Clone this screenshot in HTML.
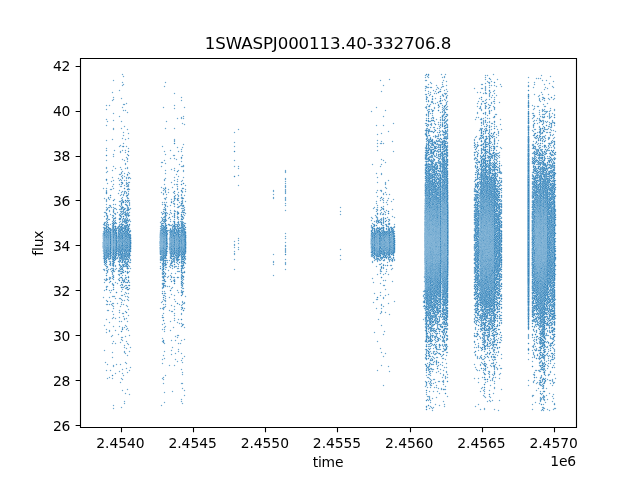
<!DOCTYPE html>
<html lang="en">
<head>
<meta charset="utf-8">
<title>1SWASPJ000113.40-332706.8</title>
<style>
html,body{margin:0;padding:0;background:#fff;}
body{width:640px;height:480px;overflow:hidden;}
svg{display:block;}
text{font-family:"DejaVu Sans","Liberation Sans",sans-serif;fill:#000;}
.t10{font-size:13.889px;letter-spacing:-0.16px;}
.t12{font-size:16.667px;letter-spacing:-0.11px;}
.ax{stroke:#000;stroke-width:1.111;fill:none;}
</style>
</head>
<body>
<svg width="640" height="480" viewBox="0 0 640 480">
<rect width="640" height="480" fill="#fff"/>
<g id="pts">
<g transform="translate(.5 0)" fill="none" stroke-width="1" shape-rendering="crispEdges">
<path stroke="#f0f6fa" d="M102 188v1m0 35v1m0 2v1m0 3v1m0 7v1m0 1v1m0 9v1m0 1v1m0 2v1m0 1v1m0 10v1m0 27v1m1-111v1m0 1v1m0 8v1m0 13v1m0 3v1m0 5v1m0 3v1m0 37v1m0 3v1m0 10v1m0 2v1m0 7v1m0 5v1m0 1v1m0 26v1m0 24v1m1-163v1m0 8v1m0 1v1m0 11v1m0 1v1m0 1v1m0 1v1m0 3v1m0 46v1m0 2v1m0 6v1m0 2v1m0 1v1m0 5v1m0 1v1m0 5v1m0 26v1m0 1v1m0 22v1m0 1v1m0 10v1m1-258v1m0 3v1m0 9v1m0 5v1m0 14v1m0 7v1m0 1v1m0 9v1m0 6v2m0 3v1m0 7v1m0 7v1m0 1v2m0 6v4m0 2v1m0 2v1m0 1v3m0 2v3m0 1v2m0 48v2m0 3v1m0 4v1m0 2v2m0 3v2m0 2v1m0 9v1m0 3v1m0 14v1m0 5v1m0 3v1m0 2v1m0 17v1m0 10v1m0 1v1m0 6v1m1-267v1m0 1v1m0 1v1m0 1v1m0 7v1m0 1v2m0 2v1m0 1v1m0 12v1m0 1v1m0 5v1m0 3v1m0 7v1m0 1v1m0 4v1m0 2v1m0 3v1m0 7v1m0 1v1m0 3v1m0 10v1m0 3v2m0 1v2m0 4v1m0 65v1m0 3v1m0 3v1m0 13v1m0 3v1m0 1v1m0 4v1m0 7v1m0 1v1m0 7v1m0 1v2m0 1v1m0 28v1m0 1v1m0 4v1m0 1v1m0 6v1m1-274v1m0 3v1m0 9v2m0 1v1m0 2v1m0 14v1m0 7v1m0 1v1m0 9v1m0 6v2m0 1v1m0 9v1m0 1v1m0 1v1m0 3v1m0 1v2m0 5v5m0 2v1m0 54v1m0 1v1m0 2v2m0 19v1m0 17v1m0 1v1m0 3v1m0 1v1m0 7v1m0 9v1m0 2v1m0 30v1m0 1v1m0 4v1m0 6v1m0 1v1m1-275v1m0 15v1m0 49v1m0 11v1m0 12v1m0 8v2m0 2v3m0 3v1m0 1v1m0 5v1m0 36v2m0 2v1m0 1v3m0 3v1m0 4v2m0 3v1m0 3v1m0 3v1m0 6v1m0 11v1m0 1v1m0 10v1m0 7v2m0 32v1m0 12v2m1-275v1m0 1v1m0 82v1m0 10v1m0 3v1m0 3v2m0 2v1m0 1v1m0 3v1m0 1v1m0 4v1m0 50v1m0 3v1m0 2v1m0 5v1m0 1v2m0 3v1m0 1v1m0 2v1m0 1v1m0 1v1m0 4v1m0 10v1m0 1v1m0 5v1m0 2v1m0 37v1m0 5v1m0 1v1m1-274v1m0 75v1m0 6v1m0 1v1m0 7v2m0 4v1m0 5v2m0 1v1m0 1v1m0 3v1m0 3v1m0 1v1m0 1v1m0 32v1m0 5v1m0 3v2m0 4v1m0 14v1m0 1v1m0 3v1m0 2v1m0 1v1m0 19v1m0 7v2m0 4v1m0 32v1m0 1v1m0 5v1m1-286v1m0 7v1m0 38v1m0 30v1m0 6v1m0 2v1m0 1v1m0 3v1m0 1v1m0 1v1m0 6v1m0 7v1m0 2v1m0 5v2m0 1v1m0 3v1m0 2v4m0 34v1m0 4v1m0 5v2m0 1v2m0 5v2m0 4v1m0 1v2m0 3v1m0 4v1m0 9v1m0 6v1m0 18v1m0 5v1m0 8v1m0 4v1m0 12v1m0 7v1m1-299v1m0 10v1m0 1v1m0 3v1m0 3v1m0 11v1m0 6v1m0 7v2m0 8v1m0 1v1m0 13v1m0 1v1m0 9v1m0 2v1m0 1v1m0 4v1m0 1v1m0 1v2m0 2v2m0 1v3m0 14v1m0 4v2m0 1v1m0 1v1m0 4v1m0 47v1m0 14v1m0 4v1m0 2v1m0 4v1m0 1v1m0 4v1m0 5v1m0 1v1m0 1v1m0 1v1m0 4v1m0 6v1m0 7v1m0 6v2m0 1v1m0 6v1m0 1v1m0 2v1m0 1v1m0 6v2m0 10v1m0 1v1m0 25v1m0 2v1m1-330v1m0 1v1m0 10v1m0 3v1m0 15v1m0 1v1m0 4v1m0 1v1m0 5v1m0 2v1m0 8v1m0 10v1m0 2v1m0 3v1m0 7v1m0 1v1m0 2v1m0 6v1m0 1v1m0 1v1m0 1v1m0 1v3m0 1v1m0 13v1m0 1v2m0 7v1m0 58v1m0 6v1m0 14v1m0 1v1m0 4v1m0 1v1m0 4v1m0 1v1m0 1v1m0 1v2m0 8v1m0 1v1m0 7v1m0 4v1m0 1v2m0 8v1m0 4v1m0 6v1m0 2v1m0 10v1m0 25v1m0 1v2m0 1v1m1-330v1m0 16v1m0 1v1m0 13v1m0 6v1m0 7v2m0 19v1m0 1v1m0 2v1m0 1v1m0 9v1m0 1v1m0 11v1m0 3v1m0 3v1m0 9v1m0 11v1m0 4v2m0 51v1m0 3v1m0 2v2m0 2v1m0 2v1m0 1v1m0 2v1m0 7v1m0 1v2m0 4v1m0 2v1m0 1v1m0 5v1m0 2v2m0 7v1m0 3v1m0 10v1m0 1v1m0 21v2m0 6v1m0 31v1m0 2v1m1-259v1m0 16v1m0 1v1m0 29v1m0 3v1m0 1v1m0 1v1m0 4v1m0 2v2m0 7v1m0 37v1m0 1v1m0 2v1m0 2v2m0 9v1m0 1v1m0 12v2m0 1v1m0 17v1m0 1v1m0 9v1m0 1v1m0 10v1m0 1v1m0 19v1m0 7v1m0 1v1m1-207v1m0 35v1m0 5v1m0 1v3m0 2v2m0 1v1m0 3v1m0 40v3m0 14v2m0 14v1m0 4v1m0 14v1m0 11v1m0 12v1m0 19v1m0 1v1m0 7v1m1-196v1m0 14v1m0 15v1m0 1v1m0 1v1m0 9v1m0 35v1m0 8v1m0 1v2m0 2v1m0 4v1m0 2v1m0 1v1m0 17v1m0 1v1m0 29v1m0 29v1m1-275v1m0 25v1m0 29v1m0 27v1m0 2v1m0 1v2m0 3v1m0 5v1m0 1v1m0 1v1m0 6v1m0 3v1m0 3v1m0 2v1m0 1v2m0 6v1m0 1v1m0 34v1m0 5v1m0 2v2m0 2v2m0 9v1m0 14v1m0 4v1m0 6v1m0 1v1m0 4v1m0 3v1m0 4v1m0 6v1m0 1v1m0 35v1m1-283v1m0 1v1m0 23v1m0 1v1m0 29v1m0 3v2m0 14v1m0 5v1m0 1v1m0 2v1m0 2v1m0 1v1m0 1v2m0 2v1m0 1v1m0 1v1m0 1v1m0 4v1m0 1v1m0 1v1m0 3v1m0 1v2m0 60v1m0 3v1m0 8v1m0 11v1m0 1v1m0 6v1m0 2v1m0 3v1m0 2v1m0 1v1m0 1v1m0 1v1m0 2v1m0 1v1m0 6v1m0 7v1m0 21v1m0 5v1m0 1v1m0 9v1m1-293v1m0 7v1m0 17v1m0 4v1m0 6v1m0 15v1m0 5v1m0 2v1m0 12v1m0 1v2m0 2v1m0 2v2m0 1v1m0 6v1m0 1v1m0 2v1m0 1v1m0 3v1m0 1v1m0 76v2m0 9v1m0 4v1m0 3v1m0 1v1m0 4v1m0 1v2m0 1v1m0 2v1m0 1v1m0 4v1m0 8v1m0 10v1m0 1v1m0 1v1m0 1v1m0 19v1m0 1v1m0 5v1m0 6v1m0 2v1m0 1v1m0 23v1m1-334v1m0 7v1m0 2v1m0 11v1m0 1v1m0 7v1m0 12v1m0 1v1m0 4v1m0 1v1m0 8v1m0 6v2m0 3v3m0 6v1m0 7v2m0 1v1m0 7v1m0 8v1m0 32v1m0 42v2m0 10v1m0 3v1m0 9v2m0 1v1m0 1v1m0 1v1m0 4v1m0 3v2m0 6v1m0 6v1m0 1v1m0 4v2m0 7v1m0 5v1m0 21v1m0 4v1m0 3v1m0 3v1m0 4v1m0 7v1m0 15v1m0 1v1m1-336v1m0 1v2m0 4v1m0 1v1m0 2v1m0 11v1m0 5v1m0 1v1m0 1v1m0 1v1m0 10v1m0 6v1m0 3v1m0 2v1m0 1v1m0 1v1m0 3v1m0 1v1m0 1v1m0 1v1m0 1v1m0 6v1m0 1v1m0 8v2m0 2v2m0 4v3m0 4v1m0 3v1m0 4v2m0 18v1m0 1v1m0 56v1m0 1v1m0 6v1m0 6v2m0 2v1m0 1v1m0 4v2m0 9v1m0 1v1m0 1v1m0 4v1m0 4v1m0 9v1m0 1v1m0 2v1m0 26v1m0 1v1m0 1v1m0 1v2m0 4v1m0 8v1m0 1v1m0 15v1m1-334v2m0 1v1m0 4v2m0 19v1m0 1v1m0 1v1m0 1v1m0 1v1m0 14v1m0 4v1m0 1v2m0 1v1m0 1v1m0 3v1m0 1v1m0 5v1m0 8v2m0 10v1m0 1v1m0 1v4m0 1v1m0 1v1m0 2v1m0 6v1m0 3v2m0 1v1m0 23v1m0 39v1m0 4v1m0 6v1m0 2v1m0 4v3m0 2v2m0 4v2m0 7v1m0 1v1m0 6v1m0 1v2m0 1v3m0 8v1m0 8v1m0 2v1m0 4v1m0 1v1m0 3v2m0 16v1m0 3v2m0 1v1m0 2v1m0 10v1m0 10v1m0 1v1m1-328v1m0 7v1m0 18v1m0 1v1m0 19v1m0 1v1m0 4v1m0 2v1m0 3v1m0 3v1m0 6v1m0 1v1m0 6v1m0 1v1m0 1v2m0 3v1m0 3v1m0 1v2m0 1v1m0 1v1m0 1v1m0 2v1m0 1v1m0 3v1m0 4v1m0 71v1m0 2v1m0 4v1m0 1v1m0 10v1m0 3v2m0 1v2m0 2v1m0 1v1m0 2v1m0 6v1m0 1v1m0 2v2m0 2v1m0 4v2m0 1v1m0 7v1m0 7v1m0 3v1m0 1v1m0 11v1m0 12v1m0 17v1m0 6v1m0 3v1m1-302v2m0 4v1m0 1v1m0 14v1m0 11v1m0 1v1m0 5v1m0 2v1m0 3v1m0 3v1m0 2v1m0 1v1m0 2v1m0 1v1m0 1v1m0 3v1m0 2v3m0 3v5m0 3v1m0 4v2m0 10v1m0 59v1m0 6v1m0 5v1m0 2v2m0 4v1m0 1v1m0 2v2m0 1v1m0 2v1m0 4v1m0 4v1m0 8v1m0 4v1m0 2v1m0 1v1m0 5v1m0 1v1m0 3v1m0 3v1m0 1v2m0 2v1m0 2v1m0 6v1m0 6v1m0 23v1m0 1v1m0 6v1m0 1v1m1-302v1m0 1v1m0 5v1m0 1v1m0 16v1m0 9v1m0 5v1m0 1v1m0 2v1m0 1v1m0 1v1m0 1v1m0 2v1m0 1v1m0 1v2m0 2v1m0 7v2m0 10v1m0 10v1m0 4v1m0 3v1m0 65v1m0 1v2m0 3v2m0 1v2m0 9v1m0 4v1m0 4v1m0 12v1m0 1v1m0 1v1m0 5v1m0 2v1m0 5v1m0 3v1m0 1v2m0 3v1m0 1v1m0 3v1m0 1v1m0 8v1m0 2v1m0 1v1m0 2v1m0 16v1m0 3v1m1-291v1m0 7v1m0 1v1m0 14v1m0 1v1m0 2v1m0 4v1m0 7v1m0 1v1m0 4v1m0 8v1m0 3v1m0 2v1m0 2v1m0 3v1m0 3v1m0 6v1m0 3v2m0 10v1m0 66v1m0 3v1m0 1v1m0 2v1m0 15v1m0 2v1m0 8v1m0 1v1m0 5v1m0 2v1m0 1v1m0 1v1m0 3v2m0 2v1m0 10v2m0 5v1m0 5v1m0 1v1m0 6v1m0 4v1m0 2v1m0 1v1m0 14v1m0 1v1m1-279v1m0 16v1m0 2v1m0 1v1m0 2v1m0 1v1m0 7v1m0 1v1m0 8v2m0 1v1m0 5v2m0 2v1m0 3v2m0 2v1m0 1v1m0 21v2m0 6v1m0 5v2m0 44v1m0 5v1m0 5v1m0 8v1m0 1v1m0 5v1m0 1v1m0 3v1m0 2v1m0 4v1m0 1v1m0 1v1m0 3v1m0 1v1m0 4v1m0 6v2m0 1v1m0 3v1m0 9v1m0 5v1m0 3v1m0 14v1m0 1v1m0 16v1m0 4v1m1-262v1m0 4v1m0 9v1m0 25v1m0 1v1m0 4v1m0 1v4m0 3v2m0 1v2m0 3v2m0 6v2m0 3v1m0 6v1m0 44v1m0 3v1m0 2v1m0 5v1m0 6v1m0 3v1m0 5v1m0 3v1m0 2v1m0 8v1m0 5v1m0 14v1m0 3v1m0 1v1m0 7v1m0 2v1m0 2v1m0 1v1m0 14v1m0 1v1m0 1v1m0 21v1m0 1v1m1-223v1m0 5v1m0 2v1m0 6v1m0 10v1m0 1v4m0 1v1m0 4v1m0 2v1m0 3v1m0 2v1m0 2v1m0 2v2m0 3v1m0 23v1m0 5v1m0 2v2m0 1v1m0 1v1m0 10v1m0 5v1m0 46v1m0 10v1m0 1v1m0 2v1m0 14v1m0 1v1m0 1v1m0 23v1m1-217v1m0 29v1m0 12v1m0 8v2m0 2v1m0 1v1m0 2v1m0 9v2m0 4v1m0 3v2m0 1v1m0 5v1m0 78v1m0 19v1m28-146v1m0 3v1m0 1v1m0 1v2m0 24v3m0 1v1m0 1v1m0 3v1m0 41v1m1-147v1m0 3v1m0 20v1m0 4v1m0 19v1m0 4v1m0 6v1m0 38v1m0 1v1m0 36v1m0 4v1m0 1v1m0 95v1m1-260v1m0 14v1m0 1v1m0 1v1m0 1v1m0 18v1m0 1v1m0 2v1m0 1v1m0 8v1m0 1v1m0 6v1m0 2v1m0 1v1m0 2v1m0 41v2m0 1v4m0 2v1m0 1v1m0 1v1m0 1v2m0 2v1m0 3v1m0 2v2m0 2v1m0 11v1m0 11v1m0 8v1m0 4v1m0 8v1m0 2v1m0 17v1m0 3v1m0 14v1m0 25v1m0 1v1m1-300v1m0 37v1m0 1v1m0 13v1m0 1v1m0 2v1m0 20v2m0 1v1m0 1v3m0 6v1m0 3v1m0 3v1m0 1v1m0 3v1m0 63v1m0 1v1m0 7v2m0 4v1m0 3v2m0 3v1m0 8v2m0 8v1m0 1v1m0 2v1m0 1v1m0 6v1m0 1v1m0 15v1m0 2v1m0 1v1m0 1v1m0 1v1m0 18v1m0 21v1m1-320v1m0 19v1m0 1v1m0 37v1m0 4v1m0 8v1m0 1v1m0 16v2m0 3v1m0 2v1m0 3v2m0 2v1m0 2v1m0 8v2m0 85v1m0 6v1m0 1v1m0 1v2m0 3v1m0 1v1m0 1v3m0 1v1m0 4v2m0 2v1m0 3v1m0 6v1m0 12v1m0 2v1m0 1v1m0 1v2m0 3v1m0 12v1m0 3v1m0 1v1m0 1v1m0 7v1m0 9v1m1-321v1m0 2v1m0 1v1m0 19v1m0 20v1m0 21v1m0 1v1m0 1v1m0 4v1m0 1v1m0 1v1m0 6v1m0 2v1m0 7v1m0 1v1m0 1v1m0 1v1m0 3v4m0 2v1m0 3v1m0 88v1m0 7v1m0 10v1m0 3v1m0 3v1m0 4v1m0 1v1m0 7v1m0 8v1m0 2v1m0 5v1m0 1v1m0 2v1m0 1v1m0 1v1m0 15v1m0 1v1m0 1v1m0 3v1m0 7v1m0 1v1m0 7v1m0 1v1m1-323v1m0 1v1m0 2v1m0 34v1m0 5v1m0 1v1m0 21v1m0 1v1m0 1v1m0 4v1m0 1v1m0 1v1m0 4v1m0 1v2m0 1v1m0 2v1m0 2v1m0 3v1m0 1v1m0 6v2m0 5v1m0 2v1m0 66v1m0 6v1m0 5v2m0 2v1m0 3v2m0 1v1m0 7v2m0 19v1m0 1v1m0 3v1m0 1v1m0 11v1m0 7v1m0 6v1m0 15v1m0 1v1m0 15v1m0 9v1m1-321v1m0 37v1m0 1v1m0 5v1m0 25v1m0 8v1m0 6v1m0 2v1m0 4v1m0 8v1m0 2v4m0 1v2m0 2v1m0 1v1m0 1v2m0 3v1m0 2v1m0 5v2m0 47v1m0 1v2m0 4v1m0 1v2m0 7v1m0 7v1m0 2v1m0 1v1m0 1v2m0 2v1m0 1v1m0 19v1m0 48v1m1-255v1m0 67v1m0 2v1m0 1v1m0 2v1m0 4v1m0 2v1m0 1v1m0 6v2m0 2v1m0 1v1m0 8v1m0 24v1m0 3v2m0 3v2m0 2v1m0 2v1m0 7v1m0 6v1m0 1v1m1-100v1m0 1v2m0 1v1m0 12v1m0 6v2m0 4v1m0 9v1m0 2v3m0 4v1m0 3v1m0 2v1m0 1v1m0 2v1m0 10v1m0 3v1m0 2v1m0 1v1m0 3v1m0 21v1m0 12v1m0 54v1m1-216v1m0 7v1m0 30v1m0 2v1m0 12v1m0 4v1m0 1v2m0 1v1m0 3v1m0 1v1m0 1v1m0 2v1m0 1v1m0 25v2m0 2v2m0 1v1m0 1v2m0 5v1m0 4v2m0 2v1m0 5v1m0 1v1m0 8v1m0 1v1m0 10v1m0 1v1m0 9v1m0 8v1m0 33v1m0 1v1m1-218v1m0 1v1m0 5v1m0 1v1m0 9v1m0 12v1m0 16v1m0 1v1m0 2v1m0 1v1m0 2v1m0 4v1m0 3v1m0 3v1m0 3v2m0 31v1m0 1v1m0 6v1m0 4v2m0 3v1m0 1v1m0 5v1m0 1v1m0 5v1m0 2v1m0 7v1m0 4v2m0 8v1m0 1v1m0 6v1m0 1v1m0 8v1m0 9v1m0 3v1m0 10v1m1-216v1m0 7v1m0 9v1m0 1v1m0 10v1m0 1v1m0 3v1m0 10v1m0 6v1m0 4v1m0 3v1m0 1v1m0 2v1m0 1v1m0 5v1m0 39v2m0 3v1m0 1v1m0 4v1m0 9v1m0 3v1m0 1v1m0 8v1m0 1v1m0 3v1m0 1v1m0 8v1m0 8v1m0 8v1m0 1v1m0 5v1m0 1v1m0 1v1m0 1v1m0 1v1m0 35v1m1-237v1m0 13v1m0 12v1m0 3v1m0 1v1m0 3v1m0 6v1m0 3v1m0 9v1m0 1v1m0 1v1m0 3v1m0 1v1m0 40v1m0 4v1m0 3v1m0 2v1m0 3v1m0 5v1m0 7v1m0 10v1m0 4v1m0 1v1m0 14v1m0 12v1m0 5v1m0 1v1m0 1v1m0 3v1m0 35v1m0 1v1m1-300v1m0 11v1m0 2v1m0 19v1m0 10v3m0 12v1m0 1v1m0 1v1m0 9v1m0 1v1m0 6v1m0 2v1m0 3v1m0 2v1m0 9v1m0 1v1m0 6v1m0 3v2m0 2v1m0 4v2m0 44v1m0 1v2m0 7v1m0 1v1m0 8v1m0 7v1m0 3v1m0 6v1m0 2v1m0 1v1m0 1v1m0 1v1m0 2v1m0 1v1m0 5v1m0 1v1m0 18v1m0 17v1m0 25v1m1-300v1m0 1v1m0 9v1m0 1v2m0 1v1m0 17v1m0 1v1m0 8v1m0 15v1m0 1v2m0 1v1m0 7v1m0 3v1m0 4v1m0 1v2m0 1v1m0 1v1m0 1v1m0 8v1m0 7v1m0 4v1m0 1v1m0 58v1m0 4v1m0 2v1m0 17v1m0 1v1m0 1v1m0 1v2m0 3v1m0 1v2m0 1v1m0 1v1m0 3v2m0 3v1m0 5v1m0 8v1m0 3v1m0 12v1m0 5v1m0 4v1m0 1v1m1-274v1m0 11v1m0 2v1m0 19v1m0 10v3m0 13v1m0 2v2m0 8v1m0 1v1m0 3v1m0 2v1m0 2v1m0 12v2m0 5v1m0 2v2m0 1v1m0 5v1m0 1v1m0 1v1m0 2v1m0 41v1m0 3v1m0 6v1m0 1v1m0 2v1m0 1v1m0 15v1m0 3v2m0 1v1m0 3v1m0 2v1m0 3v1m0 1v1m0 2v1m0 1v1m0 14v1m0 1v1m0 1v1m0 1v1m0 10v1m0 1v1m0 3v1m0 1v1m0 4v1m1-248v1m0 28v1m0 10v1m0 1v1m0 12v1m0 1v1m0 3v1m0 1v1m0 1v1m0 1v2m0 1v2m0 4v2m0 4v1m0 3v1m0 2v1m0 5v2m0 1v3m0 3v2m0 41v1m0 1v2m0 2v1m0 1v1m0 16v1m0 10v1m0 20v1m0 12v3m0 2v1m0 12v1m0 5v1m0 1v1m1-245v1m0 1v1m0 26v1m0 1v1m0 2v1m0 7v1m0 14v1m0 1v1m0 1v1m0 3v2m0 6v1m0 1v2m0 2v2m0 3v1m0 1v1m0 1v1m0 2v1m0 1v1m0 56v1m0 1v2m0 1v1m0 16v1m0 1v2m0 26v1m0 1v1m0 1v1m0 10v1m0 3v1m0 4v1m0 5v1m0 1v1m0 8v1m0 1v1m1-245v1m0 28v1m0 2v1m0 1v1m0 11v1m0 4v1m0 5v1m0 1v1m0 1v1m0 1v1m0 2v1m0 1v1m0 1v2m0 1v1m0 1v1m0 7v2m0 1v2m0 2v1m0 60v2m0 1v1m0 3v1m0 1v1m0 11v2m0 1v1m0 10v1m0 13v1m0 1v1m0 1v2m0 10v1m0 1v2m0 4v1m0 1v1m0 3v1m0 3v1m0 8v1m1-211v1m0 11v1m0 1v1m0 4v1m0 5v1m0 15v1m0 2v2m0 1v1m0 1v2m0 1v1m0 8v1m0 4v1m0 1v1m0 38v1m0 5v1m0 1v1m0 1v1m0 1v1m0 1v1m0 4v1m0 14v1m0 10v1m0 1v1m0 13v1m0 2v1m0 1v1m0 10v1m0 13v1m0 1v1m1-255v1m0 2v1m0 16v2m0 30v1m0 1v1m0 6v1m0 2v1m0 2v1m0 1v1m0 14v1m0 9v1m0 2v2m0 1v2m0 2v2m0 5v1m0 3v1m0 2v1m0 2v1m0 1v1m0 37v1m0 1v1m0 2v1m0 5v1m0 4v3m0 1v2m0 2v1m0 1v2m0 1v1m0 2v2m0 12v2m0 1v1m0 1v1m0 3v2m0 11v1m0 13v1m0 1v1m0 1v1m0 8v1m0 6v1m0 8v1m0 13v1m0 15v1m0 1v1m1-306v1m0 1v2m0 1v1m0 14v1m0 2v1m0 3v1m0 23v2m0 3v1m0 2v1m0 3v2m0 1v1m0 2v1m0 1v1m0 14v1m0 10v1m0 5v1m0 7v1m0 1v2m0 78v1m0 11v2m0 7v1m0 1v1m0 2v1m0 6v1m0 4v1m0 11v1m0 1v1m0 1v1m0 8v1m0 1v1m0 3v2m0 1v2m0 5v1m0 1v1m0 1v1m0 1v1m0 7v1m0 1v1m0 3v1m0 9v1m0 3v2m1-307v1m0 2v1m0 15v2m0 4v1m0 1v1m0 19v1m0 1v1m0 1v2m0 1v1m0 2v1m0 1v1m0 1v1m0 2v1m0 5v1m0 2v2m0 5v1m0 1v1m0 13v4m0 16v1m0 75v1m0 10v1m0 5v1m0 6v2m0 25v1m0 12v1m0 3v1m0 1v3m0 1v1m0 5v1m0 1v1m0 3v1m0 6v1m0 1v1m0 2v1m0 1v1m0 9v1m0 1v2m0 1v1m1-298v1m0 7v1m0 3v1m0 3v2m0 18v1m0 1v1m0 1v1m0 7v1m0 8v1m0 2v1m0 1v1m0 2v1m0 3v1m0 1v1m0 1v1m0 6v1m0 1v1m0 1v2m0 2v1m0 3v5m0 65v1m0 15v3m0 1v2m0 2v2m0 6v1m0 5v1m0 15v1m0 3v1m0 11v1m0 16v1m0 1v1m0 3v1m0 9v1m0 1v1m0 8v1m0 4v1m0 1v1m0 4v1m0 7v1m1-298v1m0 1v1m0 7v1m0 1v1m0 4v1m0 1v1m0 18v1m0 20v2m0 3v2m0 5v1m0 7v1m0 2v2m0 1v1m0 2v1m0 1v1m0 1v1m0 2v1m0 14v3m0 45v1m0 1v1m0 3v1m0 6v1m0 1v1m0 3v1m0 4v1m0 2v1m0 4v1m0 4v1m0 2v1m0 2v1m0 1v1m0 14v1m0 1v1m0 1v1m0 9v1m0 1v1m0 14v1m0 1v1m0 31v1m0 1v1m0 2v1m0 1v1m1-290v1m0 16v1m0 59v1m0 1v1m0 1v1m0 3v1m0 2v1m0 4v1m0 1v1m0 4v1m0 1v2m0 3v2m0 6v1m0 1v1m0 39v1m0 2v1m0 3v1m0 23v1m0 1v1m0 4v2m0 4v1m0 18v1m0 11v1m0 16v1m0 33v1m0 4v1m1-211v1m0 3v1m0 1v1m0 9v1m0 11v1m0 9v1m0 5v1m0 1v1m0 2v1m0 18v1m0 2v1m0 1v2m0 3v1m0 32v1m47-165v1m0 9v1m0 3v1m0 13v1m0 5v1m0 74v1m0 2v2m0 1v1m0 3v1m0 1v2m0 4v1m0 9v1m1-139v1m0 1v1m0 7v1m0 1v1m0 1v1m0 1v1m0 11v1m0 1v1m0 3v1m0 1v1m0 72v1m0 1v2m0 4v1m0 1v1m0 4v1m0 2v1m0 1v1m0 7v1m0 1v1m1-139v1m0 9v1m0 3v1m0 13v1m0 5v1m0 74v1m0 2v2m0 1v1m0 3v1m0 1v2m0 4v1m0 9v1m2-141v1m0 36v1m0 1v1m0 6v1m0 9v1m0 52v1m0 1v1m0 2v1m0 3v1m0 1v1m1-122v1m0 1v1m0 34v1m0 3v1m0 4v1m0 1v1m0 7v1m0 1v1m0 50v1m0 3v2m0 1v1m0 1v1m0 3v1m1-122v1m0 36v1m0 1v1m0 6v1m0 9v1m0 52v1m0 1v1m0 2v1m0 3v1m0 1v1m33-60v2m0 2v1m0 2v2m0 55v1m0 6v2m0 1v1m0 10v1m1-87v1m0 2v2m0 1v2m0 2v1m0 53v1m0 1v1m0 4v1m0 4v1m0 8v1m0 1v1m1-87v2m0 2v1m0 2v2m0 55v1m0 6v2m0 1v1m0 10v1m10-106v3m0 5v2m0 1v1m0 1v1m0 1v3m0 1v5m0 3v4m0 2v1m0 1v1m0 4v1m0 22v1m0 2v1m0 1v1m0 3v1m0 2v2m0 1v5m0 6v1m0 2v3m0 4v1m1-101v1m0 3v1m0 3v1m0 16v1m0 1v1m0 4v2m0 3v1m0 2v1m0 1v1m0 20v1m0 1v2m0 3v1m0 1v1m0 1v2m0 13v1m0 1v2m0 3v1m0 2v1m0 1v1m1-101v3m0 5v2m0 1v1m0 1v1m0 1v3m0 1v5m0 3v4m0 2v1m0 1v1m0 4v1m0 22v1m0 2v1m0 1v1m0 3v1m0 2v2m0 1v5m0 6v1m0 2v3m0 4v1m53-63v1m0 3v1m0 2v1m0 34v1m0 5v1m0 3v1m1-54v1m0 1v1m0 1v1m0 1v2m0 1v1m0 32v1m0 1v1m0 3v1m0 1v1m0 1v1m0 1v1m1-54v1m0 3v1m0 2v1m0 34v1m0 5v1m0 3v1m29-149v1m0 105v1m0 2v1m0 4v3m0 4v1m0 16v3m0 2v3m1-147v1m0 1v1m0 51v1m0 51v1m0 2v1m0 1v1m0 1v2m0 32v1m0 3v2m0 15v1m1-168v1m0 51v1m0 1v1m0 42v1m0 10v2m0 1v1m0 2v1m0 34v1m0 2v1m0 13v1m0 1v1m0 2v1m0 19v1m1-139v1m0 44v1m0 8v1m0 2v1m0 38v3m0 15v1m0 2v1m0 1v1m0 9v1m0 7v1m0 1v1m0 28v1m1-127v1m0 8v1m0 4v1m0 1v2m0 37v1m0 20v1m0 9v1m0 1v1m0 7v1m0 28v1m0 1v1m1-227v1m0 17v1m0 47v1m0 18v1m0 8v1m0 1v1m0 3v1m0 1v1m0 1v1m0 2v1m0 2v1m0 2v1m0 1v1m0 1v1m0 1v1m0 39v1m0 26v1m0 5v1m0 8v1m0 23v1m1-227v1m0 1v1m0 15v1m0 1v1m0 7v1m0 5v1m0 2v1m0 2v1m0 3v1m0 21v1m0 1v1m0 2v1m0 4v1m0 7v2m0 1v1m0 2v1m0 3v1m0 3v2m0 1v2m0 3v1m0 1v1m0 46v1m0 3v1m0 1v1m0 6v1m0 23v1m0 1v1m0 6v1m0 1v1m0 31v1m0 28v1m1-264v1m0 17v1m0 7v1m0 1v1m0 3v1m0 1v2m0 1v2m0 1v1m0 1v1m0 1v1m0 21v1m0 2v1m0 1v1m0 2v1m0 1v1m0 5v1m0 1v2m0 2v1m0 1v1m0 3v1m0 1v2m0 10v1m0 8v1m0 1v1m0 35v1m0 3v1m0 6v1m0 1v1m0 24v1m0 7v1m0 10v1m0 20v1m0 1v1m0 26v1m0 1v1m1-238v1m0 5v1m0 2v1m0 2v1m0 3v1m0 26v1m0 4v1m0 7v1m0 5v1m0 8v1m0 1v1m0 1v2m0 3v1m0 2v2m0 42v1m0 2v1m0 9v1m0 24v1m0 18v1m0 1v1m0 20v1m0 28v1m1-291v1m0 62v1m0 22v1m0 23v1m0 7v1m0 1v1m0 9v1m0 2v2m0 8v1m0 2v1m0 34v1m0 1v1m0 1v1m0 3v3m0 1v1m0 9v1m0 8v1m0 2v1m0 17v1m0 5v1m0 28v1m1-270v1m0 1v1m0 9v1m0 41v1m0 7v2m0 1v1m0 14v1m0 4v2m0 1v1m0 5v2m0 14v1m0 11v1m0 9v1m0 3v1m0 45v1m0 3v2m0 7v1m0 7v1m0 1v1m0 6v1m0 1v2m0 1v1m0 7v2m0 2v1m0 2v1m0 2v1m0 10v1m0 21v1m0 1v1m0 2v1m0 12v1m1-286v1m0 9v1m0 1v1m0 39v1m0 1v1m0 5v1m0 3v1m0 13v1m0 1v1m0 2v1m0 1v2m0 5v1m0 2v1m0 13v1m0 2v1m0 6v2m0 10v1m0 5v1m0 8v1m0 35v1m0 2v1m0 6v2m0 9v1m0 8v1m0 2v1m0 7v1m0 2v2m0 1v2m0 13v1m0 1v1m0 21v1m0 2v1m0 1v1m0 10v1m0 1v1m1-282v1m0 5v1m0 24v1m0 8v1m0 7v1m0 7v1m0 17v2m0 3v1m0 8v2m0 15v2m0 1v2m0 7v1m0 3v1m0 5v1m0 2v1m0 1v1m0 3v1m0 41v2m0 1v1m0 4v1m0 2v1m0 5v1m0 4v1m0 11v2m0 5v3m0 1v1m0 2v2m0 12v1m0 8v1m0 17v1m0 3v1m0 8v1m0 19v1m1-302v1m0 1v1m0 28v1m0 1v1m0 6v1m0 1v1m0 15v1m0 1v1m0 14v1m0 1v1m0 30v1m0 2v1m0 1v1m0 5v1m0 1v1m0 5v2m0 2v2m0 46v1m0 5v1m0 3v1m0 1v1m0 3v1m0 1v1m0 2v1m0 1v1m0 9v1m0 2v1m0 5v1m0 1v1m0 23v1m0 1v1m0 1v1m0 19v1m0 1v1m0 26v1m0 1v1m1-302v1m0 24v1m0 5v1m0 8v1m0 17v1m0 16v1m0 1v1m0 19v3m0 2v1m0 4v3m0 3v1m0 1v1m0 1v1m0 3v1m0 1v1m0 1v1m0 2v1m0 3v1m0 2v1m0 2v3m0 35v1m0 2v1m0 2v2m0 4v2m0 9v1m0 1v1m0 2v1m0 5v1m0 1v2m0 7v1m0 5v1m0 17v1m0 1v1m0 1v1m0 18v1m0 2v1m0 28v1m1-277v1m0 1v1m0 49v1m0 1v1m0 17v1m0 3v2m0 4v1m0 1v2m0 7v1m0 7v1m0 4v1m0 7v1m0 2v1m0 2v2m0 28v2m0 3v1m0 1v1m0 2v1m0 1v2m0 1v1m0 4v1m0 1v1m0 3v1m0 2v1m0 1v1m0 3v1m0 1v1m0 14v1m0 1v1m0 17v1m0 20v1m0 1v1m1-245v1m0 51v1m0 19v3m0 4v1m0 2v2m0 1v1m0 4v2m0 1v2m0 4v1m0 1v2m0 1v1m0 2v1m0 1v1m0 3v1m0 35v1m0 2v1m0 5v1m0 3v2m0 6v1m0 8v1m0 5v1m0 16v1m0 40v1m1-223v1m0 48v1m0 7v1m0 5v1m0 3v2m0 1v3m0 1v1m0 4v1m0 5v1m0 1v4m0 1v1m0 35v1m0 1v1m0 1v1m0 5v1m0 1v1m0 2v1m0 19v1m0 8v1m0 62v1m1-288v1m0 50v1m0 1v1m0 46v1m0 1v1m0 12v1m0 2v1m0 1v2m0 3v1m0 12v2m0 42v2m0 10v1m0 1v1m0 17v1m0 1v1m0 6v1m0 1v1m0 9v1m0 50v1m0 1v1m0 3v1m1-294v1m0 1v1m0 50v1m0 48v1m0 12v1m0 1v1m0 2v1m0 19v1m0 6v2m0 35v1m0 2v1m0 8v1m0 19v1m0 8v1m0 9v1m0 1v1m0 50v1m0 3v1m0 1v1m1-294v1m0 114v1m0 6v1m0 17v2m0 3v1m0 36v1m0 2v1m0 1v1m0 2v1m0 44v1m0 56v1m1-231v1m0 58v1m0 1v1m0 6v1m0 6v1m0 39v1m0 7v1m0 1v1m0 3v1m0 10v1m1-159v1m0 16v1m0 1v1m0 8v1m0 47v1m0 1v1m0 6v1m0 1v1m0 4v1m0 1v1m0 44v1m0 2v1m0 1v1m0 12v1m0 1v1m1-161v1m0 1v1m0 16v1m0 8v1m0 1v1m0 45v1m0 1v1m0 8v1m0 6v2m0 6v1m0 36v1m0 6v1m0 12v1m0 19v1m1-179v1m0 27v1m0 47v1m0 16v1m0 1v1m0 4v1m0 4v2m0 24v1m0 6v1m0 38v1m0 1v1m1-86v1m0 6v1m0 1v2m0 3v1m0 1v1m0 1v1m0 3v1m0 3v1m0 8v1m0 6v2m0 40v1m27-11v1m0 3v2m0 4v2m0 3v1m0 12v1m1-44v2m0 3v1m0 10v1m0 10v1m0 3v2m0 9v1m0 1v1m1-246v1m0 1v1m0 2v1m0 5v1m0 1v1m0 1v1m0 3v1m0 12v1m0 15v1m0 9v1m0 13v2m0 1v1m0 3v1m0 1v1m0 2v1m0 1v1m0 5v2m0 2v1m0 2v1m0 2v1m0 4v1m0 13v2m0 112v1m0 1v2m0 1v1m0 4v2m0 1v2m0 1v2m0 12v1m0 8v1m0 4v1m0 2v2m0 22v1m0 4v1m1-309v2m0 1v1m0 3v1m0 5v1m0 1v1m0 1v4m0 2v1m0 13v1m0 2v1m0 3v1m0 1v1m0 3v1m0 7v1m0 1v1m0 2v1m0 1v2m0 190v1m0 8v2m0 2v1m0 2v2m0 15v2m0 2v1m0 2v1m0 4v1m0 2v2m0 2v1m0 4v1m0 1v1m0 12v1m1-332v2m0 1v1m0 1v1m0 3v1m0 4v1m0 2v1m0 8v1m0 1v2m0 3v2m0 5v2m0 4v1m0 4v1m0 215v1m0 19v1m0 9v2m0 1v2m0 9v1m0 7v2m1-317v1m0 3v1m0 3v1m0 2v1m0 1v2m0 5v1m0 2v1m0 1v1m0 1v2m0 4v1m0 2v1m0 226v1m0 1v1m0 2v1m0 13v1m0 1v1m0 7v1m0 1v3m0 1v1m0 2v1m0 1v4m0 1v1m0 3v1m0 1v2m0 1v2m0 8v1m1-330v1m0 4v1m0 1v2m0 1v1m0 1v1m0 3v2m0 1v1m0 1v1m0 4v1m0 2v2m0 14v1m0 13v1m0 184v1m0 20v1m0 18v2m0 8v2m0 1v2m0 3v1m0 1v2m0 3v1m0 3v1m0 3v1m0 2v1m0 2v1m0 6v1m1-334v1m0 1v1m0 4v1m0 1v1m0 6v3m0 2v1m0 3v1m0 7v1m0 5v3m0 5v1m0 2v1m0 1v2m0 4v1m0 3v1m0 13v1m0 182v2m0 6v1m0 4v1m0 11v1m0 1v1m0 23v1m0 1v1m0 2v1m0 1v1m0 2v1m0 6v1m0 3v2m0 1v1m1-329v1m0 4v1m0 1v1m0 2v1m0 9v3m0 7v2m0 1v1m0 3v1m0 3v1m0 3v1m0 1v2m0 2v1m0 3v1m0 21v1m0 191v1m0 2v2m0 2v1m0 7v3m0 2v1m0 5v1m0 11v1m0 2v1m0 4v3m0 4v1m0 1v1m0 2v1m1-325v1m0 1v1m0 1v1m0 3v1m0 1v1m0 3v1m0 1v1m0 2v2m0 3v1m0 6v1m0 6v1m0 3v2m0 9v1m0 194v1m0 15v1m0 2v2m0 1v1m0 2v1m0 3v1m0 5v1m0 2v1m0 2v1m0 1v1m0 10v2m0 10v1m0 1v1m0 1v1m0 7v1m1-328v1m0 3v1m0 2v1m0 32v3m0 1v1m0 2v1m0 5v1m0 195v1m0 5v1m0 9v1m0 2v2m0 2v1m0 5v3m0 1v1m0 6v1m0 6v2m0 4v1m0 5v1m0 5v1m0 1v1m0 11v1m1-323v1m0 1v1m0 1v1m0 4v1m0 2v1m0 2v1m0 2v3m0 3v1m0 1v2m0 6v1m0 2v1m0 1v2m0 5v1m0 1v1m0 189v1m0 5v2m0 4v1m0 6v2m0 1v2m0 9v1m0 4v1m0 2v1m0 1v2m0 6v1m0 1v1m0 1v1m0 1v1m0 2v1m0 2v1m0 1v1m0 5v1m0 7v1m0 3v1m1-321v3m0 1v1m0 3v1m0 7v1m0 2v2m0 6v2m0 7v1m0 8v1m0 1v1m0 2v1m0 16v1m0 4v1m0 164v1m0 14v1m0 3v1m0 1v1m0 1v1m0 4v1m0 3v2m0 3v1m0 4v1m0 8v1m0 1v1m0 1v2m0 2v1m0 1v1m0 2v1m0 12v1m0 2v1m1-323v1m0 3v2m0 1v1m0 4v1m0 1v1m0 2v1m0 1v1m0 2v2m0 10v1m0 1v1m0 5v1m0 6v1m0 3v1m0 6v1m0 7v2m0 5v2m0 166v1m0 14v1m0 5v1m0 2v1m0 2v1m0 1v2m0 1v1m0 2v2m0 7v1m0 6v1m0 1v1m0 1v1m0 1v1m0 11v1m0 5v1m0 1v1m1-322v1m0 1v3m0 1v3m0 1v1m0 3v1m0 3v2m0 14v1m0 1v1m0 7v1m0 3v1m0 5v1m0 10v1m0 8v1m0 2v1m0 163v3m0 10v2m0 3v1m0 12v1m0 1v2m0 5v2m0 4v1m0 1v1m0 8v1m0 1v1m0 3v1m0 2v1m0 4v1m0 1v1m0 5v1m1-320v2m0 2v1m0 3v1m0 7v1m0 1v2m0 2v1m0 11v1m0 2v1m0 1v1m0 2v1m0 1v1m0 1v1m0 1v2m0 4v1m0 13v1m0 177v1m0 3v1m0 6v1m0 1v1m0 1v2m0 2v1m0 5v1m0 1v1m0 1v1m0 2v2m0 6v2m0 8v1m0 3v1m0 1v2m0 1v1m0 1v1m0 4v1m1-309v1m0 11v3m0 4v1m0 12v1m0 3v2m0 3v1m0 2v1m0 8v1m0 21v1m0 150v1m0 10v1m0 3v1m0 15v3m0 1v1m0 3v1m0 2v1m0 6v1m0 5v1m0 1v1m0 7v1m0 1v1m0 4v1m0 1v1m0 1v1m0 1v1m0 11v1m1-318v3m0 5v1m0 5v1m0 1v1m0 7v1m0 4v1m0 1v2m0 15v1m0 6v1m0 169v1m0 20v4m0 12v1m0 13v2m0 3v1m0 1v1m0 1v1m0 6v1m0 1v1m0 5v1m0 3v1m0 1v1m0 9v1m0 1v1m1-333v1m0 12v2m0 6v1m0 10v1m0 4v1m0 1v1m0 2v1m0 16v1m0 2v1m0 23v1m0 157v2m0 1v1m0 1v1m0 4v1m0 1v1m0 2v2m0 2v1m0 2v1m0 6v2m0 1v1m0 5v1m0 6v1m0 1v1m0 2v1m0 1v1m0 1v1m0 1v1m0 6v1m0 6v2m0 3v1m0 11v1m1-333v1m0 1v1m0 1v1m0 4v1m0 1v1m0 3v2m0 4v3m0 4v2m0 1v2m0 1v1m0 1v1m0 1v1m0 6v1m0 4v1m0 3v1m0 2v1m0 4v1m0 12v1m0 1v1m0 158v1m0 8v2m0 2v1m0 5v3m0 4v1m0 3v3m0 2v1m0 4v1m0 1v1m0 5v2m0 3v1m0 1v2m0 3v1m0 3v1m0 3v1m0 3v1m0 5v1m0 2v1m1-317v1m0 1v1m0 1v1m0 1v2m0 11v1m0 5v1m0 1v1m0 1v2m0 8v1m0 15v1m0 3v1m0 186v1m0 8v1m0 5v1m0 6v2m0 4v1m0 1v1m0 1v1m0 4v1m0 1v1m0 1v1m0 1v2m0 1v1m0 3v1m0 3v3m0 1v1m0 5v1m0 3v1m0 12v1m1-326v1m0 2v1m0 1v2m0 1v2m0 1v1m0 2v1m0 2v1m0 3v1m0 1v2m0 4v1m0 12v1m0 2v1m0 203v1m0 26v1m0 4v1m0 1v1m0 2v1m0 2v1m0 1v1m0 1v1m0 1v1m0 1v1m0 2v2m0 1v1m0 5v1m0 14v1m0 1v1m0 1v1m0 1v1m1-333v2m0 2v1m0 1v1m0 5v1m0 2v1m0 1v2m0 2v2m0 1v1m0 259v2m0 6v1m0 1v1m0 1v1m0 3v5m0 1v3m0 1v1m0 1v1m0 1v1m0 1v1m0 10v1m0 1v1m0 3v1m1-335v1m0 1v3m0 3v1m0 3v1m0 3v2m0 1v1m0 2v2m0 1v1m0 2v3m0 6v1m0 219v1m0 7v2m0 1v1m0 1v1m0 7v2m0 2v1m0 2v1m0 1v1m0 2v1m0 7v2m0 2v1m0 3v1m0 5v1m0 1v2m0 1v1m0 13v1m0 1v1m1-333v1m0 5v1m0 1v1m0 1v1m0 1v1m0 1v1m0 1v3m0 6v2m0 17v1m0 10v1m0 14v1m0 192v1m0 3v1m0 9v1m0 1v2m0 1v1m0 2v1m0 2v1m0 1v1m0 1v1m0 1v1m0 1v1m0 2v2m0 1v1m0 1v1m0 7v1m0 2v1m0 6v1m1-316v1m0 3v1m0 3v2m0 1v3m0 3v1m0 1v1m0 2v3m0 2v1m0 1v1m0 2v1m0 4v1m0 202v1m0 5v1m0 2v1m0 3v1m0 14v1m0 1v1m0 1v1m0 1v1m0 7v1m0 3v1m0 3v3m0 1v2m0 1v1m0 16v1m0 1v1m1-307v1m0 3v1m0 5v1m0 4v1m0 2v1m0 4v2m0 3v2m0 3v3m0 2v3m0 1v5m0 4v2m0 1v3m0 1v2m0 2v2m0 1v1m0 13v1m0 4v1m0 8v1m0 113v2m0 5v1m0 1v1m0 4v1m0 1v2m0 1v1m0 1v1m0 3v2m0 3v2m0 5v2m0 1v1m0 7v1m0 5v1m0 21v1m0 2v1m0 18v1m25-309v1m0 50v2m0 1v2m0 3v1m0 6v2m0 2v2m0 21v1m0 6v3m0 3v1m0 2v2m0 5v1m0 5v1m0 3v1m0 1v1m0 3v1m0 2v2m0 3v2m0 8v2m0 5v1m0 3v2m0 2v2m0 5v1m0 1v1m0 5v6m0 2v1m0 7v2m0 19v1m0 3v1m0 4v1m0 3v2m0 2v1m0 10v1m0 2v1m0 5v1m0 4v1m0 4v1m0 11v1m0 13v1m1-292v1m0 1v1m0 29v1m0 17v2m0 9v1m0 7v1m0 3v1m0 1v1m0 2v1m0 1v1m0 4v1m0 4v1m0 1v1m0 2v2m0 1v1m0 7v1m0 96v1m0 12v1m0 7v1m0 1v1m0 2v1m0 10v3m0 2v1m0 4v1m0 5v2m0 1v1m0 1v1m0 4v3m0 7v1m0 1v1m0 1v1m0 9v1m0 1v1m0 26v1m1-319v1m0 28v2m0 1v1m0 17v3m0 1v1m0 10v4m0 3v2m0 2v1m0 5v2m0 4v1m0 5v1m0 118v1m0 24v1m0 3v1m0 6v1m0 4v2m0 1v1m0 7v1m0 2v1m0 7v1m0 1v1m0 1v2m0 8v1m0 26v1m0 1v1m1-316v1m0 10v1m0 2v1m0 5v2m0 2v1m0 1v2m0 15v1m0 6v1m0 2v1m0 4v1m0 4v1m0 9v1m0 9v1m0 12v1m0 125v1m0 4v1m0 7v3m0 1v2m0 6v1m0 4v1m0 1v1m0 1v1m0 5v5m0 8v2m0 37v1m1-316v1m0 1v1m0 7v2m0 1v2m0 1v1m0 3v1m0 2v1m0 21v1m0 4v1m0 6v1m0 1v1m0 29v1m0 141v1m0 6v2m0 7v1m0 1v1m0 2v1m0 1v2m0 3v1m0 4v1m0 3v1m0 11v1m0 6v1m0 3v1m0 21v1m1-313v1m0 5v1m0 1v1m0 1v2m0 2v1m0 1v1m0 3v2m0 2v1m0 1v1m0 11v1m0 7v2m0 2v1m0 6v1m0 1v1m0 3v1m0 3v1m0 3v2m0 126v1m0 24v1m0 11v1m0 1v2m0 4v1m0 2v1m0 2v1m0 5v2m0 1v1m0 4v2m0 19v1m0 1v1m0 1v1m0 1v1m0 19v1m0 1v1m1-314v1m0 4v1m0 1v1m0 1v1m0 4v1m0 2v1m0 7v1m0 1v1m0 8v1m0 2v1m0 3v1m0 4v1m0 9v1m0 2v1m0 1v2m0 1v1m0 1v1m0 4v1m0 1v1m0 4v1m0 12v1m0 120v2m0 5v1m0 9v2m0 1v1m0 1v1m0 2v1m0 2v2m0 2v1m0 4v1m0 1v2m0 3v1m0 5v1m0 2v1m0 4v2m0 3v1m0 1v1m0 6v1m0 3v1m0 8v1m0 12v1m0 4v1m1-326v1m0 3v1m0 2v1m0 1v1m0 4v2m0 3v3m0 4v1m0 9v1m0 2v1m0 1v1m0 1v1m0 3v1m0 2v1m0 5v1m0 5v1m0 2v1m0 1v2m0 1v1m0 177v1m0 6v1m0 6v1m0 3v1m0 11v2m0 2v1m0 3v1m0 17v1m0 1v1m0 1v1m0 15v1m0 1v1m1-328v1m0 1v1m0 1v1m0 1v1m0 2v1m0 7v3m0 2v3m0 3v1m0 5v1m0 8v2m0 15v1m0 168v1m0 20v1m0 6v1m0 1v1m0 1v1m0 6v1m0 2v1m0 6v1m0 2v2m0 11v1m0 11v1m0 1v1m0 17v1m1-327v1m0 1v1m0 1v1m0 1v1m0 3v1m0 5v2m0 1v3m0 4v2m0 9v2m0 2v2m0 1v1m0 12v1m0 6v1m0 6v1m0 176v1m0 13v1m0 9v1m0 1v1m0 2v1m0 9v1m0 1v1m0 3v1m0 1v1m0 7v1m0 3v1m0 4v1m1-312v1m0 3v1m0 3v1m0 1v1m0 5v1m0 1v2m0 13v1m0 7v2m0 1v2m0 9v3m0 9v2m0 178v1m0 16v1m0 2v1m0 4v1m0 3v2m0 5v1m0 6v1m0 4v1m0 13v2m0 13v2m1-335v1m0 1v1m0 1v1m0 3v1m0 2v5m0 1v1m0 7v3m0 1v4m0 6v1m0 2v2m0 4v3m0 1v1m0 4v1m0 1v1m0 2v2m0 213v1m0 1v2m0 4v1m0 14v1m0 4v1m0 1v1m0 11v1m0 12v1m0 2v1m1-337v1m0 5v1m0 1v1m0 1v2m0 8v1m0 6v1m0 13v2m0 1v1m0 4v2m0 2v1m0 6v2m0 201v2m0 11v2m0 1v1m0 1v1m0 5v2m0 8v1m0 3v1m0 5v1m0 1v1m0 5v1m0 1v1m0 1v1m0 4v1m0 9v2m1-333v1m0 1v1m0 1v1m0 1v1m0 2v5m0 3v1m0 3v1m0 2v1m0 11v3m0 1v2m0 2v1m0 1v1m0 8v2m0 22v1m0 2v1m0 164v1m0 8v1m0 3v2m0 1v2m0 1v1m0 5v1m0 2v1m0 2v1m0 1v1m0 9v1m0 1v2m0 3v1m0 6v2m0 14v1m0 3v1m1-328v1m0 1v1m0 3v1m0 12v1m0 5v1m0 2v1m0 1v1m0 1v1m0 1v1m0 5v1m0 1v2m0 1v1m0 1v1m0 1v1m0 4v1m0 2v1m0 9v1m0 5v2m0 5v1m0 4v1m0 159v1m0 7v1m0 13v1m0 7v1m0 1v1m0 12v1m0 1v1m0 1v1m0 2v1m0 1v1m0 8v1m0 17v1m0 1v1m1-328v1m0 9v1m0 1v1m0 3v1m0 1v4m0 2v1m0 3v1m0 5v2m0 1v1m0 2v1m0 5v1m0 4v1m0 2v1m0 1v1m0 16v1m0 5v1m0 161v1m0 25v1m0 4v1m0 2v1m0 1v1m0 1v1m0 3v1m0 1v1m0 6v1m0 2v1m0 5v2m0 3v1m0 8v1m0 5v1m0 3v2m1-321v1m0 6v1m0 8v2m0 1v1m0 8v1m0 7v1m0 1v2m0 2v2m0 213v2m0 11v1m0 3v1m0 1v1m0 1v1m0 1v1m0 3v1m0 4v1m0 7v1m0 1v1m0 4v1m0 3v1m0 1v1m0 7v1m1-320v4m0 3v1m0 6v4m0 1v1m0 2v3m0 1v1m0 5v1m0 5v1m0 2v3m0 1v1m0 4v3m0 11v1m0 187v3m0 1v2m0 12v1m0 3v1m0 2v1m0 2v1m0 2v2m0 6v2m0 1v1m0 1v2m0 1v1m0 1v1m0 2v1m0 1v1m0 3v1m0 7v1m0 3v1m1-324v2m0 1v1m0 1v1m0 1v1m0 5v1m0 2v2m0 1v1m0 2v1m0 2v2m0 3v1m0 1v1m0 10v1m0 1v2m0 1v2m0 1v1m0 7v1m0 5v2m0 5v1m0 7v1m0 172v1m0 1v1m0 1v1m0 4v1m0 7v1m0 4v1m0 3v2m0 2v1m0 1v1m0 2v1m0 6v1m0 3v2m0 5v1m0 11v1m0 2v2m1-328v1m0 6v1m0 3v1m0 5v1m0 2v1m0 1v2m0 3v3m0 2v1m0 3v1m0 6v1m0 4v1m0 1v1m0 1v1m0 2v1m0 12v2m0 1v1m0 13v3m0 176v1m0 1v1m0 9v2m0 1v1m0 1v1m0 2v1m0 5v2m0 7v1m0 7v1m0 11v1m0 5v1m0 1v1m1-329v1m0 1v1m0 9v1m0 6v2m0 1v1m0 1v1m0 1v2m0 1v2m0 1v1m0 2v2m0 8v1m0 3v3m0 1v1m0 11v2m0 2v1m0 29v1m0 180v1m0 4v1m0 9v2m0 1v2m0 6v3m0 1v1m0 3v2m0 3v1m0 1v1m0 5v1m0 8v1m1-336v1m0 9v1m0 1v1m0 2v1m0 2v1m0 1v1m0 1v1m0 7v1m0 5v1m0 3v1m0 3v1m0 15v2m0 15v1m0 181v1m0 19v1m0 1v1m0 6v2m0 16v1m0 3v1m0 1v1m0 2v1m0 3v1m0 14v1m0 1v1m1-326v2m0 3v1m0 2v1m0 1v1m0 1v1m0 1v1m0 1v1m0 1v1m0 4v2m0 3v1m0 1v1m0 1v1m0 4v1m0 1v1m0 9v1m0 1v4m0 2v1m0 1v1m0 4v2m0 10v1m0 150v1m0 23v1m0 1v1m0 3v2m0 2v1m0 1v3m0 2v1m0 1v1m0 4v1m0 1v2m0 4v2m0 1v2m0 1v1m0 1v1m0 1v1m0 2v1m0 1v1m0 3v2m0 20v1m1-331v1m0 5v1m0 1v1m0 6v1m0 1v1m0 16v1m0 1v1m0 9v1m0 1v1m0 1v1m0 3v1m0 1v2m0 1v1m0 4v1m0 1v1m0 1v1m0 1v1m0 1v2m0 157v1m0 8v1m0 1v1m0 2v1m0 12v2m0 7v1m0 4v1m0 1v3m0 1v1m0 1v1m0 1v1m0 1v2m0 1v1m0 2v1m0 7v1m1-300v1m0 1v1m0 5v1m0 8v1m0 18v1m0 11v1m0 1v1m0 1v6m0 1v1m0 2v1m0 1v1m0 1v2m0 1v1m0 2v1m0 1v1m0 12v1m0 11v2m0 143v2m0 3v2m0 1v1m0 4v2m0 1v1m0 6v2m0 4v1m0 2v1m0 1v1m0 5v1m0 7v1m0 39v1m1-332v1m0 22v1m0 26v2m0 5v1m0 2v1m0 1v1m0 1v1m0 2v1m0 7v1m0 3v1m0 5v2m0 7v6m0 120v2m0 13v2m0 1v1m0 2v5m0 1v1m0 10v1m0 1v2m0 9v1m0 2v1m0 1v1m0 9v1m0 2v2m0 4v1m0 3v1m0 21v1m0 8v1m0 1v1m1-328v1m0 16v1m0 1v1m0 15v1m0 4v1m0 6v3m0 1v1m0 4v1m0 6v1m0 3v1m0 2v1m0 3v1m0 1v1m0 15v1m0 136v1m0 6v2m0 6v1m0 1v1m0 2v1m0 1v1m0 1v3m0 11v2m0 11v1m0 1v1m0 1v1m0 6v1m0 1v1m0 1v1m0 19v1m0 1v1m0 8v1m1-328v1m0 1v2m0 15v1m0 15v1m0 1v1m0 2v1m0 1v1m0 3v1m0 16v1m0 5v1m0 2v1m0 1v1m0 3v1m0 4v1m0 2v1m0 4v1m0 4v1m0 11v1m0 4v1m0 1v1m0 73v1m0 9v1m0 9v1m0 9v1m0 2v1m0 3v1m0 2v1m0 8v1m0 7v1m0 4v3m0 4v1m0 1v1m0 10v1m0 3v1m0 6v1m0 1v1m0 1v1m0 2v1m0 5v1m0 10v1m0 10v1m1-317v2m0 1v1m0 31v1m0 4v1m0 3v1m0 1v1m0 18v1m0 14v1m0 1v1m0 7v1m0 2v1m0 5v1m0 2v1m0 6v1m0 4v1m0 20v1m0 9v1m0 42v1m0 18v1m0 1v1m0 8v2m0 1v1m0 3v1m0 1v1m0 1v2m0 1v2m0 6v1m0 9v1m0 3v1m0 2v2m0 10v1m0 1v1m0 1v1m0 1v1m0 7v1m0 1v1m0 3v1m0 14v1m0 1v1m1-305v1m0 42v1m0 18v1m0 16v1m0 6v2m0 4v1m0 1v1m0 1v1m0 2v1m0 4v1m0 1v1m0 3v2m0 2v2m0 1v1m0 1v1m0 3v5m0 3v2m0 7v1m0 3v1m0 1v2m0 2v1m0 2v1m0 2v1m0 2v1m0 4v1m0 1v1m0 1v3m0 4v1m0 1v1m0 1v3m0 3v1m0 3v2m0 2v1m0 8v1m0 5v3m0 2v1m0 1v1m0 2v1m0 3v1m0 3v1m0 2v1m0 2v1m0 1v1m0 1v2m0 11v1m0 1v1m0 2v1m0 13v1m0 3v1m0 9v1m0 20v1m25-313v1m0 4v1m0 2v1m0 11v2m0 1v2m0 2v1m0 4v1m0 5v1m0 1v1m0 13v1m0 3v1m0 189v1m0 3v1m0 4v5m0 9v1m0 1v1m0 2v1m0 5v1m0 20v1m0 4v1m1-310v1m0 1v1m0 2v1m0 1v2m0 245v1m0 2v1m0 5v1m0 7v1m0 3v2m0 1v1m0 3v1m0 1v1m0 18v1m0 1v1m0 2v1m0 1v1m1-310v1m0 4v1m0 2v1m0 11v2m0 1v2m0 2v1m0 4v1m0 5v1m0 1v1m0 13v1m0 3v1m0 189v1m0 3v1m0 4v5m0 9v1m0 1v1m0 2v1m0 5v1m0 20v1m0 4v1m2-281v1m0 7v1m0 4v1m0 11v1m0 13v2m0 2v1m0 4v1m0 3v3m0 2v1m0 9v1m0 1v3m0 4v2m0 1v1m0 1v4m0 1v1m0 1v2m0 3v1m0 1v1m0 4v1m0 41v1m0 13v1m0 5v1m0 1v1m0 6v1m0 3v1m0 3v1m0 4v1m0 4v3m0 2v1m0 4v1m0 3v2m0 3v1m0 1v1m0 5v1m0 13v1m0 1v1m0 8v1m0 3v1m0 6v1m0 3v1m0 33v2m0 7v1m0 4v1m1-323v1m0 16v1m0 1v1m0 2v1m0 2v1m0 1v1m0 4v1m0 1v1m0 2v1m0 1v2m0 1v1m0 11v1m0 1v1m0 5v1m0 4v1m0 1v1m0 8v1m0 4v1m0 9v1m0 149v1m0 7v1m0 1v1m0 8v1m0 1v4m0 1v1m0 1v1m0 1v1m0 1v1m0 11v1m0 6v2m0 11v1m0 2v1m0 5v1m0 1v1m0 2v1m0 1v1m1-329v1m0 1v1m0 1v1m0 1v1m0 5v1m0 10v2m0 3v1m0 1v1m0 9v1m0 5v2m0 2v2m0 3v1m0 2v1m0 1v2m0 11v2m0 165v1m0 4v1m0 7v1m0 7v1m0 4v4m0 4v1m0 4v1m0 10v2m0 9v1m0 10v1m0 9v1m0 4v1m1-329v1m0 3v1m0 1v1m0 5v1m0 1v1m0 9v1m0 7v2m0 4v1m0 6v3m0 1v3m0 8v1m0 1v2m0 29v1m0 149v1m0 3v1m0 3v1m0 3v1m0 10v2m0 3v2m0 4v1m0 11v2m0 7v1m0 2v1m0 12v1m0 6v1m1-325v1m0 3v1m0 1v1m0 9v1m0 11v1m0 1v1m0 6v2m0 11v1m0 1v1m0 4v1m0 3v1m0 1v1m0 2v2m0 165v2m0 14v1m0 4v1m0 3v1m0 3v6m0 1v2m0 6v3m0 11v1m0 1v2m0 1v2m0 4v1m0 2v1m0 6v1m0 10v1m0 1v1m1-327v1m0 1v1m0 26v1m0 11v2m0 1v1m0 1v1m0 5v1m0 2v1m0 6v2m0 3v1m0 1v2m0 15v1m0 1v1m0 161v1m0 5v1m0 1v1m0 10v2m0 3v1m0 2v1m0 14v1m0 1v1m0 4v1m0 1v1m0 5v1m0 4v1m0 1v1m0 10v1m1-307v1m0 8v1m0 1v1m0 9v1m0 1v2m0 1v1m0 1v1m0 6v1m0 1v1m0 5v1m0 1v1m0 3v2m0 1v1m0 7v1m0 8v1m0 160v1m0 1v1m0 2v2m0 5v1m0 1v1m0 3v1m0 3v2m0 3v1m0 23v1m0 3v1m0 6v1m0 1v1m1-314v1m0 1v1m0 17v4m0 4v1m0 1v1m0 2v1m0 1v1m0 1v1m0 4v2m0 1v2m0 2v2m0 1v1m0 1v1m0 4v1m0 5v1m0 198v2m0 10v2m0 1v1m0 5v2m0 1v1m0 3v1m0 10v1m0 2v2m0 2v1m0 1v1m0 13v1m1-310v1m0 2v1m0 8v1m0 2v1m0 5v3m0 5v1m0 1v1m0 18v1m0 190v2m0 23v1m0 11v1m0 4v3m0 8v1m0 2v1m0 5v3m0 1v2m0 1v1m1-330v1m0 1v1m0 1v1m0 12v1m0 2v1m0 2v2m0 2v1m0 7v1m0 1v1m0 1v2m0 1v2m0 7v1m0 201v1m0 35v1m0 7v1m0 2v1m0 10v1m0 3v1m0 5v1m0 5v2m0 6v1m1-337v1m0 1v1m0 1v1m0 1v1m0 10v1m0 1v2m0 2v1m0 1v1m0 1v1m0 7v3m0 2v1m0 2v1m0 13v1m0 9v1m0 3v4m0 16v1m0 185v1m0 7v1m0 11v1m0 2v1m0 8v1m0 4v1m0 2v1m0 3v1m0 5v1m0 5v1m0 3v1m1-337v1m0 3v1m0 1v1m0 10v2m0 1v2m0 3v1m0 3v1m0 3v1m0 3v2m0 4v2m0 2v1m0 3v1m0 7v2m0 8v2m0 1v2m0 211v1m0 11v1m0 2v3m0 11v1m0 2v1m0 2v1m0 10v1m1-327v1m0 3v1m0 4v1m0 4v1m0 1v1m0 3v1m0 2v1m0 1v2m0 6v1m0 1v1m0 3v1m0 5v1m0 7v1m0 1v1m0 7v1m0 3v1m0 1v1m0 210v1m0 28v1m0 3v2m0 8v1m0 1v2m0 4v1m1-329v1m0 1v1m0 1v2m0 1v1m0 10v1m0 2v2m0 1v2m0 3v1m0 5v1m0 1v1m0 1v2m0 8v1m0 6v1m0 8v1m0 235v1m0 1v3m0 12v2m0 1v1m0 4v2m1-331v1m0 3v1m0 1v1m0 1v2m0 10v1m0 4v1m0 1v1m0 1v2m0 5v2m0 2v1m0 9v3m0 1v1m0 9v1m0 10v2m0 5v1m0 152v1m0 15v2m0 15v1m0 8v6m0 5v1m0 4v1m0 2v2m0 5v1m0 4v1m0 6v3m0 1v3m0 1v1m0 4v1m1-330v1m0 1v1m0 5v2m0 14v1m0 2v1m0 3v1m0 5v1m0 6v1m0 4v1m0 1v2m0 1v1m0 1v1m0 2v1m0 1v1m0 4v1m0 2v1m0 7v1m0 169v1m0 3v3m0 3v1m0 1v2m0 3v1m0 4v2m0 1v1m0 8v1m0 1v1m0 2v1m0 2v1m0 1v1m0 4v1m0 2v2m0 1v1m0 5v1m0 1v1m0 4v1m0 1v1m0 2v1m0 2v1m0 6v1m1-330v1m0 6v1m0 1v1m0 4v1m0 3v1m0 3v1m0 1v1m0 5v1m0 4v1m0 1v1m0 2v1m0 5v1m0 3v2m0 1v1m0 3v3m0 3v1m0 1v3m0 7v1m0 3v1m0 166v1m0 2v1m0 2v2m0 2v1m0 3v1m0 2v1m0 1v1m0 2v2m0 1v1m0 6v1m0 1v2m0 1v2m0 2v1m0 1v1m0 4v2m0 2v1m0 1v1m0 7v1m0 6v1m0 2v1m0 1v1m0 7v1m0 1v1m1-328v1m0 4v1m0 4v1m0 1v1m0 1v1m0 5v1m0 9v3m0 1v2m0 2v2m0 1v2m0 10v1m0 3v1m0 1v1m0 8v1m0 1v1m0 3v1m0 170v1m0 3v1m0 1v1m0 1v1m0 7v5m0 3v1m0 8v2m0 1v1m0 2v2m0 4v1m0 2v1m0 2v2m0 12v1m0 5v1m0 9v2m1-335v1m0 5v1m0 1v1m0 9v1m0 5v1m0 7v1m0 10v1m0 1v1m0 6v2m0 1v1m0 1v4m0 12v1m0 1v1m0 3v1m0 177v1m0 1v4m0 9v2m0 1v1m0 2v1m0 3v1m0 2v1m0 4v1m0 4v3m0 5v1m0 1v1m0 1v1m0 8v1m0 1v1m0 14v1m0 1v1m1-337v1m0 1v1m0 5v1m0 15v1m0 7v1m0 5v3m0 9v1m0 5v1m0 4v3m0 2v1m0 4v1m0 4v1m0 11v1m0 171v1m0 3v1m0 2v1m0 14v1m0 6v1m0 5v1m0 2v2m0 4v1m0 1v2m0 1v1m0 8v1m0 16v1m1-335v1m0 9v1m0 21v1m0 1v1m0 2v1m0 1v1m0 4v2m0 6v1m0 2v2m0 1v1m0 9v3m0 1v1m0 187v1m0 10v2m0 6v1m0 2v1m0 2v1m0 1v1m0 7v2m0 6v1m0 1v1m0 1v1m0 1v1m0 10v1m0 4v1m1-321v1m0 3v1m0 13v1m0 12v1m0 1v1m0 1v1m0 2v1m0 4v4m0 8v1m0 1v2m0 5v3m0 8v1m0 183v1m0 5v1m0 18v1m0 12v1m0 4v2m0 1v1m0 7v2m0 1v2m0 1v1m0 1v1m0 6v1m1-330v1m0 1v1m0 5v1m0 6v1m0 4v1m0 8v2m0 2v3m0 4v1m0 4v1m0 3v1m0 1v1m0 1v1m0 5v1m0 3v1m0 4v1m0 7v1m0 168v1m0 6v1m0 13v1m0 3v2m0 4v1m0 3v1m0 2v2m0 1v1m0 7v1m0 4v2m0 3v2m0 7v1m0 1v3m0 1v1m0 1v1m0 1v1m0 6v1m1-330v1m0 5v1m0 6v1m0 1v2m0 10v1m0 2v1m0 1v1m0 7v1m0 4v1m0 3v2m0 2v1m0 1v1m0 12v1m0 6v1m0 169v1m0 5v1m0 5v1m0 4v1m0 18v1m0 1v3m0 1v1m0 4v1m0 1v1m0 2v1m0 2v1m0 12v1m0 3v1m0 3v1m0 4v1m1-313v1m0 2v1m0 10v2m0 3v2m0 6v1m0 2v1m0 4v1m0 1v1m0 4v1m0 4v2m0 3v2m0 6v1m0 6v1m0 3v1m0 1v3m0 5v1m0 2v1m0 19v2m0 36v1m0 24v1m0 21v1m0 4v1m0 7v1m0 8v2m0 1v1m0 1v1m0 13v1m0 5v1m0 8v1m0 3v1m0 4v3m0 1v1m0 1v1m0 1v2m0 4v1m0 3v1m0 6v1m0 2v1m0 1v1m0 2v1m0 20v1m0 3v1m0 1v1m1-279v1m0 22v1m0 3v1m0 21v1m0 3v1m0 4v1m0 5v2m0 12v3m0 2v2m0 8v1m0 13v1m0 2v1m0 4v1m0 1v1m0 1v2m0 2v1m0 4v1m0 9v1m0 4v1m0 24v1m0 15v1m0 2v1m0 59v1m0 29v1"/>
<path stroke="#e2edf5" d="M102 240v1m1-16v1m0 34v2m0 8v1m1-45v1m0 38v1m0 14v1m1-126v1m0 36v2m0 27v1m0 48v1m0 4v1m1-127v1m0 4v1m0 1v1m0 14v1m0 17v1m0 4v1m0 22v1m0 51v1m0 2v1m0 3v1m1-122v1m0 16v1m0 19v2m0 16v1m0 3v1m0 45v1m0 1v1m0 5v2m0 3v1m0 1v1m0 2v1m0 1v1m0 6v1m0 14v1m1-104v1m0 8v1m0 7v1m0 1v1m0 1v1m0 1v1m0 47v2m0 7v1m0 21v1m0 2v1m1-110v1m0 1v2m0 25v1m0 35v1m0 1v1m0 2v1m0 3v1m1-76v1m0 73v1m0 10v2m0 9v1m0 13v1m1-110v1m0 10v1m0 16v1m0 40v2m0 3v1m0 2v1m0 5v1m0 2v1m0 21v1m0 1v1m0 29v1m0 39v1m1-277v1m0 100v1m0 6v1m0 3v1m0 6v1m0 47v1m0 12v1m0 9v1m0 16v1m0 10v1m0 18v1m0 37v1m0 1v1m1-279v1m0 1v1m0 54v1m0 45v1m0 11v1m0 53v1m0 4v1m0 1v1m0 8v1m0 6v1m0 14v1m0 1v1m0 10v1m0 56v1m1-172v1m0 2v1m0 1v1m0 1v2m0 1v1m0 51v1m0 2v1m0 7v1m0 7v1m0 3v1m1-81v1m0 9v1m0 48v1m0 23v1m1-85v1m0 60v1m0 21v1m0 1v1m1-38v1m0 4v1m0 30v1m1-75v1m0 39v1m0 16v1m0 2v1m1-134v1m0 33v1m0 26v1m0 6v1m0 2v2m0 3v1m0 1v1m0 42v2m0 5v1m0 3v1m0 33v1m1-166v1m0 26v1m0 8v1m0 1v1m0 9v1m0 5v1m0 1v3m0 5v1m0 9v1m0 1v2m0 48v1m0 1v1m0 3v1m0 3v1m0 1v1m0 14v1m0 21v1m0 9v1m1-161v1m0 2v2m0 1v1m0 1v1m0 5v1m0 5v1m0 1v1m0 1v1m0 1v1m0 12v1m0 8v1m0 1v2m0 47v1m0 9v2m0 16v1m0 1v1m0 2v1m0 25v2m0 1v1m0 5v1m0 1v1m0 38v1m1-296v1m0 87v1m0 19v1m0 1v1m0 9v2m0 4v1m0 75v1m0 1v1m0 10v1m0 4v1m0 25v2m0 7v1m0 38v1m1-294v1m0 59v1m0 1v1m0 35v1m0 4v1m0 2v1m0 1v1m0 9v1m0 2v1m0 66v1m0 12v1m0 13v1m0 26v1m0 1v1m1-220v1m0 35v1m0 40v1m0 1v1m0 4v1m0 6v1m0 2v1m0 2v1m0 15v2m0 46v2m0 5v1m0 6v1m0 1v1m0 58v1m0 6v1m0 48v1m1-252v1m0 28v1m0 7v1m0 4v1m0 16v1m0 6v1m0 52v1m0 1v1m0 3v1m0 9v2m0 5v1m0 24v1m0 7v1m0 25v1m0 10v1m1-206v1m0 9v1m0 5v1m0 4v1m0 1v1m0 9v1m0 2v1m0 2v1m0 8v1m0 1v2m0 1v1m0 74v1m0 5v1m0 3v1m0 9v1m0 6v1m0 11v1m0 2v1m0 33v1m1-212v1m0 5v1m0 2v1m0 12v1m0 3v2m0 14v1m0 10v1m0 12v1m0 65v1m0 1v2m0 3v1m0 2v1m0 3v1m0 2v1m0 4v1m0 6v1m0 16v1m0 14v1m1-195v1m0 1v1m0 3v1m0 16v2m0 12v1m0 2v1m0 1v1m0 4v1m0 1v1m0 5v2m0 15v1m0 44v1m0 5v1m0 13v1m0 2v1m0 5v1m0 2v1m0 43v1m1-193v1m0 3v1m0 16v1m0 15v1m0 21v1m0 2v2m0 1v1m0 10v1m0 32v1m0 4v1m0 2v1m0 3v1m0 8v1m0 2v1m0 1v1m1-110v1m0 31v1m0 10v1m0 11v1m0 23v1m0 1v1m0 2v1m0 23v1m1-51v1m0 1v1m0 6v1m0 2v1m28-16v1m0 13v1m0 7v1m0 4v1m0 8v1m1-48v1m0 1v1m0 1v1m0 35v1m0 7v1m1-57v1m0 4v1m0 49v2m0 3v1m0 9v1m0 9v1m0 7v1m0 6v1m0 8v1m1-115v1m0 8v1m0 9v1m0 52v1m0 2v1m0 3v1m0 11v1m0 2v1m0 4v1m0 4v1m0 1v1m0 8v1m0 1v1m0 56v1m0 1v1m1-178v1m0 1v1m0 5v1m0 3v1m0 1v1m0 7v1m0 66v1m0 8v1m0 18v1m0 1v1m0 7v1m0 9v1m1-162v1m0 20v1m0 3v1m0 2v1m0 4v1m0 3v1m0 51v1m0 14v1m0 4v1m0 4v1m0 1v1m0 1v2m0 1v1m0 1v1m0 2v1m0 1v1m0 1v1m0 11v1m0 5v1m0 1v1m0 1v1m0 9v1m1-162v1m0 17v1m0 4v1m0 65v1m0 10v1m0 2v1m0 12v1m0 1v1m0 1v1m0 5v1m0 1v1m0 19v1m1-140v1m0 9v1m0 6v2m0 2v2m0 12v1m0 35v1m0 1v2m0 10v1m0 7v1m0 4v1m1-75v1m0 11v2m0 24v1m0 4v1m0 5v1m0 14v1m1-54v1m0 7v1m0 6v1m0 5v1m0 2v1m0 1v1m0 10v1m0 16v1m0 8v1m1-71v1m0 39v2m0 7v1m0 1v1m0 22v1m1-89v1m0 8v1m0 1v1m0 3v1m0 2v1m0 3v1m0 35v1m0 15v2m0 3v1m0 7v1m0 1v1m1-92v1m0 2v1m0 8v1m0 11v1m0 1v1m0 1v1m0 37v1m0 8v1m0 2v1m0 1v1m0 1v1m0 4v1m0 2v1m1-90v2m0 64v1m0 13v1m0 6v1m1-146v1m0 49v1m0 2v1m0 1v1m0 1v1m0 1v1m0 1v1m0 8v1m0 1v3m0 5v1m0 40v1m0 1v1m0 12v1m0 3v1m1-140v1m0 24v1m0 20v1m0 10v1m0 3v1m0 72v1m0 5v1m0 29v1m0 4v1m1-177v1m0 40v1m0 6v1m0 5v1m0 1v1m0 10v1m0 2v1m0 1v1m0 1v1m0 3v2m0 37v1m0 1v1m0 1v1m0 2v1m0 12v1m0 2v1m1-113v1m0 26v2m0 11v2m0 50v1m0 13v1m0 25v1m1-132v1m0 7v1m0 4v1m0 1v1m0 7v1m0 10v1m0 8v1m0 3v1m0 1v1m0 42v1m0 1v1m0 9v1m0 1v1m0 23v1m0 1v1m0 31v1m1-143v1m0 2v1m0 13v1m0 4v1m0 3v1m0 40v3m0 1v1m0 1v1m0 35v1m0 46v1m1-146v1m0 1v1m0 13v3m0 33v1m0 2v2m0 1v1m0 79v1m1-187v1m0 26v1m0 5v1m0 13v1m0 1v1m0 7v1m0 7v1m0 48v2m0 4v1m0 3v1m0 1v1m0 8v1m0 2v1m0 23v1m0 3v1m1-174v1m0 5v1m0 23v1m0 2v1m0 1v1m0 2v2m0 2v1m0 3v1m0 3v1m0 5v1m0 4v1m0 76v1m0 7v1m0 7v1m0 1v1m0 11v1m0 1v1m0 3v1m0 75v1m1-283v1m0 38v1m0 7v1m0 15v1m0 1v2m0 2v1m0 1v1m0 17v1m0 1v1m0 59v1m0 1v1m0 18v1m0 14v1m0 4v1m0 8v1m0 3v1m0 49v1m1-257v1m0 64v1m0 1v1m0 12v1m0 6v1m0 10v1m0 5v1m0 49v1m0 1v1m0 6v1m0 3v1m0 19v1m0 4v1m0 1v1m1-129v1m0 21v2m0 4v1m0 1v2m0 7v1m0 45v1m0 4v1m0 2v1m0 33v1m1-121v1m0 21v1m0 12v1m0 29v1m0 4v1m0 11v1m1-46v1m0 5v1m0 4v3m0 5v1m0 3v1m0 1v1m47-102v1m0 24v1m1-27v1m0 1v1m0 22v1m0 1v1m0 68v1m0 5v1m1-102v1m0 24v1m3-10v1m0 71v1m0 8v1m35 14v1m11-10v1m1-75v1m0 1v1m0 1v1m0 3v1m0 15v1m0 32v1m0 9v1m0 7v1m1-2v1m84-25v2m0 1v2m0 13v1m1-31v1m1-2v1m0 6v1m0 32v1m1-51v1m0 15v1m1-16v1m1 7v1m0 40v1m0 2v1m1-59v1m0 12v1m0 2v2m0 3v2m0 1v2m0 32v1m0 36v1m1-92v1m0 1v1m0 2v1m0 4v1m0 8v1m0 70v1m1-78v1m0 77v1m1-79v1m1-29v1m0 7v1m0 7v1m0 1v1m0 2v1m0 5v1m0 5v1m0 38v1m0 4v1m0 3v1m0 4v1m0 34v1m1-171v1m0 53v1m0 9v1m0 3v1m0 2v2m0 45v1m0 3v1m0 4v2m0 5v1m0 1v1m0 34v1m1-171v1m0 53v2m0 1v1m0 12v1m0 4v1m0 1v1m0 5v1m0 32v2m0 4v1m0 2v1m0 8v1m1-77v1m0 5v1m0 2v1m0 13v1m0 33v1m0 2v1m1-53v1m0 2v1m0 1v1m0 4v1m0 2v1m0 6v1m0 50v1m1-93v1m0 22v1m0 1v1m0 3v1m0 1v1m0 2v1m0 5v1m0 29v1m1-72v1m0 30v1m0 51v1m1-60v1m0 1v1m0 10v1m0 2v1m0 30v1m0 5v1m0 1v1m1-57v1m0 3v1m0 7v1m0 2v1m0 34v1m0 4v1m1-55v1m0 1v1m0 7v2m1 0v1m0 2v1m1 30v1m0 3v1m0 6v1m1-12v1m0 11v1m1-44v1m1-2v1m0 4v1m0 26v2m1-23v1m0 4v1m0 3v1m0 4v2m28 38v1m0 6v2m0 1v1m1-171v1m0 3v1m0 17v1m0 2v1m0 1v1m0 6v1m0 4v2m0 2v1m0 6v1m0 2v1m0 7v1m0 112v1m0 4v1m0 7v1m0 1v1m0 10v1m0 33v1m1-289v1m0 12v1m0 9v1m0 6v1m0 1v1m0 5v1m0 10v1m0 6v1m0 6v1m0 5v1m0 14v1m0 1v1m0 141v1m0 27v1m0 4v2m0 11v1m0 2v1m0 9v1m0 2v1m0 3v1m0 14v1m0 4v1m0 9v1m0 5v1m0 2v1m1-337v1m0 14v1m0 6v1m0 17v1m0 28v1m0 205v1m0 11v1m0 25v1m0 2v1m0 3v1m0 7v1m0 3v1m0 4v1m1-336v1m0 1v1m0 8v1m0 9v1m0 1v2m0 6v1m0 2v1m0 1v2m0 2v1m0 5v1m0 1v1m0 3v1m0 4v3m0 7v1m0 19v1m0 155v1m0 11v1m0 13v1m0 7v1m0 3v1m0 2v1m0 5v1m0 3v1m0 20v1m0 14v2m0 2v1m1-337v1m0 18v1m0 9v1m0 2v1m0 16v1m0 3v1m0 1v1m0 5v1m0 1v1m0 1v1m0 184v1m0 6v1m0 1v2m0 1v1m0 9v1m0 1v1m0 9v1m0 1v1m0 4v2m0 5v1m0 6v1m0 18v1m0 6v1m0 1v1m1-333v1m0 12v1m0 6v1m0 6v1m0 2v1m0 2v1m0 2v1m0 2v1m0 4v1m0 5v1m0 7v1m0 1v1m0 1v1m0 18v1m0 174v1m0 2v1m0 11v1m0 4v1m0 6v2m0 1v1m0 6v1m0 7v1m0 1v1m0 1v1m0 1v2m0 1v1m0 20v1m1-323v1m0 9v1m0 1v1m0 9v2m0 2v1m0 13v1m0 1v1m0 4v1m0 4v1m0 8v1m0 27v1m0 172v1m0 1v1m0 4v1m0 2v1m0 2v1m0 2v2m0 15v1m0 7v1m0 12v1m0 1v1m0 5v1m1-326v1m0 13v1m0 2v1m0 11v1m0 1v1m0 3v1m0 12v1m0 1v1m0 5v1m0 19v1m0 174v2m0 2v1m0 8v1m0 9v1m0 8v1m0 5v1m0 7v1m0 1v2m0 23v1m0 1v1m1-314v1m0 7v1m0 10v1m0 1v1m0 2v1m0 1v1m0 16v1m0 7v1m0 11v1m0 184v1m0 9v1m0 3v1m0 10v1m0 1v1m0 12v1m0 25v1m1-314v1m0 2v1m0 2v1m0 30v1m0 5v2m0 15v2m0 160v1m0 4v1m0 2v1m0 5v1m0 4v1m0 2v1m0 13v1m0 1v1m0 1v2m0 1v1m0 1v1m0 44v1m1-306v1m0 18v1m0 5v1m0 15v1m0 8v1m0 7v1m0 171v1m0 1v1m0 4v1m0 2v1m0 3v1m0 4v1m0 4v1m0 4v1m1-270v1m0 31v1m0 14v1m0 16v1m0 1v1m0 149v1m0 24v1m0 16v1m0 10v1m0 24v1m1-264v1m0 5v1m0 4v1m0 1v1m0 1v1m0 5v1m0 6v1m0 171v1m0 7v1m0 7v1m0 1v1m0 7v1m0 3v1m0 13v1m0 17v1m1-299v1m0 16v1m0 4v1m0 24v1m0 1v1m0 7v1m0 2v1m0 3v1m0 2v2m0 3v2m0 18v1m0 134v3m0 14v1m0 18v1m0 9v1m0 3v1m0 3v1m1-283v1m0 21v1m0 1v1m0 11v1m0 4v1m0 8v1m0 5v1m0 22v2m0 1v1m0 2v1m0 141v1m0 2v2m0 6v1m0 5v1m0 13v1m0 6v1m0 8v1m0 1v1m0 2v1m0 1v1m1-271v1m0 4v1m0 3v1m0 2v1m0 11v1m0 1v2m0 3v1m0 3v3m0 6v1m0 9v2m0 160v2m0 6v2m0 24v1m0 3v1m0 9v1m1-271v1m0 11v1m0 13v1m0 2v1m0 1v1m0 4v1m0 1v1m0 6v1m0 2v1m0 2v1m0 176v1m0 17v1m0 7v1m0 8v1m1-270v1m0 4v1m0 6v1m0 13v1m0 2v1m0 1v1m0 1v1m0 2v1m0 3v1m0 4v1m0 2v1m0 5v1m0 28v1m0 135v1m0 1v1m0 4v1m0 2v1m0 7v1m0 8v1m0 3v1m0 8v1m0 8v2m1-273v1m0 1v1m0 1v1m0 8v1m0 9v1m0 20v1m0 7v1m0 2v2m0 166v1m0 11v1m0 2v1m0 3v1m0 7v2m0 4v1m0 6v1m0 9v1m0 23v1m0 1v1m1-306v1m0 16v1m0 17v2m0 3v1m0 5v2m0 5v1m0 5v1m0 183v1m0 23v1m0 2v1m0 2v1m0 2v1m0 29v1m0 4v1m0 1v1m1-297v1m0 5v1m0 14v1m0 8v1m0 5v1m0 208v1m0 11v1m0 2v1m0 38v1m0 11v1m1-309v1m0 1v1m0 15v1m0 19v1m0 22v1m0 177v2m0 2v1m0 1v1m0 24v1m0 24v1m0 1v1m1-301v2m0 5v1m0 4v1m0 3v1m0 1v2m0 3v1m0 1v1m0 15v1m0 4v1m0 186v1m0 15v1m0 6v1m0 26v1m0 3v1m0 11v1m1-298v2m0 4v1m0 4v1m0 13v1m0 1v1m0 17v1m0 2v1m0 161v1m0 13v1m0 10v2m0 4v1m0 6v2m0 2v1m0 31v1m0 1v1m1-256v1m0 10v1m0 13v1m0 7v3m0 5v1m0 2v3m0 2v1m0 2v2m0 5v2m0 1v1m0 4v1m0 5v2m0 75v1m0 1v1m0 10v2m0 12v1m0 3v1m0 1v1m0 2v1m0 2v1m0 8v1m0 13v1m0 41v1m25-237v1m0 6v1m0 38v1m0 8v1m0 4v1m0 1v1m0 3v1m0 1v1m0 1v1m0 1v1m0 1v1m0 2v1m0 7v1m0 3v1m0 9v1m0 1v1m0 1v1m0 6v1m0 2v1m0 8v1m0 11v1m0 2v1m0 5v1m0 3v1m0 2v1m0 25v1m0 13v1m0 5v1m1-201v1m0 7v1m0 1v1m0 5v1m0 8v1m0 7v1m0 9v1m0 2v1m0 4v1m0 3v1m0 4v1m0 1v1m0 61v1m0 8v2m0 20v1m0 7v1m0 3v1m0 1v1m0 4v1m0 1v1m0 5v1m0 16v1m1-205v1m0 6v1m0 6v2m0 7v1m0 3v1m0 4v1m0 6v1m0 2v1m0 14v1m0 106v1m0 1v1m0 11v1m0 3v2m0 13v1m0 7v1m0 5v1m0 2v1m1-214v1m0 6v1m0 9v1m0 1v2m0 3v1m0 2v1m0 8v1m0 2v1m0 5v1m0 6v1m0 110v1m0 14v1m0 9v1m0 11v1m0 13v1m0 18v1m1-254v1m0 25v1m0 7v1m0 5v2m0 22v1m0 7v1m0 126v1m0 7v1m0 22v1m0 21v1m1-226v1m0 7v1m0 3v1m0 3v1m0 5v1m0 1v1m0 6v2m0 115v1m0 14v1m0 10v1m0 3v1m0 12v1m0 8v1m0 13v1m0 11v1m1-264v1m0 21v1m0 7v1m0 7v1m0 17v2m0 1v1m0 3v1m0 149v2m0 7v1m0 7v1m0 9v1m0 9v1m1-261v1m0 11v1m0 8v1m0 3v1m0 10v1m0 5v1m0 4v1m0 3v1m0 1v1m0 2v1m0 5v1m0 11v1m0 141v1m0 7v3m0 3v1m0 8v1m0 18v1m0 12v1m1-273v1m0 11v1m0 11v2m0 2v1m0 14v1m0 7v1m0 6v2m0 175v1m0 5v2m0 20v1m0 3v1m0 3v1m0 1v1m0 17v1m1-291v1m0 15v1m0 4v2m0 3v1m0 6v1m0 3v1m0 11v1m0 4v1m0 180v1m0 3v1m0 6v1m0 2v1m0 11v1m0 3v1m0 1v1m0 23v1m1-277v1m0 1v1m0 4v1m0 10v1m0 22v1m0 3v1m0 168v1m0 31v1m0 12v1m0 12v1m0 4v1m0 1v1m0 4v1m1-304v1m0 14v1m0 3v1m0 8v2m0 5v1m0 1v1m0 2v1m0 2v1m0 8v1m0 204v1m0 8v1m0 16v1m0 6v1m0 1v2m0 5v1m0 2v1m0 1v1m1-322v1m0 1v1m0 12v1m0 7v1m0 9v1m0 1v1m0 7v1m0 17v1m0 198v1m0 2v1m0 3v1m0 12v1m0 1v1m0 18v2m0 1v1m0 3v1m0 2v1m0 8v1m1-322v1m0 16v1m0 7v1m0 4v1m0 1v2m0 3v1m0 7v1m0 1v1m0 12v1m0 18v1m0 168v1m0 7v1m0 7v1m0 2v1m0 5v1m0 4v1m0 2v1m0 6v1m0 1v1m0 2v1m1-287v1m0 41v1m0 4v1m0 3v1m0 3v1m0 1v1m0 5v1m0 4v1m0 2v1m0 4v1m0 163v2m0 9v1m0 13v1m0 6v2m0 22v1m1-301v1m0 2v1m0 1v1m0 6v1m0 14v1m0 5v1m0 1v1m0 4v1m0 3v1m0 2v1m0 1v1m0 2v1m0 4v1m0 4v2m0 4v2m0 14v1m0 154v1m0 1v1m0 25v1m0 2v1m0 25v1m0 4v1m0 14v1m1-318v1m0 6v1m0 1v1m0 2v1m0 14v1m0 9v1m0 201v1m0 8v1m0 11v1m0 6v2m0 1v1m0 1v1m0 25v1m0 17v1m0 3v1m0 3v1m1-317v1m0 4v2m0 1v1m0 13v1m0 2v2m0 1v1m0 12v2m0 1v1m0 3v2m0 10v1m0 3v1m0 1v2m0 173v1m0 3v2m0 14v1m0 1v1m0 2v1m0 4v1m0 9v1m0 27v1m0 1v1m0 3v1m1-269v1m0 1v1m0 6v1m0 1v1m0 5v1m0 10v1m0 10v1m0 166v1m0 1v1m0 1v1m0 4v1m0 4v1m0 2v1m0 9v1m0 14v1m1-247v1m0 3v1m0 9v1m0 190v1m0 9v1m0 7v1m0 2v1m0 1v1m0 3v1m0 8v1m0 1v1m1-296v1m0 7v1m0 30v1m0 6v1m0 11v2m0 1v2m0 12v2m0 2v1m0 186v1m0 3v1m0 2v1m0 5v1m0 2v1m0 2v1m0 5v1m0 2v1m0 1v1m1-298v1m0 1v1m0 7v1m0 6v1m0 1v1m0 1v1m0 12v1m0 4v1m0 2v1m0 1v1m0 3v1m0 7v1m0 7v1m0 197v1m0 2v1m0 1v1m0 5v1m0 5v1m0 3v1m0 5v1m0 4v1m0 1v1m0 4v1m1-301v1m0 24v1m0 8v1m0 4v1m0 4v1m0 1v1m0 11v2m0 1v1m0 2v1m0 5v1m0 5v1m0 1v1m0 10v1m0 139v1m0 10v1m0 1v1m0 2v1m0 2v1m0 2v1m0 3v1m0 7v1m0 6v1m0 3v1m0 1v1m0 6v3m0 5v1m1-210v1m0 3v1m0 13v1m0 1v1m0 126v1m0 1v1m0 13v1m0 1v1m0 12v2m0 3v2m0 19v1m1-213v2m0 1v2m0 1v2m0 4v1m0 145v1m0 4v1m0 9v1m0 9v1m0 3v2m0 4v1m0 2v1m0 14v1m1-234v1m0 17v1m0 4v1m0 3v1m0 1v1m0 2v1m0 2v1m0 1v1m0 12v1m0 17v1m0 98v1m0 8v1m0 17v1m0 1v1m0 2v2m0 13v1m1-196v1m0 36v1m0 7v1m0 100v1m0 12v1m0 13v1m0 5v1m0 8v1m0 1v1m0 2v1m0 1v1m0 24v1m1-226v1m0 14v1m0 1v1m0 2v1m0 1v1m0 6v1m0 8v1m0 5v2m0 3v1m0 4v1m0 78v1m0 5v1m0 11v1m0 3v1m0 2v3m0 2v1m0 5v1m0 1v1m0 2v2m0 1v1m0 5v1m0 1v1m0 4v1m0 1v1m0 6v1m0 26v1m1-228v1m0 23v1m0 7v1m0 4v1m0 2v1m0 3v1m0 2v1m0 4v1m0 2v1m0 11v1m0 1v1m0 11v1m0 51v1m0 1v1m0 6v1m0 16v1m0 12v1m0 1v1m0 10v1m0 3v1m0 2v1m1-159v1m0 6v1m0 6v1m0 8v1m0 1v2m0 13v1m0 3v1m0 1v1m0 7v1m0 1v1m0 2v1m0 8v1m0 12v1m0 1v1m0 4v1m0 4v1m0 2v1m0 5v2m0 1v1m0 20v1m25-222v1m0 3v1m0 3v2m0 6v1m0 4v1m0 3v2m0 1v1m0 5v1m0 12v2m0 188v1m0 2v1m0 16v1m1-257v1m0 1v1m0 1v1m0 1v1m0 5v1m0 242v1m0 1v1m1-259v1m0 3v1m0 3v2m0 6v1m0 4v1m0 3v2m0 1v1m0 5v1m0 12v2m0 188v1m0 2v1m0 16v1m2-183v1m0 1v1m0 28v1m0 4v1m0 8v1m0 2v1m0 2v1m0 2v1m0 7v1m0 8v1m0 1v3m0 4v1m0 1v1m0 1v1m0 11v1m0 1v1m0 6v1m0 4v1m0 5v1m0 7v1m0 4v1m0 6v1m0 3v2m0 2v1m0 1v1m0 4v1m0 10v1m0 2v1m0 7v1m0 31v1m1-252v1m0 1v1m0 7v1m0 5v1m0 3v1m0 10v1m0 5v1m0 11v1m0 1v2m0 1v1m0 1v1m0 1v1m0 25v1m0 124v2m0 1v1m0 1v1m0 3v1m0 2v1m0 8v1m0 1v1m0 17v1m0 1v1m1-260v1m0 9v1m0 1v1m0 9v1m0 5v1m0 12v1m0 4v1m0 19v1m0 148v1m0 4v1m0 2v1m0 2v1m0 2v1m0 1v1m0 1v1m0 2v1m0 10v1m0 1v1m0 8v1m0 8v1m0 1v1m0 2v1m0 15v1m1-314v1m0 23v1m0 1v1m0 7v1m0 3v2m0 2v1m0 10v1m0 1v1m0 10v2m0 24v1m0 125v1m0 10v1m0 3v2m0 4v1m0 2v1m0 3v2m0 7v1m0 3v1m0 2v2m0 7v1m0 18v1m0 4v1m0 2v1m1-262v1m0 2v1m0 8v1m0 17v1m0 13v2m0 149v1m0 7v1m0 6v2m0 5v1m0 20v1m1-226v1m0 14v1m0 7v1m0 9v1m0 156v1m0 5v1m0 11v1m0 1v1m0 11v1m0 1v1m0 1v1m0 22v1m1-305v1m0 55v1m0 5v1m0 1v2m0 13v2m0 171v1m0 4v1m0 3v1m0 2v1m0 13v1m0 13v1m0 12v1m1-289v1m0 22v1m0 22v1m0 2v2m0 1v2m0 33v1m0 137v1m0 5v2m0 5v1m0 2v2m0 1v1m0 3v1m0 3v1m0 1v1m0 1v1m0 3v1m0 1v1m0 1v1m0 11v1m0 10v1m1-305v1m0 17v1m0 4v1m0 9v1m0 1v1m0 20v1m0 4v1m0 190v1m0 13v1m0 6v1m0 3v1m0 5v1m0 2v1m0 4v1m0 15v1m0 7v1m0 6v1m1-301v1m0 21v1m0 18v2m0 3v1m0 4v1m0 193v1m0 10v1m0 3v1m0 2v1m0 4v1m0 7v1m0 2v1m0 24v1m1-289v1m0 5v1m0 1v1m0 4v2m0 3v1m0 2v1m0 1v1m0 210v1m0 2v1m0 10v1m0 5v1m0 7v3m0 5v1m0 16v1m0 1v1m1-291v1m0 9v1m0 4v1m0 11v1m0 207v1m0 10v1m0 20v2m0 7v1m0 2v1m0 4v1m1-301v1m0 18v1m0 19v1m0 1v1m0 15v1m0 1v1m0 200v1m0 13v2m0 2v1m0 2v2m0 8v1m0 1v1m0 7v1m1-288v1m0 1v1m0 5v1m0 13v1m0 2v1m0 10v1m0 211v1m0 23v1m0 4v1m0 1v1m0 2v1m0 11v1m1-310v1m0 15v1m0 7v1m0 2v1m0 1v2m0 7v2m0 1v1m0 8v1m0 11v1m0 157v1m0 7v2m0 2v1m0 9v1m0 3v1m0 9v1m0 1v1m0 12v1m0 1v1m0 19v1m1-279v1m0 10v1m0 1v1m0 19v1m0 11v1m0 3v2m0 147v1m0 8v2m0 5v1m0 36v1m0 15v1m1-269v1m0 9v1m0 2v1m0 2v1m0 19v1m0 2v1m0 1v1m0 3v1m0 2v1m0 154v1m0 12v1m0 5v1m0 17v1m0 3v1m0 9v1m1-268v1m0 11v1m0 4v1m0 10v1m0 1v1m0 2v1m0 23v1m0 6v1m0 2v1m0 2v2m0 144v1m0 10v2m0 2v2m0 18v1m0 2v1m0 3v1m0 1v1m0 5v1m1-268v1m0 11v1m0 1v1m0 12v1m0 1v1m0 11v1m0 2v1m0 3v1m0 1v1m0 3v1m0 1v1m0 133v1m0 40v1m0 12v3m0 1v1m0 3v1m0 9v1m0 2v1m0 11v1m1-279v1m0 11v1m0 1v1m0 6v1m0 3v1m0 5v1m0 1v1m0 2v1m0 8v1m0 4v1m0 149v1m0 9v1m0 9v1m0 6v1m0 1v1m0 1v1m0 1v1m0 2v1m0 13v1m0 3v1m0 1v1m0 1v1m0 3v1m0 2v1m1-267v1m0 1v1m0 18v1m0 11v1m0 5v1m0 4v1m0 8v1m0 2v1m0 3v1m0 6v1m0 156v2m0 4v1m0 2v1m0 4v1m0 2v1m0 1v1m0 6v1m0 3v1m0 1v1m0 1v1m0 1v2m0 2v1m0 6v1m0 12v1m1-294v1m0 9v1m0 32v1m0 3v1m0 8v1m0 9v1m0 14v1m0 10v1m0 140v1m0 4v1m0 18v2m0 2v1m0 3v1m0 7v1m0 5v1m0 1v1m0 13v1m1-297v1m0 11v1m0 18v1m0 3v1m0 13v1m0 1v1m0 2v1m0 6v1m0 1v1m0 7v1m0 2v1m0 159v1m0 12v1m0 9v2m0 2v1m0 1v1m0 8v1m0 22v1m0 22v1m0 3v1m1-310v1m0 18v1m0 19v1m0 1v1m0 5v1m0 3v1m0 4v1m0 5v1m0 177v1m0 1v1m0 3v1m0 2v1m0 3v1m0 3v1m0 2v1m0 23v1m0 21v1m0 3v1m1-293v1m0 5v1m0 17v1m0 2v1m0 6v1m0 5v1m0 5v1m0 1v1m0 1v1m0 7v1m0 2v1m0 3v2m0 7v1m0 5v1m0 5v1m0 3v1m0 19v1m0 17v1m0 22v1m0 3v1m0 9v2m0 7v1m0 1v1m0 8v2m0 6v1m0 1v1m0 1v1m0 1v1m0 2v1m0 1v1m0 1v1m0 5v1m0 74v1m1-253v1m0 20v1m0 13v1m0 29v1m0 1v1m0 5v1m0 7v1m0 23v2m0 6v1"/>
<path stroke="#dbe9f3" d="M102 234v1m0 2v1m0 10v1m0 1v1m1-28v1m0 5v2m0 28v1m0 2v1m2-84v1m0 44v1m0 1v1m0 39v1m0 22v1m1-112v1m0 29v1m0 7v1m0 3v1m0 50v1m0 2v1m0 15v1m0 10v1m1-123v1m0 27v1m0 5v1m0 75v1m0 10v1m2-95v1m0 56v1m0 17v1m1-86v1m0 10v1m0 74v1m1-55v1m0 30v1m0 1v1m0 1v1m0 6v1m1-55v1m0 3v1m0 54v1m0 9v1m0 18v1m1-106v1m0 8v1m0 8v1m0 68v1m0 1v1m1-89v1m0 16v1m0 1v1m0 5v1m0 37v3m0 4v1m2-44v1m1-2v1m0 2v1m0 1v1m1-13v1m0 5v1m0 34v1m0 1v1m0 1v1m1-45v1m0 60v1m1-102v1m0 24v1m0 1v1m0 4v1m0 12v1m0 36v1m0 17v1m0 6v1m1-107v1m0 17v1m0 18v1m0 55v1m0 1v1m0 6v1m0 1v2m0 1v1m1-113v1m0 7v1m0 13v1m0 4v1m0 59v1m0 17v2m1-83v1m0 13v2m0 53v1m0 9v1m1-80v1m0 1v1m0 7v2m0 3v2m1-25v1m0 6v1m0 3v1m0 1v1m0 3v1m0 6v1m0 7v1m0 54v1m0 1v1m0 30v1m1-128v1m0 3v1m0 12v1m0 9v1m0 47v2m0 9v2m0 5v1m0 10v1m0 21v1m1-157v1m0 26v1m0 7v1m0 8v1m0 16v1m0 63v2m1-128v1m0 28v1m0 18v1m0 9v1m0 6v1m0 51v1m0 6v2m0 8v1m1-111v1m0 22v1m0 6v1m0 12v1m0 1v1m0 35v1m0 1v1m0 15v1m0 2v1m0 8v1m1-66v1m1 16v1m0 3v1m0 5v1m28-19v1m0 4v1m0 1v1m1-14v1m0 27v1m0 11v1m1-48v1m0 1v1m0 40v1m1-47v1m0 67v2m0 5v1m0 23v1m0 23v1m0 1v1m1-154v1m0 22v1m0 5v1m0 62v2m0 5v1m0 4v1m0 2v1m0 1v1m0 44v1m0 34v1m1-189v1m0 14v1m0 2v1m0 1v1m0 3v1m0 9v1m0 44v1m0 4v1m0 3v1m0 5v1m0 57v1m1-136v1m0 3v1m0 60v1m0 2v1m0 4v1m1-65v1m0 4v1m0 41v1m1-37v2m0 23v1m1-36v1m0 7v1m1-8v1m0 10v1m1 32v1m0 3v1m2-10v1m0 19v1m1-87v1m0 30v1m0 1v1m0 37v1m1-121v1m0 52v1m0 16v1m0 5v1m0 1v1m0 42v1m0 1v1m1-70v1m0 26v1m0 35v1m0 21v1m1-55v1m0 33v1m1-92v1m0 52v1m0 38v1m1-92v1m0 46v1m1-6v1m1-11v1m0 12v1m0 2v1m0 3v4m0 30v1m0 1v1m0 1v1m0 3v2m0 1v1m0 1v1m1-58v1m0 72v1m0 6v2m0 30v1m1-136v1m0 13v1m0 9v2m0 4v1m0 49v1m0 3v1m0 12v1m0 7v1m0 7v1m0 5v1m0 16v1m1-120v1m0 1v1m0 6v1m0 2v1m0 55v1m0 2v1m0 3v1m0 9v1m0 9v1m0 5v1m0 16v1m1-118v1m0 56v1m1-40v1m0 3v1m1 1v1m0 3v1m0 4v1m0 7v1m99 3v1m85-18v2m0 7v2m1-18v1m2 28v1m1-32v1m1-7v1m0 6v1m1-19v1m0 2v1m1-2v1m0 85v1m1-86v1m0 9v1m0 36v1m1-3v1m1-62v1m0 25v1m0 3v1m0 39v1m1-70v1m0 26v1m0 29v1m1-49v1m0 11v1m0 3v2m1-26v1m0 59v1m0 6v1m1-49v1m0 2v1m0 6v1m0 29v1m0 6v1m1-46v1m0 4v1m1-5v1m0 5v1m0 2v1m0 34v1m1-41v1m0 2v1m1-9v1m2 37v1m0 1v1m1-35v1m0 28v1m2 4v1m1-29v1m0 22v1m1-18v1m0 7v4m28 55v1m1-148v1m0 13v1m0 3v1m0 1v1m0 8v3m0 4v1m0 3v1m0 3v1m0 1v1m0 78v2m0 2v1m0 19v1m0 10v1m0 22v1m1-268v1m0 12v1m0 41v1m0 1v1m0 14v1m0 2v1m0 175v1m0 7v2m0 7v1m0 13v1m0 2v1m1-285v1m0 24v1m0 25v1m0 10v1m0 233v1m0 19v1m0 7v1m0 8v1m1-308v1m0 12v1m0 3v1m0 27v1m0 9v1m0 172v1m0 1v1m0 7v1m0 9v1m0 20v1m0 11v1m1-307v1m0 33v1m0 6v1m0 37v2m0 5v1m0 176v1m0 2v1m0 6v1m0 6v1m0 42v1m1-288v1m0 7v1m0 17v1m0 5v1m0 1v1m0 6v1m0 171v1m0 3v1m0 1v1m0 11v1m0 29v1m0 26v1m1-281v1m0 24v1m0 8v2m0 7v1m0 7v1m0 160v1m0 11v1m0 4v1m0 22v1m0 1v1m0 5v1m1-271v1m0 8v1m0 1v1m0 26v1m0 163v1m0 31v1m0 18v1m0 20v1m1-288v1m0 2v1m0 8v1m0 2v1m0 5v1m0 13v1m0 15v1m0 10v1m0 154v1m0 12v1m0 6v1m0 4v1m0 5v1m0 12v1m0 48v1m1-297v1m0 7v1m0 1v1m0 19v1m0 5v1m0 16v1m0 154v1m0 16v1m1-217v1m0 3v1m0 7v1m0 3v1m0 17v1m0 3v1m0 4v1m0 158v2m0 1v1m0 12v1m0 14v1m1-231v1m0 5v1m0 1v1m0 23v1m0 168v1m0 4v1m0 5v1m0 3v1m0 1v1m0 19v1m1-220v1m0 13v1m0 171v1m0 16v1m0 6v1m1-261v1m0 49v1m0 3v1m0 2v1m0 4v1m0 3v1m0 4v1m0 8v1m0 161v1m0 1v1m0 11v1m0 4v1m0 13v1m1-275v1m0 38v1m0 6v1m0 8v1m0 4v1m0 11v1m0 154v1m0 2v1m0 3v1m0 5v1m0 10v1m1-245v1m0 4v1m0 21v1m0 20v1m0 1v1m0 6v1m0 168v1m0 5v1m0 6v2m0 2v1m1-254v1m0 6v1m0 4v1m0 23v1m0 5v1m0 26v1m0 149v1m0 21v1m1-232v1m0 19v1m0 3v2m0 31v1m0 2v2m0 138v2m0 4v1m0 1v1m0 28v1m1-230v1m0 1v1m0 3v1m0 6v1m0 10v1m0 17v1m0 173v1m0 3v1m0 25v1m0 34v1m1-283v1m0 3v1m0 10v1m0 2v1m0 2v1m0 4v1m0 5v1m0 187v2m0 6v2m0 5v1m0 2v1m0 9v1m1-240v1m0 12v1m0 5v1m0 170v2m0 17v1m0 7v1m0 4v1m0 4v1m0 2v1m1-243v1m0 2v1m0 3v1m0 1v2m0 4v2m0 2v2m0 4v1m0 9v1m0 12v1m0 178v1m0 15v1m1-243v1m0 16v1m0 3v1m0 1v1m0 5v1m0 195v1m0 2v2m0 1v1m1-221v1m0 11v1m0 3v1m0 6v1m0 17v1m0 168v1m0 13v1m0 6v1m1-193v1m0 3v1m0 5v1m0 8v1m0 10v1m0 2v1m0 2v1m0 1v1m0 82v1m0 3v1m0 1v1m0 2v2m0 1v2m0 4v3m0 3v1m0 1v1m0 8v1m25-113v1m0 35v1m0 1v1m0 2v1m0 6v1m0 15v1m0 22v1m0 7v1m0 3v1m1-146v1m0 26v1m0 5v1m0 8v1m0 6v1m0 5v1m0 16v1m0 1v1m0 4v1m0 8v3m0 7v1m0 9v1m0 4v1m0 10v1m0 5v1m0 7v1m0 14v1m0 27v1m0 16v1m1-205v2m0 24v1m0 7v1m0 6v1m0 118v1m0 14v1m0 1v1m0 10v1m0 16v1m1-204v1m0 2v1m0 6v1m0 9v1m0 7v2m0 128v1m0 8v1m0 1v1m0 15v2m1-189v1m0 13v1m0 1v1m0 1v1m0 145v1m0 13v1m0 6v1m0 3v1m1-191v1m0 7v1m0 12v1m0 13v1m0 5v2m0 128v1m0 6v1m0 1v1m0 6v1m1-165v1m0 5v2m0 3v1m0 5v1m0 4v1m0 117v2m0 1v1m0 1v1m0 10v1m1-194v1m0 3v1m0 26v1m0 3v1m0 2v1m0 137v1m0 2v1m0 18v1m0 17v1m0 9v1m1-261v1m0 47v1m0 180v1m0 6v1m0 21v1m1-235v1m0 6v1m0 1v3m0 9v1m0 9v1m0 167v1m0 4v1m0 12v1m0 1v1m0 8v1m0 17v1m1-237v1m0 2v1m0 6v1m0 2v1m0 175v1m0 24v1m0 2v1m0 15v1m0 3v1m0 3v1m0 3v1m0 9v1m1-275v1m0 6v1m0 27v1m0 5v1m0 202v1m0 4v1m0 7v1m0 1v1m0 5v1m0 9v1m0 1v1m1-289v1m0 1v1m0 21v1m0 207v1m0 38v1m1-271v1m0 23v1m0 12v2m0 15v1m0 4v1m0 164v1m0 4v1m0 1v1m0 31v1m1-241v1m0 9v1m0 6v1m0 180v1m0 6v1m0 25v1m0 22v1m1-274v1m0 24v1m0 1v1m0 2v3m0 5v1m0 3v2m0 8v1m0 178v1m0 2v1m0 1v2m0 8v1m0 2v1m0 15v1m1-294v1m0 12v1m0 13v1m0 1v1m0 19v1m0 26v1m0 161v1m0 55v1m0 21v1m1-318v1m0 58v1m0 2v1m0 5v1m0 1v1m0 26v1m0 140v1m0 18v1m0 3v1m0 1v1m0 2v1m1-198v1m0 5v1m0 8v1m0 4v1m0 6v1m0 154v2m0 2v1m0 9v1m0 1v1m1-213v1m0 16v1m0 17v1m0 147v2m0 1v1m0 11v1m0 14v1m0 9v1m1-250v1m0 8v1m0 18v1m0 1v1m0 7v1m0 13v1m0 180v1m0 6v1m0 11v1m0 14v1m1-269v1m0 20v1m0 3v1m0 18v1m0 176v1m0 4v1m0 12v1m0 5v1m0 6v1m1-227v1m0 14v2m0 8v1m0 145v1m0 2v1m0 6v1m0 12v1m0 8v1m0 3v1m1-184v1m0 1v1m0 2v1m0 10v1m0 2v1m0 5v1m0 5v1m0 127v3m0 2v1m0 4v1m0 5v1m0 3v1m0 4v1m1-187v1m0 16v1m0 1v1m0 5v1m0 2v1m0 29v1m0 83v1m0 13v1m0 2v1m0 3v1m0 14v1m0 8v1m1-187v1m0 12v1m0 1v1m0 14v1m0 110v1m0 10v1m0 8v1m0 30v1m1-192v1m0 5v1m0 1v1m0 14v1m0 1v2m0 4v1m0 14v1m0 93v1m0 3v1m0 6v1m0 2v1m0 8v1m0 4v1m1-145v2m0 1v1m0 6v1m0 17v1m0 8v1m0 1v1m0 8v1m0 42v1m0 11v1m0 4v1m0 1v1m0 2v1m0 3v1m0 16v1m0 1v1m1-109v1m0 11v1m0 32v1m0 19v1m0 4v1m0 8v1m0 12v1m1-79v1m0 1v1m0 9v1m0 6v1m0 2v1m0 2v2m0 2v1m0 5v1m0 2v1m25-165v1m0 6v1m0 2v1m0 11v2m0 5v1m0 2v1m0 3v1m0 10v1m0 162v1m0 5v1m0 4v1m0 1v2m0 1v1m0 5v1m1-221v1m0 1v1m1-15v1m0 6v1m0 2v1m0 11v2m0 5v1m0 2v1m0 3v1m0 10v1m0 162v1m0 5v1m0 4v1m0 1v2m0 1v1m0 5v1m2-151v1m0 4v1m0 11v2m0 4v2m0 1v1m0 6v1m0 6v1m0 21v1m0 5v1m0 4v1m0 2v2m0 14v1m0 2v1m0 5v1m0 1v3m0 3v1m0 5v1m0 4v1m0 4v1m0 6v2m0 2v1m0 1v1m0 3v1m1-174v1m0 37v1m0 136v1m1-209v1m0 8v1m0 10v1m0 16v1m0 21v1m0 144v1m0 7v1m1-203v1m0 20v1m0 19v1m0 136v1m0 1v1m0 29v1m0 5v1m0 35v1m1-243v1m0 1v1m0 5v1m0 20v1m0 10v1m0 151v1m0 6v1m0 1v1m0 3v1m0 11v1m0 25v1m1-235v1m0 11v1m0 2v1m0 3v1m0 4v1m0 144v1m0 2v2m0 5v1m0 2v1m0 8v1m0 3v1m1-201v1m0 20v1m0 7v1m0 143v1m0 3v1m0 3v1m0 17v1m0 12v1m0 7v1m1-224v1m0 1v1m0 18v1m0 2v1m0 10v1m0 7v1m0 142v1m0 7v1m1-209v1m0 16v1m0 4v1m0 2v1m0 2v3m0 180v1m0 1v1m0 11v1m0 1v2m0 4v1m0 11v1m0 14v1m1-255v1m0 16v1m0 3v1m0 7v1m0 2v1m0 1v1m0 167v1m0 29v1m0 7v1m0 2v1m0 21v1m0 1v1m1-259v1m0 3v1m0 2v1m0 8v1m0 13v1m0 161v1m0 20v1m0 12v2m0 17v1m0 2v1m0 12v1m0 2v1m0 8v1m1-312v1m0 24v1m0 7v1m0 7v1m0 10v1m0 24v1m0 171v2m0 3v1m0 5v1m0 28v1m0 8v1m0 1v1m0 5v1m1-296v1m0 1v1m0 12v1m0 2v1m0 1v1m0 2v1m0 4v1m0 7v2m0 215v1m0 8v1m0 10v1m1-286v1m0 1v1m0 10v1m0 15v1m0 15v1m0 1v1m0 5v1m0 4v1m0 5v1m0 177v1m0 13v1m0 21v1m0 22v1m1-287v1m0 34v1m0 2v1m0 6v1m0 1v1m0 159v1m0 4v1m0 8v2m0 1v1m0 10v1m0 2v1m0 12v1m0 1v2m0 5v1m0 1v1m0 7v1m1-262v1m0 32v1m0 163v1m0 10v1m0 11v1m0 4v1m0 6v1m0 1v1m1-195v1m0 4v1m1-23v1m0 2v1m0 1v1m0 9v1m0 5v1m0 141v1m0 8v1m0 5v1m0 18v1m0 13v1m1-233v1m0 21v1m0 17v1m0 192v1m1-241v1m0 7v1m0 1v1m0 17v1m0 5v1m0 4v2m0 5v1m0 6v1m0 138v1m0 9v1m0 8v1m0 21v1m1-228v1m0 30v1m0 3v1m0 11v1m0 4v1m0 7v1m1-60v1m0 34v1m0 2v2m0 149v1m0 13v1m0 6v1m0 1v1m0 1v1m0 3v1m1-219v1m0 18v1m0 1v1m0 8v2m0 154v1m0 30v1m0 1v1m0 12v1m0 1v1m0 9v1m1-252v1m0 7v1m0 20v1m0 174v1m0 6v1m0 26v1m1-174v1m0 4v1m0 7v1m0 6v1m0 2v1m0 3v1m0 22v1m0 4v1m0 6v1m0 3v1m0 13v1m0 5v1m0 9v1m0 2v1m0 4v1m0 1v1m0 4v1m0 1v1m0 1v1m0 1v1m0 1v1m0 4v1m0 2v1m0 4v1m0 3v1m0 6v1m0 3v1m0 7v1"/>
<path stroke="#cce0ee" d="M102 233v1m0 2v1m0 1v1m3-26v1m0 9v1m0 55v1m1-68v1m0 52v1m0 1v1m0 20v1m1-70v1m0 1v1m0 1v1m0 1v1m5 43v1m0 7v1m1 0v1m1-59v1m0 6v1m2-6v1m0 36v1m1-30v1m0 21v1m0 2v1m1 1v1m0 22v1m1-18v1m0 5v1m1-62v1m0 8v1m0 46v1m0 5v1m1-70v1m0 11v1m0 47v1m0 3v1m0 12v1m1-70v1m0 2v1m0 3v1m0 1v1m0 4v1m0 49v1m0 3v1m1-56v1m0 2v2m0 35v1m0 4v1m1-55v1m0 68v1m2-65v1m0 48v1m1-84v1m0 3v1m0 5v1m0 16v1m0 48v1m0 16v1m1-83v1m0 66v1m0 1v1m0 1v1m0 15v1m1-54v1m1 22v1m0 1v1m1-17v1m0 7v1m28-13v2m0 3v1m0 10v1m0 1v2m3 7v1m1-40v1m0 52v1m1-88v1m0 29v1m0 4v1m0 1v1m0 42v1m0 2v1m0 5v1m0 8v1m1-98v1m0 69v1m0 6v1m1-53v1m0 4v1m0 36v2m0 7v1m1-17v1m2-17v1m2 25v1m1-35v1m0 34v1m0 2v1m1 17v1m1-90v1m2 32v1m2-27v1m0 14v1m1 11v1m1 2v1m1-10v1m0 43v1m0 8v1m0 6v1m0 27v1m1-110v1m0 64v1m0 14v1m1-67v1m0 53v1m1-44v1m1 3v1m0 25v1m1-10v1m0 2v1m0 2v1m184-17v1m0 2v1m0 1v1m0 3v1m0 2v1m0 4v1m3-22v1m1 27v1m1-4v1m0 1v1m3-32v1m0 29v1m1-1v1m1-38v1m0 9v1m0 28v1m1-52v1m0 12v1m0 34v1m1-48v1m0 12v1m0 6v1m0 37v1m5-39v1m1-18v1m1 14v1m0 30v1m1-30v1m0 25v1m2-1v1m0 2v1m1-31v1m0 30v1m1-7v1m29 40v1m1-130v1m0 18v1m0 1v1m0 5v1m0 8v1m0 5v1m0 62v1m0 14v1m0 2v1m0 14v1m1-184v1m0 30v1m0 159v1m0 17v1m0 1v1m0 4v1m0 2v1m0 6v1m0 8v1m0 9v1m0 16v1m1-262v1m0 2v1m0 35v1m0 181v1m0 4v1m0 16v1m0 16v1m1-308v1m0 54v1m0 19v1m0 7v1m0 2v1m0 158v1m0 7v1m0 4v1m0 20v1m0 1v1m0 2v1m0 9v1m0 31v1m1-282v1m0 201v1m1-170v1m0 173v1m0 21v1m0 14v1m0 4v1m0 1v1m1-229v1m0 5v1m0 13v1m0 162v2m0 42v1m0 13v1m1-242v1m0 3v1m0 7v1m0 158v2m0 23v1m0 3v1m1-193v2m0 2v1m0 145v1m0 30v1m1-201v1m0 14v1m0 3v1m0 4v1m0 164v1m0 23v1m1-215v1m0 14v1m0 172v1m0 10v1m0 15v1m1-205v1m0 2v1m0 4v1m0 26v1m0 155v1m0 11v1m0 3v1m1-199v1m0 154v1m0 7v1m0 16v1m0 6v1m1-174v1m0 6v1m0 4v1m0 152v1m0 32v1m1-272v1m0 14v1m0 43v1m0 6v1m0 148v2m0 11v1m0 17v1m0 3v1m1-250v1m0 38v1m0 6v1m0 7v1m0 8v1m0 4v1m0 6v1m0 1v1m0 2v1m0 152v1m0 28v1m1-256v1m0 72v2m0 139v1m0 3v1m0 9v1m0 16v1m0 8v1m1-238v1m0 21v1m0 7v1m0 15v1m0 5v1m0 122v1m0 5v1m0 4v1m0 8v1m0 13v1m1-19v1m0 30v1m1-233v1m0 2v1m0 9v1m0 6v1m0 10v1m0 177v1m0 10v1m0 22v1m1-242v1m0 9v1m0 2v1m0 33v1m0 155v1m0 15v1m0 6v1m0 13v1m1-240v1m0 7v1m0 22v1m0 16v1m0 167v1m0 1v1m0 4v1m0 2v1m1-228v1m0 16v1m0 4v1m0 11v1m0 182v1m1-178v1m0 2v1m0 6v1m0 8v1m1 13v1m0 8v1m0 5v1m0 74v1m0 1v1m0 9v2m0 12v1m25-62v1m0 22v1m1-116v1m0 1v1m0 62v1m0 11v1m0 30v1m0 3v1m0 21v1m0 1v2m0 15v1m0 14v1m0 7v1m1-176v1m0 46v1m0 90v1m0 11v2m0 16v1m0 7v1m1-176v1m0 19v1m0 4v1m0 2v1m0 5v1m0 2v1m0 3v1m0 5v1m0 9v1m0 79v1m0 39v1m1-171v1m0 36v1m0 9v1m0 118v1m0 1v1m1-143v1m0 11v1m0 1v1m0 2v1m0 101v2m0 1v2m0 5v1m0 1v1m0 9v1m1-148v1m0 13v1m0 2v1m0 8v1m0 101v1m0 1v1m0 1v1m0 12v1m1-189v1m0 29v1m0 1v1m0 5v1m0 137v1m0 18v1m1-12v1m1-177v1m0 6v1m0 2v1m0 1v1m0 184v1m1-169v1m0 162v1m0 2v1m0 3v1m0 5v1m0 3v1m0 15v1m1-233v1m0 11v2m0 1v1m0 5v1m0 4v1m0 6v1m0 155v1m0 47v1m1-240v1m0 201v1m0 32v1m1-240v1m0 5v1m0 11v1m0 3v1m0 2v1m0 4v1m0 2v1m0 162v1m0 14v1m0 7v1m0 1v1m0 32v1m1-72v1m0 11v1m0 13v1m0 5v1m1-199v1m0 8v1m0 1v1m0 1v1m0 19v1m0 138v2m0 6v1m0 2v1m0 5v1m1-199v1m0 206v1m0 1v1m0 9v1m1-217v1m0 2v1m0 10v1m0 4v1m0 10v1m0 7v1m0 152v1m0 25v1m1-219v1m0 1v1m0 26v1m0 1v1m0 5v1m1-27v1m0 5v1m0 19v1m0 145v1m0 3v1m0 9v1m0 3v1m1-205v1m0 16v1m0 4v1m0 1v1m0 14v1m0 155v1m1-195v1m0 26v1m0 151v1m1-143v1m0 129v1m0 6v1m0 11v1m0 1v1m0 19v1m1-177v1m0 4v1m0 124v1m0 4v1m0 8v1m1-144v1m0 18v1m0 1v1m0 92v1m0 18v1m0 1v1m1-122v1m0 7v1m0 88v1m0 28v1m0 1v1m0 3v1m0 5v1m0 6v1m0 16v1m1-176v1m0 5v1m0 10v1m0 87v1m0 42v1m1-111v1m0 9v1m0 49v2m0 11v1m0 5v1m0 9v1m0 6v1m1-34v1m0 1v1m1-40v1m0 6v1m0 20v1m0 38v1m25-194v1m0 7v1m0 7v3m0 6v1m0 11v1m0 14v1m0 163v1m0 2v1m0 2v1m0 21v1m2-245v1m0 7v1m0 7v3m0 6v1m0 11v1m0 14v1m0 163v1m0 2v1m0 2v1m0 21v1m2-137v2m0 2v1m0 4v1m0 2v5m0 3v1m0 4v1m0 9v1m0 4v1m0 18v1m0 1v2m0 10v1m0 1v1m0 3v1m1 26v1m1-204v1m0 40v1m0 41v1m0 104v1m1-133v1m0 138v1m0 6v1m0 31v1m1-200v1m0 5v1m0 14v1m0 131v1m0 12v1m0 2v1m1-186v1m0 43v1m1-17v1m0 2v1m0 2v1m0 148v1m0 6v1m1-174v2m1-26v1m0 1v1m0 9v1m0 24v1m0 8v1m0 153v1m0 2v1m0 6v1m1-220v1m0 15v1m0 1v1m0 14v1m0 13v1m1-35v1m0 20v1m0 2v1m0 2v1m0 4v1m0 179v1m0 9v1m0 1v1m0 1v1m0 7v1m0 26v1m1-273v1m0 5v1m0 1v1m0 35v1m0 171v1m0 32v1m0 7v1m0 29v1m0 1v1m1-295v1m0 24v1m0 9v2m0 1v1m0 4v1m0 178v1m0 14v1m0 30v1m0 24v1m1-280v1m0 9v1m0 12v1m0 8v1m0 3v1m0 181v1m0 5v1m0 12v1m0 2v1m1-230v1m0 25v1m0 152v1m0 4v1m0 19v1m0 6v1m1-204v1m0 2v1m0 11v1m0 150v1m0 1v1m0 4v1m1-156v1m0 3v2m0 2v1m0 137v1m0 7v1m0 20v1m0 11v1m1-178v1m0 126v1m0 1v1m0 7v1m0 2v1m1-161v1m0 12v1m0 116v1m0 36v1m1-151v1m0 2v1m0 143v1m0 9v1m1-181v1m0 12v1m0 14v1m0 123v1m0 8v1m0 19v1m0 9v1m0 1v1m1-204v1m0 180v1m0 31v1m0 3v1m1-195v1m0 156v1m0 1v2m0 2v1m0 25v1m1-194v1m0 3v1m0 6v1m0 158v1m1-141v1m0 1v1m0 5v1m0 3v1m0 25v1m0 1v1m0 3v1m0 17v1m0 17v2m0 1v1m0 1v1m0 14v1m0 4v1m0 8v1m0 17v1"/>
<path stroke="#c5dcec" d="M102 235v1m0 7v3m0 1v1m1-20v1m2 35v1m1-43v1m0 40v1m1-6v1m2-2v1m1 1v1m1-2v1m1-37v1m0 39v1m0 8v1m2-11v1m1-41v1m0 3v1m0 34v1m1-35v1m0 29v1m1-25v2m2 45v1m2-97v1m0 22v1m0 8v1m0 44v1m0 11v1m1-3v1m1-63v1m0 10v2m0 8v1m0 31v1m0 9v1m1-54v1m0 41v1m0 2v1m0 1v1m1-65v1m1 66v1m1-73v1m0 4v1m0 19v1m0 1v1m0 45v1m0 18v1m1-65v1m0 33v1m2-6v1m1-14v1m0 7v1m28-13v1m0 7v1m0 4v1m0 1v1m3-31v1m0 40v1m0 8v1m1 7v1m1-21v1m0 2v1m1-41v1m1 1v1m1 28v1m2-19v1m2-7v1m0 34v1m1-7v1m1-2v1m1-3v1m0 26v1m1-58v1m0 32v1m1-31v1m4 27v1m0 5v1m1-61v1m0 14v1m1 0v1m0 62v1m1-71v1m0 11v1m0 36v1m0 5v1m1-40v1m1 29v1m0 4v1m1-20v2m184-3v1m2-17v1m1-2v1m0 1v1m0 1v1m2-5v1m2-4v1m2-2v1m2 7v1m1 26v1m8-27v1m1 28v1m2-4v1m2-17v1m29-56v1m0 7v1m0 1v1m0 3v2m0 8v1m0 55v1m0 12v3m0 8v1m0 2v2m0 1v2m1-162v1m0 27v1m0 139v1m0 1v1m0 8v1m0 1v1m1-198v1m0 20v1m0 213v1m0 2v1m0 9v1m1-243v1m0 5v1m0 3v1m0 5v1m0 1v1m0 1v1m0 1v1m0 162v1m0 6v1m0 4v1m0 2v1m0 12v1m0 1v1m0 5v1m0 19v1m1-48v1m0 7v1m0 22v1m0 3v1m1-212v1m0 3v1m0 2v1m0 10v1m0 174v1m0 2v1m0 13v1m1-195v1m0 182v1m0 21v1m1-195v1m0 1v1m0 163v1m0 22v1m1-48v1m0 7v1m0 2v1m0 5v1m0 11v1m1-194v1m0 13v1m0 15v1m0 135v1m1 6v1m1-152v1m0 142v1m1-171v1m0 3v1m1-8v1m0 40v1m0 117v1m0 38v1m0 1v1m1-182v1m0 8v1m0 5v1m0 122v1m1-122v1m0 126v1m0 24v1m0 1v1m1-192v1m0 12v1m1-10v1m0 5v1m0 1v1m0 22v1m0 114v1m0 3v1m0 1v2m0 1v1m0 5v1m0 5v1m0 3v1m1 2v1m0 12v1m1-215v1m0 35v1m1-14v1m0 168v1m0 6v1m1-190v1m0 21v1m0 6v1m0 155v1m0 9v1m0 26v1m1-234v1m0 29v1m0 200v1m1-178v1m0 148v1m0 3v1m1-159v1m0 17v1m0 15v2m0 75v1m0 2v1m0 14v1m0 7v1m26-96v1m0 5v1m0 13v1m0 6v1m0 30v1m0 34v1m1-59v1m1-75v1m0 95v1m0 35v1m1-132v1m0 3v1m0 20v1m1-23v1m0 5v1m0 29v1m0 64v1m1-95v1m0 5v1m0 15v1m0 66v1m0 23v1m0 24v1m1-176v1m0 19v1m0 18v1m0 138v1m1-186v1m0 2v1m0 4v1m0 168v1m0 35v1m0 1v1m1-214v1m0 4v1m0 187v1m1-22v1m0 8v1m0 7v1m0 1v1m1-189v1m0 11v1m0 179v1m0 34v1m1-39v1m0 18v1m0 19v1m1-219v1m0 169v1m0 5v1m1-170v1m0 5v1m0 6v1m0 5v1m0 152v1m1-166v1m0 169v1m1-190v1m0 174v1m1-178v1m0 18v1m0 151v1m0 11v1m1-168v1m0 9v1m0 1v1m0 136v1m0 6v1m1-161v1m0 8v1m0 150v1m1-164v1m0 10v1m0 159v1m0 5v1m0 2v1m0 1v1m0 3v1m1-185v1m0 169v1m1-19v1m0 2v1m1-135v1m0 2v1m0 5v1m0 28v1m0 77v1m0 2v1m0 13v1m0 25v1m1-48v1m0 3v1m0 14v1m1-116v1m0 12v1m0 6v1m0 91v1m1-102v1m0 15v1m0 77v1m0 9v1m1-118v1m0 6v1m0 11v1m0 21v1m0 22v1m0 10v1m1-75v1m0 53v1m0 2v1m0 38v1m0 11v1m26-182v1m0 9v1m0 2v1m0 8v1m0 9v1m0 3v1m0 8v1m0 135v1m0 10v1m0 2v1m0 3v1m2-200v1m0 9v1m0 2v1m0 8v1m0 9v1m0 3v1m0 8v1m0 135v1m0 10v1m0 2v1m0 3v1m2-95v1m0 2v1m0 6v1m0 12v1m0 4v1m0 10v1m0 4v1m1-106v1m0 16v1m0 12v1m0 126v1m1-154v1m0 15v1m0 7v1m0 105v1m1-1v1m1-140v1m0 193v1m1-213v1m1-2v1m0 42v1m1-48v1m0 27v1m0 4v1m0 7v1m0 5v1m0 3v1m0 128v1m0 10v1m1-191v1m0 27v1m0 5v1m0 2v1m0 144v1m0 4v1m0 1v1m0 1v1m0 15v1m0 11v1m1-23v1m0 5v1m0 20v1m0 25v1m1-223v1m0 8v1m0 156v1m0 7v1m1-160v1m0 164v1m0 43v1m1-258v1m0 37v1m0 10v1m0 168v1m0 2v1m0 1v1m1-179v1m0 190v1m0 13v1m0 1v1m1-230v1m0 19v1m0 133v1m0 5v1m0 16v1m0 8v1m0 4v1m0 36v1m1-83v1m1 13v1m0 7v1m1-158v1m0 12v1m0 119v1m0 27v1m1-165v1m0 25v1m0 109v1m0 7v1m0 17v2m1-165v1m0 2v1m0 17v1m0 1v2m0 3v1m0 8v1m0 110v1m1-147v1m0 19v1m1-8v1m0 129v1m0 24v2m1-179v1m1 0v1m0 148v1m0 31v1m0 3v1m1-185v1m0 5v1m0 12v1m0 12v1m0 26v1m0 16v1m0 9v2m0 12v1m0 25v1m0 54v1"/>
<path stroke="#bdd7e9" d="M103 254v1m0 2v1m1 5v1m4-38v1m3 29v1m2-36v1m3 35v1m3-31v1m0 28v1m1-43v1m0 53v1m1-2v1m2-51v1m0 34v1m3-53v1m0 23v1m33 12v1m3-14v1m1-5v1m0 49v1m1-10v1m0 4v1m0 6v1m3-42v1m2 20v1m6 2v1m3-32v1m0 1v1m0 30v1m1-30v1m3 53v1m2-21v1m2-29v1m0 1v1m0 4v1m0 4v1m184-9v1m0 1v1m1-14v1m2 1v1m0 25v1m2-28v1m2 27v1m5-3v1m2-29v1m0 2v1m3 24v1m0 1v1m1-2v1m2-29v1m2-2v1m3 14v1m0 1v1m29-30v1m0 4v1m0 61v1m0 3v1m0 12v1m1-147v1m0 21v1m0 146v1m0 5v1m1-19v1m1-191v1m0 18v1m0 14v1m0 8v1m0 152v1m0 6v1m0 4v1m0 5v1m0 6v1m0 9v1m1-199v1m1 9v1m0 145v1m0 28v1m0 12v1m1-44v1m1-130v1m0 144v1m2-182v1m0 21v1m0 2v1m0 12v1m1-33v1m0 2v1m0 178v1m1-181v1m0 156v1m0 1v1m1-141v1m0 148v1m0 2v1m1-154v1m0 126v1m1-120v1m1-14v1m0 1v1m2-22v1m0 1v1m0 8v1m0 1v1m0 22v1m0 103v2m0 1v1m0 27v1m1-172v1m0 2v1m0 151v1m0 1v1m0 9v1m1-15v1m0 38v1m1-233v1m0 21v1m0 3v1m0 1v1m1-28v1m0 52v1m0 156v1m0 12v1m2-164v1m0 142v1m1-132v1m0 4v1m0 13v1m0 4v1m0 1v1m0 1v1m0 2v1m0 9v1m0 45v1m0 3v1m0 17v1m26-57v1m0 25v1m0 31v1m0 3v1m1-93v1m0 71v1m1 16v1m0 15v1m0 6v1m1-144v1m0 121v1m1-110v1m0 54v1m0 30v1m0 20v1m0 14v1m1-114v1m0 11v1m0 3v1m0 17v1m0 50v1m0 17v1m1-139v1m2-3v1m0 5v1m0 2v1m0 3v1m0 143v1m0 6v1m0 4v1m0 23v1m1-42v1m0 32v1m1-170v1m0 139v1m1-174v1m0 9v1m0 172v1m0 4v1m1-182v1m0 22v1m0 139v1m0 5v1m1-151v1m0 6v1m1-11v1m0 146v1m0 2v1m4-176v1m0 28v1m0 10v1m0 130v1m0 21v1m0 4v1m1-167v1m0 157v1m0 16v1m1-172v1m0 163v1m1-182v1m0 6v1m0 5v1m0 149v1m0 10v1m1-129v1m1 7v1m1 70v1m0 6v1m0 16v1m1-111v1m0 1v1m0 95v1m1-93v1m0 10v1m0 20v1m0 65v1m27-163v1m0 9v1m0 156v1m0 1v1m0 1v1m0 6v1m2-179v1m0 9v1m0 156v1m0 1v1m0 1v1m0 6v1m2-95v1m0 16v1m0 1v1m0 10v1m0 5v1m0 5v1m1-84v1m0 30v1m0 67v1m0 21v1m1-133v1m1-22v1m0 152v1m1-142v1m0 150v1m0 3v1m2-161v1m0 6v1m1 7v1m0 146v1m1-145v1m0 146v1m1 31v1m1-232v1m0 7v1m0 208v1m1-178v1m0 177v1m1-182v1m0 209v1m1-197v1m0 143v1m0 24v1m1-39v1m0 3v1m1-137v1m0 136v1m1-131v1m0 127v1m1-115v1m0 98v1m0 18v1m0 2v1m1-147v1m0 24v1m0 105v1m0 15v1m1-141v1m0 124v1m0 24v1m1-24v1m0 14v1m0 1v1m1-168v1m0 18v1m0 8v1m0 3v1m0 17v1m0 4v1m1-47v1m0 8v1m0 13v1m0 153v1m1-49v1m1-115v1m0 30v2m0 11v1m0 2v1m0 13v1m0 8v1m0 4v1m0 14v1m0 11v1m0 1v1"/>
<path stroke="#b6d3e7" d="M103 255v1m2 4v1m1-2v1m1-32v1m2-2v1m5-4v1m3 29v1m3 4v1m2 6v1m3-3v1m2-8v1m0 7v1m2-36v1m0 2v1m2 8v2m28 4v1m1-20v1m2-4v1m0 39v1m0 1v1m2-56v1m2-1v1m1 21v1m2-5v1m0 4v1m0 14v1m3 3v1m3-26v1m5 24v1m2 4v1m0 1v1m0 14v1m2-19v1m0 1v1m187-9v1m12-28v1m4 3v1m3 23v1m34-65v1m0 15v1m0 7v1m0 48v1m0 2v1m0 2v1m0 2v1m0 2v1m1-110v1m0 14v1m0 119v1m2 3v1m1-155v1m1 164v1m1-126v1m0 119v1m1-173v1m0 179v1m2-140v1m2-15v1m0 5v1m1-8v1m0 8v1m0 136v1m1-116v1m0 123v1m1-18v1m1 1v1m0 1v1m0 1v1m0 2v1m2-146v1m0 8v1m0 3v1m1-41v1m0 162v1m1-157v1m0 8v1m0 174v1m1-183v1m0 2v1m0 167v1m1-170v1m0 14v1m1 137v1m1-2v1m1-101v1m0 1v1m0 50v1m0 3v1m0 7v1m26-51v1m2 62v1m0 13v1m0 1v1m0 6v1m0 4v1m1-111v1m0 112v1m1-87v1m0 61v1m1-95v1m0 83v1m1-107v1m0 5v1m1-21v1m0 147v1m1-150v1m0 7v1m0 14v1m1 137v1m0 10v1m0 15v1m3-194v1m1 14v1m1 159v1m2-5v1m1-12v1m0 11v1m0 2v1m1 16v1m1-198v1m0 28v1m0 139v1m0 7v1m1 0v1m1-29v1m1-131v1m0 56v1m0 55v1m0 22v1m1-49v1m1-64v1m0 5v1m0 92v1m2-17v1m1-53v1m26-87v1m0 2v2m0 3v1m0 5v1m0 148v1m0 8v1m0 3v1m0 2v1m0 1v1m1-195v1m1 12v1m0 2v2m0 3v1m0 5v1m0 148v1m0 8v1m0 3v1m0 2v1m0 1v1m2-112v1m0 8v1m0 13v1m0 32v1m0 4v1m1 22v1m0 14v1m1-148v1m0 145v1m0 10v1m1-150v1m0 8v1m1-24v1m0 140v1m2-112v1m0 9v1m0 113v1m1-114v1m1-13v1m1 170v1m1-182v1m0 151v1m0 20v1m1-190v1m0 209v1m0 1v1m1-4v1m2-44v1m1-143v1m0 115v1m0 4v1m2-107v1m0 1v1m0 88v1m0 33v1m1-153v1m0 14v1m0 105v1m0 2v1m0 26v1m1-124v1m0 97v1m1-95v1m0 83v1m0 6v1m0 9v1m2-112v1m0 111v1m0 15v1m1-140v1m0 15v1m1 30v1m0 15v1m0 13v1m0 6v1"/>
<path stroke="#afcee4" d="M102 242v1m0 3v1m3-20v1m0 1v1m0 32v1m2-33v1m2-1v1m2 0v1m0 19v1m0 2v1m0 2v1m1-34v1m0 30v1m0 4v1m2-39v1m2 8v1m1 2v2m6-6v1m2 26v1m1-30v1m2 2v2m1-7v1m30 14v1m0 1v1m0 1v1m4 26v1m1-9v1m2-39v1m0 2v1m1 6v2m0 2v1m2-7v1m0 7v1m0 7v1m0 1v1m4-26v2m2 2v1m2-3v1m2 3v1m0 22v1m2 10v1m189-25v1m2-13v1m2 23v1m6-25v1m1 22v1m5 1v1m38-54v1m0 1v1m0 2v1m0 2v1m0 14v2m0 3v1m0 16v3m0 6v1m0 9v2m0 2v1m1-93v1m1-11v1m3-5v1m1-26v1m0 38v1m1 142v1m0 17v1m1-170v1m0 1v1m0 123v1m0 3v1m0 1v1m1-131v1m0 19v1m0 108v1m1 6v1m0 1v1m1-133v1m0 2v1m1-5v1m0 5v1m0 2v1m1-2v1m1 9v1m0 104v1m1-132v1m0 126v1m2-157v1m0 12v1m0 10v1m0 4v1m0 12v2m0 95v1m0 6v1m0 6v1m1-117v1m1-36v1m0 6v1m0 2v1m0 24v1m1 119v1m1-155v1m0 15v1m0 1v1m0 159v1m1-17v1m1-144v1m1 28v1m0 23v1m0 5v1m0 16v1m0 8v1m0 6v1m0 1v1m0 12v1m0 1v1m0 8v1m26 5v1m1-3v1m1-80v1m0 10v1m0 69v1m1-103v1m0 30v1m0 20v1m0 56v1m1-97v1m0 3v1m0 1v1m0 56v1m0 24v1m1-90v1m0 5v1m0 5v1m0 2v1m0 9v1m0 8v1m0 33v2m0 3v1m0 1v3m0 12v1m1-103v1m1 118v1m1-145v1m0 1v1m0 18v1m0 126v1m1-3v1m1-152v1m0 11v1m0 176v1m1-186v1m0 152v1m0 16v1m0 15v1m1-185v1m0 1v1m0 9v2m2-5v1m0 164v1m1-178v1m1 17v1m0 133v1m4 19v1m1-167v1m0 1v1m0 12v1m0 4v1m0 22v2m0 72v2m1-91v1m1 0v1m0 83v1m0 5v1m1-9v1m0 13v1m1-23v1m1-46v1m0 1v1m0 31v1m27-130v1m0 11v1m0 4v1m0 2v1m0 17v1m0 6v2m0 112v1m0 5v2m0 10v1m0 5v1m2-184v1m0 11v1m0 4v1m0 2v1m0 17v1m0 6v2m0 112v1m0 5v2m0 10v1m0 5v1m2-69v1m0 9v1m0 5v1m0 5v1m2-67v1m0 97v1m0 2v1m1-140v1m0 148v1m1-121v1m1-20v1m0 5v1m1-6v1m0 9v1m0 128v1m1-135v1m0 132v1m1-142v1m0 19v1m2-9v1m0 1v1m0 164v1m1-171v1m0 2v1m1-3v1m0 160v1m0 1v1m0 13v1m1-13v1m1-30v1m3-125v1m0 94v1m0 7v1m0 6v1m1-92v1m0 101v1m1-145v1m0 33v1m0 100v1m0 11v1m1-27v1m0 19v1m1-133v1m0 130v1m1-137v1m0 136v1m0 3v1m0 18v1m1-155v1m0 103v1m0 53v1m1-148v1m0 24v1m0 2v1m0 3v1m0 2v1m0 8v1m0 22v1m0 4v1"/>
<path stroke="#a8cae2" d="M103 252v1m4-26v1m2 27v1m2-23v1m0 19v1m6-15v1m4-15v1m0 5v1m0 20v1m1-27v1m5 25v1m1-28v1m31 16v1m0 4v1m8-10v1m4 18v1m9-25v1m0 19v1m3 3v1m190-4v1m2-25v1m2-2v1m1-1v1m3 2v1m3 23v1m1-6v1m0 2v1m5-22v1m4 0v1m30-25v1m0 2v1m0 3v1m0 3v1m0 33v2m0 4v1m0 11v2m1 25v1m1-118v1m1-16v1m0 1v1m0 3v1m4 135v1m2-136v1m2 127v1m2-119v1m0 116v1m1-123v1m3-6v1m0 13v1m0 5v1m0 83v1m0 2v1m0 1v1m0 5v1m1-3v1m3 30v1m2-28v1m1-98v1m0 11v2m0 2v1m0 2v2m0 10v2m0 5v1m0 1v1m0 9v1m0 3v1m0 8v2m0 1v1m0 2v1m0 1v2m0 6v1m27-26v1m1-9v1m0 29v1m1-25v1m1-39v1m1-28v1m0 106v1m0 6v1m1-109v1m2-17v1m0 132v1m1 9v1m1-155v1m0 3v1m0 144v1m0 11v1m4-141v1m2-26v1m2 21v1m0 12v1m0 113v1m1 2v1m2-22v1m0 5v1m1-38v1m0 15v1m1-68v1m0 14v1m1-27v1m0 4v1m0 24v1m2 11v1m1 20v1m26-109v1m0 2v1m0 2v1m0 1v2m0 7v1m0 1v1m0 4v1m0 110v1m0 8v1m0 3v2m0 2v1m2-153v1m0 2v1m0 2v1m0 1v2m0 7v1m0 1v1m0 4v1m0 110v1m0 8v1m0 3v2m0 2v1m3-100v1m0 15v1m1-59v1m0 29v1m0 80v1m0 8v1m1 10v1m1-109v1m0 113v1m1 2v1m1-6v1m1-2v1m3-111v1m0 128v1m0 3v1m0 12v1m3-8v1m1-22v1m2-118v1m1 28v1m1-29v1m0 27v1m1-24v1m0 16v1m2 77v1m0 27v1m1-33v1m0 14v1m1-112v1m0 5v1m0 43v1m0 48v1m1-65v1m0 43v1"/>
<path stroke="#a0c6df" d="M114 228v1m13-3v1m34 28v1m6-12v1m0 2v2m2-8v1m11-11v1m2 23v1m242-38v1m0 4v1m0 1v1m0 3v1m0 2v1m0 6v1m0 2v2m0 2v1m0 5v1m0 6v1m0 4v1m1 37v1m4-145v1m0 9v1m4 137v1m0 3v1m2-17v1m3-111v1m3-8v1m0 7v1m0 2v1m0 1v1m0 11v1m4-20v1m1 130v1m1-138v1m1 32v1m0 2v1m0 3v2m0 2v1m0 3v1m0 2v1m0 5v1m0 9v1m0 1v1m0 16v1m27 24v1m1-41v1m0 19v1m1 5v1m0 10v1m2-63v1m0 1v1m0 1v1m0 29v1m7-78v1m2-13v1m0 10v1m1 1v1m1 114v1m4-134v1m0 13v1m1 12v1m0 9v1m0 16v1m1 14v1m0 1v1m1-4v1m0 22v1m3-21v1m27-86v1m0 4v2m0 12v1m0 2v1m0 11v1m0 92v1m0 7v1m0 2v2m0 1v1m2-142v1m0 4v2m0 12v1m0 2v1m0 11v1m0 92v1m0 7v1m0 2v2m0 1v1m3-83v1m2-13v2m0 10v1m0 78v1m1-107v1m4 5v1m2 0v1m0 150v1m1-17v1m1-14v1m1-118v1m0 141v1m4-134v1m3 76v1m1-96v1m0 96v1m0 27v1m1-17v1"/>
<path stroke="#99c1dd" d="M103 232v1m2 23v1m6-25v1m0 2v1m1 16v1m2 1v1m0 4v1m3-20v1m2 12v1m4-18v1m1-6v1m43 9v1m0 3v1m2-9v1m0 2v1m0 4v1m5-12v1m1 18v1m4-19v1m194-4v1m2 19v1m6-17v1m9-1v1m34-25v1m0 3v1m0 2v1m0 8v1m0 1v1m0 4v1m0 1v2m0 2v1m0 2v2m0 1v1m0 3v1m0 1v1m0 6v1m0 1v1m3 44v1m1-17v1m2-96v1m1 86v1m8-99v1m2 6v1m0 6v1m0 8v1m0 60v1m0 1v2m1 10v1m6-72v1m0 10v2m0 4v2m0 6v2m0 2v2m0 4v1m0 5v1m27-17v1m1-7v1m3-11v1m0 14v1m0 18v1m0 3v1m0 2v1m4-72v1m2 97v1m2 0v1m0 9v1m1-5v1m2-99v1m2-18v1m0 108v1m3-81v1m0 13v1m0 46v1m0 1v1m0 2v1m1 7v1m2-45v1m29-81v1m0 1v3m0 1v1m0 8v2m0 1v1m0 9v2m0 1v1m0 85v1m0 5v1m0 5v1m0 1v1m0 3v2m0 4v1m2-142v1m0 1v3m0 1v1m0 8v2m0 1v1m0 9v2m0 1v1m0 85v1m0 5v1m0 5v1m0 1v1m0 3v2m0 4v1m4-39v1m1-61v1m0 10v1m0 25v1m0 7v1m3-59v1m2-6v1m0 115v1m2 4v1m1-112v1m1 120v1m1-121v1m4 75v1m2-54v1m0 31v1m1 15v1m1-62v1m1 69v1m1-53v1"/>
<path stroke="#92bdda" d="M103 249v1m2-17v1m6 3v1m0 11v2m3-20v1m0 20v1m3-17v1m0 6v2m6-2v1m38-13v1m6 7v1m0 2v1m2 0v1m0 2v1m6 2v1m200-15v1m5 13v1m1-3v1m9-13v1m4 1v1m30-16v1m0 1v1m0 8v2m0 1v1m0 3v1m0 13v1m0 3v1m17-55v1m0 5v1m0 1v1m0 52v1m0 8v1m0 3v1m2-96v1m5 36v1m0 10v2m0 3v1m0 3v1m0 2v1m0 6v3m0 1v1m0 7v1m31-52v1m0 17v1m0 11v1m0 11v1m0 10v1m10 21v1m1-84v1m3 88v1m2-81v1m0 22v1m0 5v1m0 18v1m32-91v1m0 6v1m0 2v3m0 1v1m0 1v2m0 2v1m0 1v7m0 1v1m0 3v2m0 1v3m0 1v2m0 1v1m0 7v1m0 2v1m0 3v1m0 2v2m0 6v1m0 10v1m0 5v1m0 3v2m0 5v3m0 1v1m0 1v2m0 2v5m2-113v1m0 6v1m0 2v3m0 1v1m0 1v2m0 2v1m0 1v7m0 1v1m0 3v2m0 1v3m0 1v2m0 1v1m0 7v1m0 2v1m0 3v1m0 2v2m0 6v1m0 10v1m0 5v1m0 3v2m0 5v3m0 1v1m0 1v2m0 2v5m4-27v1m1-14v1m0 3v1m0 14v1m5 36v1m2-103v1m5 86v1m2-60v1m0 9v1m2 2v1"/>
<path stroke="#8bb8d8" d="M103 236v3m0 1v3m0 1v2m2-8v1m0 6v1m2-13v1m2 7v2m0 1v1m2-6v1m0 1v3m0 1v2m0 1v1m1-12v11m2-11v1m0 6v1m3 0v1m43-2v1m1 0v1m1-6v1m0 3v1m216-1v1m0 1v2m9-7v1m38-7v1m0 5v1m0 14v1m1-12v1m1-2v1m0 7v1m1-16v1m0 5v1m0 1v1m1 3v1m2-14v1m0 23v1m1-34v1m1 8v1m0 1v1m0 17v1m1-29v1m0 6v1m0 6v1m0 7v1m0 5v1m3-8v1m1-5v1m1-10v1m0 1v1m0 18v1m2-42v1m0 3v1m0 1v1m0 6v1m0 8v1m0 8v1m0 8v1m2-22v1m0 2v1m0 2v1m1-2v1m1-8v1m1-10v1m33 19v1m1-7v1m0 9v1m1-15v1m4-1v1m3-12v1m0 31v1m2-4v1m1-19v1m36-56v1m0 5v1m0 13v1m0 1v3m0 2v1m0 3v1m0 2v1m0 1v7m0 1v2m0 1v3m0 1v2m0 2v6m0 1v10m0 1v5m0 1v3m0 2v5m0 3v1m0 1v1m2-95v1m0 5v1m0 13v1m0 1v3m0 2v1m0 3v1m0 2v1m0 1v7m0 1v2m0 1v3m0 1v2m0 2v6m0 1v10m0 1v5m0 1v3m0 2v5m0 3v1m0 1v1m7-40v1m0 2v1m1-5v1m0 4v1m0 3v1m1 6v1m0 9v1m1-17v1m0 2v1m0 2v1m1-18v1m2 0v2m0 5v1m0 1v1m0 6v1m1 10v1m1-62v1m0 55v1m1-19v1"/>
<path stroke="#83b4d6" d="M103 235v1m0 3v1m0 3v1m0 2v3m0 1v2m1-10v1m0 5v1m1-10v6m0 4v1m0 1v1m1-8v1m0 1v1m1-9v1m0 2v2m0 3v1m2-11v5m0 2v1m0 1v4m0 3v1m2-15v1m0 1v1m1-8v1m0 1v2m0 11v2m0 1v1m2-13v1m0 1v1m0 1v1m0 1v4m3-11v1m0 7v2m0 1v1m1-8v1m1-11v1m1 9v1m1 1v1m4-15v1m2 7v1m1 6v1m32-10v1m0 4v2m0 3v1m1-7v1m0 1v3m0 1v2m0 1v1m1-18v1m0 5v2m0 1v3m0 1v2m0 2v1m0 6v1m2-17v1m1-2v1m0 2v1m0 3v1m4-8v1m0 4v1m1-6v1m0 1v1m0 3v1m1 1v1m1-4v1m1-6v1m0 3v1m0 5v1m2-12v5m0 1v2m0 1v2m1-7v1m0 11v1m1-14v1m0 2v2m1-4v1m2-16v1m0 12v1m0 1v2m0 1v1m0 2v1m0 3v1m2-12v2m1-5v1m0 4v2m188-13v1m0 4v1m0 7v1m0 2v1m2-8v2m0 1v1m0 6v1m2-14v1m0 3v1m0 1v1m0 1v2m1-14v1m0 9v3m1-6v1m0 4v1m1-12v2m0 1v6m0 1v1m0 2v2m1-5v1m2-5v1m1 1v1m1 1v1m2-8v1m0 1v1m0 6v1m1-9v2m0 5v1m1-8v1m0 5v1m1-8v1m0 1v1m0 1v1m0 1v1m0 2v1m2-5v1m1-8v1m0 2v1m0 3v1m0 2v1m0 1v1m0 4v1m1-19v1m0 1v5m33-65v1m0 36v1m0 5v2m0 1v1m0 3v2m0 1v5m0 1v2m0 1v2m0 1v4m0 1v3m0 1v3m0 1v1m0 3v2m0 2v2m0 1v1m0 5v1m0 8v1m1-71v1m0 1v1m0 7v1m0 6v3m0 1v4m0 1v7m0 4v1m0 1v1m0 1v1m0 1v1m0 3v1m1-49v1m0 13v1m0 5v1m0 1v2m0 1v2m0 1v3m0 1v1m0 2v2m0 1v2m0 1v1m0 10v1m0 5v1m1-104v1m0 50v3m0 4v1m0 2v1m0 1v1m0 2v1m0 4v1m0 1v1m0 1v2m0 4v3m0 1v1m0 5v2m0 3v1m0 9v1m0 2v1m1-53v1m0 7v2m0 5v6m0 1v2m0 5v1m0 1v2m0 6v1m0 2v1m0 8v1m1-77v1m0 6v1m0 13v1m0 3v2m0 1v3m0 1v2m0 1v2m0 1v5m0 1v1m0 1v1m0 1v2m1-65v1m0 17v1m0 4v1m0 9v1m0 6v1m0 1v1m0 1v1m0 1v1m0 1v2m0 1v1m0 1v1m0 2v5m0 1v1m0 1v4m0 2v1m0 9v1m1-49v1m0 5v1m0 4v1m0 5v1m0 2v1m0 2v1m0 2v1m0 1v2m0 2v2m0 2v1m0 20v1m0 11v1m0 5v1m0 3v1m1-81v1m0 7v1m0 1v1m0 2v1m0 5v2m0 5v1m0 2v4m0 1v3m0 9v1m0 1v3m0 10v1m0 10v1m1-86v1m0 18v1m0 2v1m0 3v1m0 2v3m0 2v1m0 1v1m0 4v1m0 1v1m0 1v5m0 1v3m0 5v1m0 1v1m0 3v1m1-53v1m0 3v1m0 1v1m0 7v1m0 9v1m0 6v1m0 5v1m0 1v2m0 3v2m0 3v1m1-28v2m0 2v1m0 4v1m0 3v1m0 1v3m0 2v1m0 3v1m0 1v1m1-38v1m0 4v1m0 1v1m0 2v3m0 1v3m0 1v1m0 3v3m0 2v1m0 1v1m0 5v1m1-34v1m0 1v3m0 4v1m0 1v1m0 1v1m0 3v2m0 3v1m0 4v1m0 2v1m0 5v1m1-86v1m0 20v1m0 5v1m0 6v1m0 1v2m0 8v2m0 1v1m0 1v1m0 6v1m0 5v5m0 1v2m0 3v1m0 3v1m0 3v1m0 1v1m2-56v1m0 7v1m0 7v2m0 1v1m0 1v1m0 2v4m0 2v1m0 1v4m0 6v1m0 1v1m0 15v1m1-53v1m0 5v1m0 2v2m0 3v2m0 1v2m0 1v5m0 4v2m0 1v3m0 3v5m0 1v1m0 2v1m0 7v1m0 20v1m0 3v1m1-107v1m0 12v1m0 3v1m0 10v1m0 2v1m0 1v1m0 2v8m0 1v1m0 2v1m0 1v1m0 2v3m0 1v1m0 2v2m0 1v1m0 2v2m0 32v1m1-110v1m0 36v2m0 4v1m0 2v3m0 1v1m0 1v3m0 1v2m0 1v1m0 1v2m0 4v1m0 8v1m0 1v1m1-44v2m0 1v1m0 3v1m0 2v2m0 3v2m0 3v1m0 1v2m0 2v2m0 4v2m0 4v3m0 6v1m0 5v1m1-61v1m0 1v1m0 1v1m0 5v1m0 1v1m0 2v1m0 5v1m0 1v2m0 2v3m0 2v2m0 1v1m0 3v1m0 1v6m0 7v1m31-60v1m0 6v1m2 22v2m0 10v1m0 1v2m0 9v1m0 2v1m1-50v1m0 11v1m0 2v1m0 4v1m0 2v2m0 4v2m0 2v1m0 6v1m0 14v1m0 13v1m0 11v1m1-81v1m0 15v2m0 2v1m0 2v1m0 5v1m1-49v1m0 30v1m0 1v1m0 1v1m0 4v1m0 1v1m0 3v2m0 2v2m0 1v2m0 12v1m1-33v1m0 5v1m0 8v2m0 1v1m0 2v1m0 5v1m0 1v1m0 14v1m0 3v1m0 16v1m0 3v1m1-106v1m0 17v1m0 4v1m0 4v1m0 2v1m0 1v1m0 3v1m0 1v2m0 2v3m0 3v1m0 2v1m0 8v2m0 7v1m0 8v1m1-107v1m0 29v1m0 33v2m0 1v1m0 7v2m0 4v2m0 1v1m0 3v1m0 1v1m0 7v1m0 5v1m1-54v1m0 2v1m0 6v2m0 6v1m0 14v1m0 1v3m0 2v1m0 2v1m0 5v1m0 31v1m1-78v1m0 2v1m0 9v2m0 3v1m0 2v1m0 2v1m0 1v1m0 2v1m0 2v2m0 1v1m0 4v2m0 2v1m0 17v1m1-96v1m0 38v3m0 1v1m0 2v3m0 2v1m0 1v1m0 8v2m1-36v1m0 6v1m0 4v1m0 6v1m0 9v1m0 1v1m0 5v1m0 1v1m1-51v1m0 12v1m0 7v1m0 3v1m0 2v1m0 2v1m0 1v1m0 1v1m0 2v1m0 1v2m0 2v1m0 6v1m0 10v1m0 35v1m1-83v1m0 4v1m0 1v1m0 8v1m0 4v1m0 2v1m0 1v2m0 1v1m0 2v1m0 4v1m0 4v1m0 1v1m1-65v1m0 23v1m0 10v1m0 5v1m0 1v1m0 1v1m0 3v1m0 3v1m0 9v1m0 28v1m1-75v1m0 6v1m0 2v1m0 4v1m0 2v1m0 10v1m0 3v1m0 24v1m3-52v1m0 11v1m1-2v1m35 9v1m0 13v1m1-18v1m1-65v1m0 44v1m0 3v1m0 19v1m1-44v1m0 6v2m0 2v1m0 8v3m0 1v3m0 4v1m0 1v1m0 1v1m0 1v2m0 2v1m0 2v1m0 1v1m0 1v1m0 1v1m0 1v3m0 1v1m1-53v1m0 4v1m0 1v2m0 9v4m0 3v1m0 3v6m0 1v1m0 5v1m0 1v1m0 1v2m0 1v1m0 2v1m0 3v1m1-47v2m0 3v2m0 2v3m0 2v1m0 2v1m0 1v3m0 4v1m0 1v1m0 2v3m0 7v1m0 3v1m1-67v1m0 14v1m0 2v1m0 1v2m0 2v1m0 2v1m0 1v3m0 3v1m0 1v1m0 1v1m0 2v3m0 2v1m0 1v1m0 1v2m0 1v2m0 7v1m0 5v2m0 1v1m0 5v1m1-81v1m0 12v1m0 13v2m0 1v1m0 2v2m0 3v1m0 1v2m0 1v2m0 3v1m0 1v2m0 2v4m0 1v1m0 1v1m0 2v1m0 2v1m0 3v1m1-39v1m0 8v1m0 3v2m0 2v3m0 1v1m0 1v1m0 1v1m0 2v1m0 1v1m0 1v1m0 15v1m0 3v1m1-84v1m0 18v1m0 3v1m0 2v1m0 1v1m0 1v1m0 3v1m0 1v1m0 4v2m0 2v1m0 3v1m0 6v1m0 7v1m1-62v1m0 12v1m0 1v1m0 2v1m0 3v3m0 1v1m0 2v2m0 2v1m0 1v3m0 1v1m0 2v5m0 1v4m0 2v1m0 1v4m0 12v1m0 5v1m0 8v1m0 7v1m1-64v1m0 4v1m0 2v3m0 10v1m0 3v1m0 7v1m0 33v1m0 23v1m1-110v2m0 3v2m0 1v1m0 2v1m0 1v2m0 1v1m0 2v5m0 3v1m0 1v1m0 2v2m0 1v1m0 5v1m0 2v1m0 3v1m1-49v1m0 4v1m0 3v1m0 1v5m0 1v2m0 4v1m0 2v1m0 1v1m0 4v2m0 4v3m0 5v1m0 3v1m0 31v1m1-78v1m0 1v1m0 2v1m0 2v9m0 3v1m0 2v3m0 2v1m0 1v1m0 1v2m3-45v1m0 22v1m1 14v1m1-22v1m0 12v1m1-6v1m0 6v1m0 13v1m1-2v1m0 7v1m0 1v1m0 4v1m0 15v1"/>
<path stroke="#7cafd3" d="M103 231v1m0 21v1m0 2v1m1-16v1m0 1v2m1-14v1m1 3v1m0 3v4m0 2v1m1-10v1m0 3v1m0 3v1m0 5v1m1-23v1m0 16v1m0 6v1m1-19v1m0 14v1m2-16v1m0 12v1m1-18v1m0 3v1m0 15v1m0 2v1m1-9v1m0 10v1m1-21v1m0 1v1m0 1v1m0 1v1m0 6v1m1-16v1m0 6v1m0 3v1m2-9v1m0 3v1m0 9v1m1-23v1m0 9v1m0 3v1m0 1v1m1-3v1m1-18v1m0 1v1m0 5v1m0 8v1m0 1v1m0 3v1m0 6v1m1-17v1m0 2v1m2-12v1m0 6v1m0 4v1m0 1v1m0 4v1m1-13v1m0 7v1m1-11v1m0 2v1m0 3v1m1-6v1m0 3v1m0 11v1m2-16v1m0 6v2m2-10v1m30-3v4m0 2v1m0 1v1m0 2v1m0 7v1m0 1v1m1-22v3m0 13v1m1-20v1m0 2v1m0 9v1m0 3v1m1-19v1m0 3v1m0 1v1m0 3v2m1-19v1m0 10v1m0 5v1m0 1v1m0 1v2m0 1v1m0 3v1m1-14v1m0 2v2m0 2v1m4-11v1m0 9v1m1-11v1m0 3v1m0 7v1m0 4v1m1-18v1m0 2v1m1-16v1m0 8v1m0 1v1m0 1v1m0 1v1m0 1v1m0 3v2m0 2v1m0 2v1m1-15v1m0 1v1m0 2v1m0 6v1m1 1v1m1-21v1m0 1v1m0 6v1m0 2v1m0 3v1m1-18v1m0 9v1m0 3v1m1-13v1m0 4v1m0 6v1m0 4v1m2-14v1m1-5v1m0 1v1m0 6v1m0 1v1m1-19v1m0 31v1m1-28v1m0 3v1m0 1v1m0 5v1m0 3v1m1-14v1m0 4v1m0 4v1m188-9v1m0 2v2m0 1v1m0 5v1m1-11v1m0 1v1m1-7v1m0 1v2m0 3v1m0 1v1m0 3v1m1-4v1m1-10v1m0 1v3m0 6v1m0 2v1m1-14v1m0 1v1m0 2v1m1-11v1m0 3v1m0 1v2m0 1v1m0 1v1m0 3v1m1-16v1m0 3v1m3-4v1m0 7v1m1-16v1m0 3v1m0 5v1m0 2v1m0 4v1m0 1v1m1-8v3m0 12v1m1-14v1m0 2v1m1-9v1m0 1v1m0 3v2m0 1v1m1-11v1m0 4v1m0 1v2m1-11v1m0 2v2m0 3v3m0 1v1m0 1v1m0 1v2m1-16v1m0 6v1m0 1v2m0 1v1m2-9v1m0 3v1m0 7v1m1-21v2m0 6v1m0 3v1m1-3v1m0 1v3m0 2v1m0 4v1m31 47v1m1-27v1m1-118v1m0 11v1m0 2v1m0 22v1m0 1v1m0 5v1m0 1v1m0 1v1m0 7v3m0 4v1m0 1v1m0 2v1m0 8v1m0 7v1m0 3v1m0 3v1m0 6v2m0 2v1m0 1v1m0 1v2m0 3v2m0 1v1m0 1v1m0 7v1m0 1v1m0 6v1m0 10v1m0 1v1m0 2v1m0 10v1m1-175v1m0 12v1m0 9v1m0 12v1m0 10v1m0 7v1m0 10v3m0 1v2m0 2v1m0 1v3m0 3v1m0 4v1m0 9v2m0 3v1m0 1v1m0 1v1m0 1v1m0 2v1m0 1v1m0 2v1m0 7v1m0 1v1m0 1v1m0 30v1m1-151v1m0 20v1m0 11v1m0 16v1m0 6v1m0 2v2m0 2v1m0 3v1m0 4v1m0 2v1m0 2v1m0 9v1m0 2v1m0 3v2m0 1v1m0 1v1m0 1v1m0 1v1m0 2v1m0 7v1m1-108v1m0 32v1m0 5v3m0 3v2m0 1v1m0 5v1m0 2v2m0 6v4m0 3v1m0 2v1m0 1v1m0 4v1m0 1v5m0 3v2m0 1v1m0 1v2m0 1v1m0 2v1m0 25v1m0 15v1m0 39v1m1-177v1m0 32v1m0 13v1m0 3v1m0 5v4m0 6v1m0 2v1m0 1v1m0 1v1m0 1v1m0 3v5m0 10v1m0 13v1m0 27v1m1-112v1m0 8v1m0 2v1m0 4v1m0 1v1m0 2v1m0 3v1m0 2v1m0 8v1m0 1v1m0 1v1m0 4v2m0 2v1m0 1v1m0 3v3m0 61v1m1-159v1m0 8v1m0 21v1m0 6v1m0 6v1m0 5v3m0 2v1m0 5v1m0 1v1m0 2v1m0 4v1m0 12v1m0 5v2m0 1v1m0 7v1m0 1v1m0 38v1m1-131v1m0 32v1m0 5v1m0 4v1m0 3v1m0 1v2m0 2v2m0 1v2m0 1v2m0 1v1m0 2v2m0 6v4m0 6v1m0 14v1m1-73v1m0 21v1m0 2v1m0 4v1m0 1v1m0 2v2m0 4v1m0 4v1m0 1v1m0 1v1m0 1v1m0 2v1m0 4v3m0 9v1m1-100v1m0 5v1m0 8v1m0 10v1m0 5v1m0 1v1m0 1v1m0 3v1m0 1v2m0 3v1m0 1v1m0 4v2m0 3v4m0 3v1m0 10v1m0 2v1m0 1v1m0 2v1m0 3v2m0 2v1m0 1v1m0 22v1m0 18v1m1-100v1m0 4v1m0 2v1m0 3v3m0 1v3m0 4v3m0 1v1m0 1v1m0 1v2m0 2v1m0 2v1m0 8v1m0 4v1m1-49v1m0 1v1m0 1v2m0 1v4m0 2v1m0 3v2m0 1v2m0 1v1m0 1v1m0 1v1m0 1v1m0 3v1m0 2v1m0 3v1m0 1v1m0 1v1m0 2v1m0 1v2m0 3v1m1-96v1m0 11v1m0 12v1m0 15v1m0 1v2m0 4v1m0 1v1m0 1v2m0 9v3m0 4v1m0 3v1m0 1v3m0 2v1m0 9v1m0 8v1m0 9v1m0 22v1m1-143v1m0 14v1m0 4v1m0 12v1m0 1v1m0 7v1m0 2v1m0 1v1m0 2v1m0 2v1m0 5v2m0 1v1m0 5v3m0 7v2m0 3v1m0 2v3m0 20v1m0 5v1m0 23v1m1-124v1m0 1v1m0 1v1m0 3v1m0 8v1m0 2v2m0 5v8m0 4v1m0 1v6m0 4v1m0 6v1m0 2v2m0 3v2m0 2v1m0 14v1m1-126v1m0 115v1m1-68v1m0 15v2m0 2v1m0 7v1m0 1v1m0 7v2m0 6v3m0 2v1m0 4v1m0 1v1m0 1v1m0 2v1m0 2v1m0 6v1m0 4v1m1-159v1m0 44v1m0 40v1m0 1v2m0 1v2m0 6v3m0 1v1m0 5v1m0 1v1m0 2v1m0 2v1m0 5v1m0 5v1m0 3v2m0 6v1m0 1v1m0 2v3m0 1v1m0 4v1m0 4v1m0 15v1m1-150v2m0 25v1m0 15v1m0 3v1m0 17v1m0 3v1m0 2v1m0 1v1m0 2v1m0 1v2m0 8v1m0 2v1m0 3v1m0 6v2m0 2v1m0 2v1m0 2v1m0 1v3m0 1v1m0 3v1m0 11v1m0 49v1m1-188v1m0 52v1m0 8v2m0 9v2m0 3v1m0 4v1m0 3v1m0 8v1m0 7v1m0 2v1m0 1v1m0 2v1m0 5v2m0 1v1m0 8v1m0 5v1m0 1v1m1-108v1m0 1v1m0 5v1m0 8v1m0 2v3m0 2v1m0 2v2m0 2v2m0 2v2m0 1v1m0 4v1m0 1v2m0 2v2m0 2v2m0 5v1m0 4v1m0 3v2m0 6v1m0 5v1m0 1v2m0 3v2m0 29v1m0 12v1m1-117v1m0 11v1m0 9v2m0 1v1m0 3v1m0 4v1m0 1v1m0 1v1m0 3v1m0 3v1m0 3v1m0 1v2m0 11v1m0 1v1m0 3v1m0 57v1m28-124v1m0 15v1m0 30v1m0 8v1m0 13v1m1-72v1m0 7v1m0 2v1m0 3v1m0 8v1m0 17v1m0 10v1m0 15v1m1-75v1m0 64v1m0 2v1m0 1v1m0 10v1m0 2v1m1-76v1m0 27v1m0 5v1m0 4v1m0 42v1m0 16v1m0 13v1m1-50v1m1-64v1m0 4v1m0 8v5m0 3v1m0 3v1m0 1v1m0 1v1m0 2v1m0 3v2m0 1v2m0 5v1m0 1v1m0 16v2m0 6v1m0 2v1m1-106v1m0 1v1m0 4v1m0 17v1m0 1v1m0 6v1m0 1v1m0 3v1m0 4v1m0 1v2m0 2v1m0 7v1m0 5v1m0 3v1m0 5v1m0 1v1m0 1v6m0 5v1m0 5v1m0 19v1m0 10v1m0 1v1m1-148v1m0 80v1m0 1v1m0 5v2m0 2v1m0 1v1m0 1v1m0 5v3m0 3v1m0 1v1m0 9v1m0 16v1m0 12v1m1-121v1m0 12v1m0 6v1m0 1v1m0 2v1m0 7v1m0 1v3m0 1v1m0 1v1m0 1v1m0 1v1m0 4v1m0 4v2m0 2v1m0 2v1m0 6v1m0 1v1m0 6v2m1-103v1m0 48v1m0 4v2m0 3v3m0 4v2m0 4v1m0 1v2m0 1v1m0 1v1m0 4v1m0 2v2m0 4v1m0 1v1m0 3v3m0 1v4m0 4v1m0 3v1m0 3v1m1-96v1m0 14v1m0 1v1m0 2v1m0 5v2m0 2v1m0 1v1m0 2v1m0 3v3m0 10v2m0 2v1m0 2v3m0 1v2m0 3v5m0 1v1m0 1v1m0 8v1m0 3v1m0 7v1m0 21v1m0 9v1m1-147v1m0 30v1m0 11v1m0 1v1m0 2v1m0 5v1m0 1v1m0 1v1m0 2v1m0 2v1m0 1v1m0 2v1m0 4v2m0 4v1m0 1v1m0 4v1m0 3v1m0 8v1m0 6v1m0 36v1m1-113v1m0 22v1m0 3v2m0 4v2m0 1v2m0 1v3m0 1v3m0 2v1m0 4v1m0 2v1m0 2v2m0 28v1m1-102v1m0 14v1m0 2v1m0 1v1m0 1v1m0 1v1m0 4v1m0 4v1m0 4v1m0 6v2m0 1v1m0 2v2m0 1v1m0 1v1m0 2v1m0 8v1m0 2v1m0 3v1m0 2v1m0 1v2m0 1v1m0 26v1m1-138v1m0 14v1m0 18v1m0 1v1m0 5v1m0 1v1m0 4v1m0 3v1m0 3v1m0 2v2m0 5v1m0 4v1m0 2v1m0 1v2m0 1v1m0 1v3m0 3v2m0 1v3m0 5v1m0 2v1m0 5v1m0 2v1m0 2v1m0 21v1m0 3v1m1-152v1m0 4v1m0 4v1m0 9v1m0 37v1m0 9v1m0 2v2m0 3v1m0 1v2m0 3v1m0 2v1m0 1v1m0 6v3m0 4v3m0 3v2m0 8v1m0 3v1m0 7v1m0 5v1m1-111v1m0 18v1m0 20v1m0 1v3m0 3v1m0 3v1m0 11v1m0 2v1m0 5v3m0 1v1m0 1v1m0 1v2m0 6v1m0 2v1m0 1v1m0 5v1m0 7v1m1-134v1m0 55v1m0 5v1m0 5v1m0 5v1m0 1v3m0 1v1m0 2v2m0 3v1m0 7v1m0 3v2m0 4v2m0 5v1m0 10v1m0 14v1m0 2v1m0 6v1m1-101v1m0 3v1m0 6v1m0 1v1m0 2v1m0 1v2m0 4v4m0 1v1m0 4v2m0 1v1m0 3v1m0 3v1m0 1v3m0 2v5m0 4v2m0 5v1m0 4v1m0 32v1m1-147v1m0 8v1m0 27v1m0 11v1m0 8v1m0 1v1m0 3v1m0 3v2m0 1v2m0 3v1m0 1v1m0 2v1m0 3v1m0 1v1m0 2v2m0 1v1m0 1v1m0 3v1m0 2v1m0 1v3m1-29v1m0 18v1m0 29v1m1-39v1m1-37v1m1-22v1m0 4v1m0 33v1m0 8v1m0 2v1m1-17v1m0 2v1m0 23v1m0 2v1m1-49v1m0 25v1m29-125v1m0 1v1m0 17v1m0 42v1m0 30v1m4-5v1m0 30v1m0 14v1m0 24v1m0 3v1m0 23v1m0 10v1m1-131v1m0 24v1m0 19v1m0 1v1m0 5v1m0 7v1m0 11v1m0 19v1m0 12v1m1-121v1m0 48v1m0 6v2m0 5v1m0 10v1m0 19v1m0 4v1m0 9v1m1-98v1m0 6v1m0 10v1m0 2v1m0 3v1m0 2v1m0 3v1m0 3v7m0 7v2m0 1v1m0 5v1m0 2v2m0 4v1m0 5v1m0 6v1m0 5v1m0 1v1m0 2v1m0 5v2m0 10v1m0 8v1m1-110v1m0 10v1m0 1v1m0 7v1m0 9v1m0 7v2m0 2v1m0 8v1m0 1v1m0 1v1m0 5v1m0 2v1m0 5v1m0 2v1m0 2v1m0 5v1m0 3v1m0 10v1m1-94v1m0 9v1m0 2v1m0 1v4m0 1v2m0 7v2m0 3v1m0 2v1m0 7v3m0 1v1m0 1v2m0 3v1m0 1v2m0 2v1m0 1v1m0 1v1m0 3v4m0 2v1m0 2v1m1-92v1m0 20v1m0 4v1m0 2v1m0 6v1m0 1v2m0 5v3m0 3v1m0 1v2m0 3v2m0 1v1m0 4v1m0 2v1m0 1v1m0 3v1m0 1v1m0 1v2m0 3v1m0 1v1m0 2v1m0 5v1m0 5v1m1-113v1m0 18v1m0 12v1m0 8v3m0 1v1m0 8v1m0 4v1m0 4v1m0 2v1m0 1v1m0 5v1m0 6v1m0 1v2m0 1v2m0 1v1m0 3v1m0 4v1m0 4v1m0 2v1m0 5v1m0 16v1m1-88v1m0 2v1m0 1v1m0 1v2m0 1v1m0 5v3m0 1v1m0 2v2m0 3v1m0 5v1m0 1v1m0 1v2m0 1v1m0 4v2m0 1v1m0 5v1m0 1v1m0 15v1m0 40v1m0 5v1m0 2v1m0 4v1m1-153v1m0 12v1m0 1v4m0 13v1m0 3v1m0 3v1m0 1v2m0 1v1m0 5v3m0 1v3m0 1v1m0 2v1m0 1v1m0 2v1m0 2v3m0 2v1m0 1v3m0 1v2m0 2v1m0 10v1m0 24v1m0 4v1m1-159v1m0 23v1m0 13v2m0 5v2m0 2v1m0 1v2m0 1v1m0 4v3m0 5v2m0 5v1m0 6v1m0 10v2m0 1v1m0 6v1m0 1v1m0 1v3m0 1v1m0 3v1m0 14v1m0 28v1m0 14v1m0 28v1m1-157v1m0 9v1m0 5v2m0 6v1m0 4v1m0 2v2m0 3v2m0 1v1m0 1v4m0 2v2m0 3v3m0 4v1m0 1v1m0 9v2m0 3v1m0 8v1m1-103v1m0 10v1m0 2v1m0 6v1m0 4v1m0 1v1m0 4v2m0 1v1m0 4v2m0 5v3m0 3v2m0 2v1m0 1v3m0 3v2m0 1v1m0 9v1m1-83v1m0 13v1m0 9v2m0 5v1m0 2v1m0 2v1m0 5v1m0 2v1m0 4v2m0 1v1m0 1v3m0 3v1m0 7v3m0 7v2m0 9v1m0 2v1m1-82v1m0 4v1m0 1v1m0 2v1m0 3v3m0 1v1m0 5v1m0 2v1m0 9v3m0 1v2m0 3v2m0 3v1m0 3v1m0 1v1m0 13v1m0 19v1m1 5v1m1-69v1m0 6v1m0 10v1m0 6v1m0 4v1m1-65v1m0 43v1m1-51v1m0 47v1m0 7v1m0 29v1m0 5v1m0 4v1m1-112v1m0 5v1m0 1v2m0 14v1m0 55v1m0 38v1m0 1v1m0 11v1m0 20v1m1-112v1m0 24v1m0 1v1m0 19v1m0 1v1m0 30v1m0 12v1m1-136v1m0 19v1m0 6v1m0 16v1m0 3v1m0 9v1m0 18v1m0 22v1m1 35v1"/>
<path stroke="#75abd1" d="M103 258v1m1-34v1m0 10v1m0 1v2m0 6v2m1-12v2m0 8v3m0 4v1m1-29v1m0 22v1m1-12v1m0 5v1m0 8v1m1-24v1m0 4v1m0 4v6m0 14v1m1-25v1m0 14v1m0 2v1m0 24v1m2-50v2m0 5v1m0 7v1m1-19v1m0 1v1m0 2v2m0 31v2m0 7v1m0 10v1m1-67v1m0 25v1m0 13v1m0 7v1m0 9v1m1-51v1m0 8v1m1-7v1m0 6v1m0 5v1m0 1v1m0 6v1m0 1v1m1-2v1m0 1v1m1-28v1m1 24v1m0 3v1m0 14v1m1-57v1m0 8v1m0 16v1m0 17v1m1-20v1m0 3v1m0 1v1m0 8v1m0 10v1m0 6v1m0 3v1m1-76v1m0 2v1m0 32v1m0 2v1m0 17v1m0 2v1m1-117v1m0 54v1m0 4v1m0 13v2m0 10v1m0 17v1m0 14v1m0 13v1m1-68v1m0 14v1m0 6v1m0 3v1m0 1v1m0 1v1m0 11v1m0 1v2m0 23v1m1-68v1m0 21v1m0 1v1m0 4v1m0 1v1m1-27v1m0 2v1m0 19v1m0 3v1m0 1v1m0 2v1m0 8v1m0 1v1m0 2v1m0 11v1m1-83v1m0 14v1m0 5v1m0 2v1m0 20v2m0 7v1m1-75v1m0 9v1m0 12v1m0 9v1m0 4v1m0 1v1m0 11v1m0 7v1m0 6v1m0 3v1m0 1v1m0 14v1m1-87v1m0 36v1m0 23v1m0 3v1m0 1v1m0 40v1m1-82v1m0 20v1m0 22v1m0 3v1m31-22v2m0 1v2m0 11v1m0 1v1m1-27v1m0 4v1m0 4v4m0 4v1m0 6v1m0 5v1m1-42v1m0 14v1m0 2v1m0 3v2m0 11v1m0 4v1m0 6v1m0 4v1m0 4v1m0 6v1m0 2v1m1-46v1m0 4v1m0 5v1m0 2v1m0 17v1m0 6v1m1-44v1m0 12v1m0 1v1m0 9v1m0 8v1m0 15v1m1-95v1m0 18v1m0 27v1m0 1v1m0 1v1m0 8v1m0 13v1m1-15v1m3-23v1m0 4v1m0 1v1m0 14v1m0 1v1m1-13v1m0 2v1m0 3v1m0 1v1m0 1v1m0 9v1m0 4v2m1-64v1m0 31v1m0 2v1m0 2v1m0 12v1m1-24v1m0 8v1m0 1v1m0 5v1m1-26v1m0 15v1m0 3v1m0 5v2m0 10v1m0 20v1m1-57v1m0 21v1m0 10v1m0 8v1m1-30v1m0 13v1m1-15v2m0 2v1m0 3v1m0 3v1m0 7v1m0 2v1m1-63v1m0 23v1m0 7v1m0 5v2m0 1v1m0 3v1m0 2v1m0 3v1m1-45v1m0 31v1m0 7v1m0 2v1m1-23v1m1 2v1m0 3v1m0 3v1m1-48v1m0 6v1m0 27v1m0 9v1m0 7v2m0 5v1m0 11v1m0 11v2m0 5v1m0 1v1m0 6v1m1-95v1m0 8v1m0 5v1m0 4v1m0 10v2m0 8v1m0 1v1m0 2v1m0 2v1m0 1v1m0 9v1m0 32v1m1-52v1m0 1v1m0 2v1m0 1v1m0 10v1m102-69v1m0 1v1m0 5v1m86 27v2m0 15v1m0 5v1m0 1v1m0 4v1m2-10v1m0 4v1m1-10v1m1-12v1m0 22v1m1-28v1m0 18v1m0 1v1m0 7v1m1-23v2m0 1v1m0 6v1m0 1v1m0 1v2m0 1v1m0 6v1m1-10v1m0 2v1m1 6v1m1-16v1m0 8v1m0 15v1m1-44v1m0 2v1m0 13v1m0 1v1m0 3v1m1-13v2m0 1v2m0 1v1m0 1v1m0 3v1m1-8v1m0 4v2m0 7v1m0 6v1m1-29v1m0 1v1m0 2v1m0 5v2m0 2v1m1-11v1m0 7v1m0 3v1m1-17v2m0 3v1m0 2v1m0 2v1m0 3v1m0 5v1m1-24v2m0 3v1m1-18v1m0 3v1m0 21v1m0 9v1m1-19v1m1-11v1m0 6v1m0 9v1m0 1v2m1-22v1m0 3v1m0 3v1m0 3v1m0 2v1m0 4v1m0 9v1m1-32v1m0 13v1m0 3v2m1-5v1m0 13v1m30 32v1m1-15v1m1-131v2m0 1v1m0 10v1m0 5v2m0 17v1m0 7v1m0 7v2m0 7v3m0 8v1m0 2v1m0 31v2m0 12v1m0 4v1m0 5v1m0 2v2m0 7v1m0 3v1m0 16v1m0 5v1m0 5v1m0 12v1m0 8v1m1-263v1m0 9v1m0 30v2m0 1v1m0 1v1m0 2v1m0 7v1m0 6v2m0 23v1m0 25v1m0 3v2m0 6v1m0 29v1m0 4v1m0 14v1m0 20v1m0 13v1m0 45v1m0 4v2m0 55v1m1-271v1m0 26v1m0 4v1m0 2v1m0 3v1m0 6v1m0 6v1m0 6v1m0 7v1m0 6v1m0 1v1m0 1v2m0 2v1m0 4v1m0 2v2m0 23v1m0 2v1m0 1v1m0 1v1m0 3v1m0 2v1m0 1v1m0 1v2m0 5v1m0 2v1m0 1v1m0 30v1m1-209v1m0 7v1m0 14v1m0 5v1m0 4v1m0 8v1m0 19v1m0 9v1m0 9v1m0 20v2m0 2v1m0 4v2m0 1v1m0 4v1m0 1v1m0 28v1m0 4v1m0 2v1m0 1v1m0 6v1m0 1v2m0 1v1m0 17v1m0 19v1m0 5v1m0 3v1m0 8v1m0 2v1m1-185v1m0 15v1m0 24v1m0 12v1m0 1v2m0 1v2m0 3v2m0 3v1m0 2v1m0 3v1m0 14v1m0 7v1m0 6v2m0 1v2m0 1v1m0 1v1m0 4v1m0 3v1m0 2v2m0 9v1m0 7v1m0 2v1m0 6v1m0 10v1m0 1v1m0 73v1m1-252v1m0 3v1m0 13v1m0 11v1m0 10v1m0 1v1m0 18v1m0 2v2m0 42v3m0 4v2m0 2v1m0 6v1m0 1v2m0 23v1m0 18v1m0 14v1m0 23v1m1-259v1m0 42v2m0 3v1m0 17v2m0 11v1m0 6v1m0 1v1m0 8v1m0 3v1m0 6v1m0 2v1m0 6v1m0 3v1m0 1v1m0 19v1m0 5v1m0 1v1m0 1v1m0 2v1m0 5v1m0 3v1m0 3v1m0 2v1m0 14v1m0 26v1m0 7v1m0 3v1m0 39v1m1-183v2m0 6v1m0 12v1m0 4v1m0 9v1m0 24v1m0 2v1m0 5v1m0 2v1m0 14v1m0 10v1m0 9v1m0 8v1m1-155v1m0 8v1m0 30v1m0 2v1m0 7v1m0 5v1m0 1v3m0 3v1m0 2v2m0 1v1m0 1v2m0 2v1m0 5v1m0 15v1m0 3v1m0 3v1m0 9v1m0 3v1m0 3v1m0 2v1m0 1v1m0 12v1m0 5v1m0 23v1m0 27v1m1-212v1m0 1v1m0 20v2m0 7v1m0 16v1m0 11v2m0 7v1m0 11v2m0 29v1m0 7v1m0 1v1m0 16v1m0 20v1m0 16v1m0 17v1m1-176v1m0 31v1m0 6v1m0 1v1m0 1v1m0 1v1m0 1v1m0 1v1m0 2v1m0 7v2m0 1v1m0 9v2m0 1v1m0 10v1m0 5v2m0 2v1m0 10v1m0 26v1m0 19v1m0 28v1m1-193v1m0 8v1m0 41v1m0 3v1m0 3v1m0 4v1m0 12v2m0 1v1m0 7v1m0 14v2m0 6v1m0 6v1m0 6v1m0 18v1m0 2v1m0 2v1m0 16v1m0 13v1m0 13v1m1-180v1m0 4v1m0 26v1m0 9v1m0 13v2m0 9v1m0 3v1m0 10v1m0 9v5m0 1v2m0 5v1m0 8v1m0 20v1m0 18v1m0 1v1m0 1v1m1-225v1m0 40v1m0 15v1m0 1v1m0 30v1m0 13v5m0 3v1m0 1v1m0 1v2m0 5v1m0 5v1m0 2v1m0 1v1m0 8v1m0 1v1m0 2v1m0 4v1m0 6v1m0 1v1m0 1v1m0 3v1m0 1v3m0 8v1m0 4v1m0 62v1m1-263v1m0 53v1m0 1v1m0 3v1m0 13v1m0 8v2m0 2v1m0 3v1m0 11v1m0 11v1m0 3v1m0 14v1m0 14v1m0 10v1m0 1v1m0 5v1m0 17v3m0 20v1m0 15v1m0 29v1m1-194v1m0 33v1m0 22v1m0 29v1m0 11v1m0 30v1m0 31v1m1-157v1m0 6v1m0 6v1m0 13v1m0 5v2m0 1v1m0 6v1m0 1v1m0 3v1m0 9v1m0 1v1m0 8v1m0 15v1m0 5v1m0 5v1m0 3v1m0 1v1m0 1v1m0 1v1m0 7v2m0 49v1m0 3v1m1-201v1m0 48v1m0 20v2m0 7v1m0 2v2m0 8v1m0 3v1m0 13v3m0 24v2m0 1v1m0 3v1m0 4v1m0 8v1m0 2v1m0 20v1m0 1v1m0 6v1m0 17v1m1-201v1m0 38v1m0 16v2m0 2v1m0 2v3m0 4v2m0 2v1m0 30v1m0 12v1m0 5v2m0 3v2m0 5v2m0 8v1m0 1v1m0 8v1m0 8v1m0 6v1m0 3v1m0 1v1m0 1v1m0 2v1m1-218v1m0 3v1m0 1v1m0 11v1m0 30v1m0 42v1m0 6v1m0 2v4m0 9v1m0 25v1m0 1v1m0 1v2m0 1v1m0 3v1m0 5v3m0 2v1m0 3v2m0 11v1m0 7v1m0 49v1m1-197v1m0 19v1m0 8v1m0 5v1m0 6v1m0 7v2m0 6v2m0 2v1m0 9v1m0 7v1m0 2v1m0 3v1m0 3v1m0 4v2m0 2v2m0 1v1m0 5v1m0 2v1m0 1v1m0 6v1m0 3v1m0 1v1m0 5v1m0 6v1m0 17v1m0 5v1m0 1v1m0 29v1m0 31v1m1-282v1m0 1v1m0 4v1m0 20v1m0 31v1m0 26v1m0 11v1m0 11v1m0 3v1m0 1v1m0 11v1m0 1v1m0 5v1m0 5v1m0 6v1m0 8v1m0 2v1m0 2v1m0 2v4m0 2v1m0 1v1m0 1v1m0 5v1m0 3v1m0 12v1m0 2v1m0 28v1m0 9v1m1-203v1m0 16v1m0 101v1m0 41v1m0 13v1m0 1v1m27-121v1m0 9v1m0 15v1m0 3v1m0 3v2m0 23v1m0 15v4m0 3v1m0 7v1m1-106v1m0 5v1m0 4v1m0 5v1m0 6v1m0 15v1m0 35v1m0 5v1m0 12v1m0 7v1m0 21v1m0 5v2m1-126v1m0 8v1m0 8v1m0 24v1m0 13v1m0 8v1m0 14v1m0 11v1m0 4v1m0 1v1m0 2v1m0 11v1m0 31v1m1-189v1m0 9v1m0 17v1m0 14v1m0 6v1m0 46v1m0 6v1m0 1v1m0 12v1m0 4v1m0 27v1m1-136v1m0 57v1m0 14v1m0 4v1m0 39v1m0 1v1m0 14v1m1-115v1m0 5v1m0 5v2m0 1v1m0 7v1m0 3v1m0 3v1m0 22v2m0 7v1m0 9v1m0 3v1m0 2v1m0 7v1m0 22v1m0 7v1m1-184v1m0 9v1m0 5v1m0 9v1m0 23v1m0 3v1m0 30v1m0 10v1m0 2v1m0 1v1m0 2v1m0 4v2m0 1v1m0 5v1m0 6v1m0 1v1m0 3v1m0 8v1m0 2v2m0 2v1m0 1v1m0 7v1m0 1v1m0 8v1m0 3v1m0 17v1m0 14v1m0 4v1m1-202v1m0 38v1m0 30v1m0 3v1m0 7v2m0 2v1m0 1v1m0 3v2m0 2v1m0 1v1m0 1v1m0 6v1m0 4v1m0 2v2m0 2v2m0 1v1m0 1v1m0 1v1m0 8v1m0 12v1m0 3v1m0 11v1m0 8v1m0 11v1m0 7v1m0 1v1m0 4v1m0 1v1m1-134v1m0 5v1m0 7v1m0 4v4m0 11v1m0 1v1m0 1v1m0 3v1m0 12v1m0 2v1m0 4v1m0 2v1m0 3v1m0 1v1m0 2v1m0 1v1m0 4v1m0 13v1m0 20v1m0 12v1m0 10v1m0 5v1m1-223v1m0 25v1m0 1v1m0 5v1m0 14v1m0 1v1m0 1v1m0 19v1m0 8v1m0 5v1m0 1v1m0 2v1m0 4v3m0 3v1m0 1v1m0 3v3m0 7v1m0 3v1m0 2v1m0 3v3m0 5v2m0 9v1m0 8v1m0 2v1m0 28v1m0 9v1m0 8v1m0 2v1m0 5v1m1-239v1m0 36v1m0 1v1m0 6v1m0 8v1m0 4v1m0 20v1m0 5v1m0 7v1m0 5v1m0 2v1m0 11v1m0 2v1m0 11v1m0 4v1m0 3v1m0 9v1m0 11v2m0 2v1m0 1v1m0 2v1m0 73v1m0 15v1m0 14v1m1-291v1m0 16v1m0 25v1m0 3v1m0 6v1m0 10v1m0 1v1m0 21v1m0 5v1m0 3v1m0 3v1m0 1v1m0 2v2m0 4v4m0 1v1m0 9v1m0 2v4m0 3v1m0 7v1m0 1v2m0 3v1m0 8v1m0 8v1m0 3v1m0 15v1m0 2v1m0 2v1m0 17v1m0 4v1m0 6v1m0 2v1m0 2v1m0 11v1m1-207v1m0 7v1m0 27v1m0 34v1m0 6v2m0 4v2m0 1v1m0 5v1m0 1v2m0 3v1m0 2v3m0 3v1m0 2v1m0 3v1m0 9v1m0 2v1m0 5v1m0 3v1m0 13v1m0 5v1m1-132v1m0 15v1m0 10v1m0 9v1m0 4v1m0 16v4m0 2v2m0 3v3m0 2v2m0 2v1m0 15v1m0 4v2m0 10v1m0 1v1m0 2v1m0 2v1m0 15v1m0 11v1m0 20v1m0 16v1m1-184v1m0 11v2m0 2v1m0 15v1m0 12v1m0 6v1m0 2v1m0 3v3m0 2v1m0 5v1m0 2v1m0 4v1m0 5v1m0 1v1m0 14v2m0 3v1m0 3v1m0 1v1m0 2v1m0 2v1m0 11v1m0 4v1m0 11v1m0 2v1m0 18v1m1-236v1m0 40v1m0 10v1m0 5v1m0 48v1m0 6v1m0 1v1m0 3v2m0 1v1m0 1v1m0 7v1m0 1v1m0 9v1m0 1v1m0 2v1m0 3v1m0 5v1m0 4v1m0 5v1m0 2v2m0 13v1m0 4v1m0 32v1m0 2v1m0 8v1m0 20v1m1-196v1m0 9v1m0 12v2m0 2v1m0 2v1m0 5v1m0 10v1m0 2v1m0 3v1m0 3v1m0 3v1m0 3v1m0 1v1m0 1v1m0 1v1m0 2v2m0 1v1m0 10v1m0 1v1m0 13v1m0 5v2m0 10v1m0 2v1m0 3v1m0 1v1m0 1v1m0 13v1m0 10v1m1-144v1m0 11v1m0 19v1m0 4v1m0 2v1m0 2v3m0 4v1m0 15v1m0 2v1m0 1v1m0 2v1m0 2v1m0 4v1m0 9v1m0 1v1m0 3v1m0 2v2m0 3v1m0 4v1m0 36v1m0 2v1m0 8v1m1-183v1m0 20v1m0 15v1m0 7v1m0 10v1m0 17v1m0 4v1m0 2v1m0 7v1m0 3v1m0 13v2m0 11v2m0 2v1m0 1v1m0 2v1m0 11v1m0 2v1m0 13v1m0 12v1m0 15v1m0 3v1m1-198v1m0 16v1m0 9v1m0 2v1m0 11v1m0 1v1m0 6v1m0 12v1m0 2v1m0 2v1m0 4v1m0 3v1m0 2v2m0 6v1m0 2v1m0 1v1m0 2v2m0 2v1m0 5v1m0 1v1m0 1v1m0 1v1m0 1v1m0 6v1m0 1v4m0 9v1m0 4v1m0 10v1m0 1v1m0 29v1m0 3v1m0 7v1m0 2v1m0 7v1m0 7v1m1-224v1m0 6v1m0 24v1m0 36v1m0 1v1m0 24v1m0 25v1m0 34v1m0 1v1m0 40v1m0 29v1m1-220v1m0 22v1m0 14v1m0 14v1m0 44v1m0 23v1m0 56v1m1-115v1m0 25v1m0 4v1m0 26v1m0 17v1m0 3v1m0 7v1m0 1v1m0 3v1m1-138v1m0 5v1m0 7v1m0 2v1m0 21v1m0 9v1m0 7v1m0 10v1m0 45v1m0 5v1m0 10v1m0 4v1m1-180v1m0 39v1m0 38v1m0 15v1m0 10v1m0 29v1m0 5v1m0 1v1m0 8v1m0 7v1m0 3v1m1-109v1m0 2v1m0 16v1m0 36v1m0 32v1m0 37v1m1-97v1m0 9v1m0 27v1m0 7v1m0 6v1m1-95v1m0 58v1m0 2v1m0 9v1m0 8v1m0 1v1m0 35v1m0 8v1m27-212v1m0 54v1m0 184v1m4-194v1m0 3v1m0 9v1m0 13v1m0 3v1m0 4v1m0 5v1m0 1v1m0 3v2m0 5v1m0 39v1m0 53v2m0 12v1m0 4v1m1-168v1m0 6v1m0 11v1m0 4v2m0 9v1m0 13v1m0 17v1m0 3v1m0 4v1m0 10v2m0 6v1m0 12v2m0 13v1m0 7v1m0 6v1m0 1v1m0 6v1m0 3v1m0 11v1m1-177v1m0 18v1m0 1v2m0 6v1m0 1v1m0 4v1m0 18v1m0 34v1m0 15v1m0 16v1m0 1v1m1-121v1m0 10v1m0 18v1m0 6v1m0 20v1m0 3v1m0 2v1m0 1v1m0 23v1m0 8v1m0 14v1m0 1v1m0 7v1m0 1v1m0 1v1m0 3v1m0 4v1m0 2v1m0 3v1m0 5v1m0 10v1m0 6v2m1-157v1m0 6v1m0 12v2m0 11v1m0 14v1m0 6v1m0 11v1m0 1v1m0 1v1m0 24v1m0 1v2m0 1v1m0 6v2m0 1v1m0 4v1m0 2v2m0 1v1m0 3v1m0 9v1m0 35v1m1-174v1m0 16v1m0 16v1m0 1v1m0 15v1m0 8v1m0 9v3m0 11v1m0 18v1m0 2v2m0 3v1m0 2v2m0 10v1m0 1v1m0 1v1m0 10v1m0 3v2m0 4v1m0 2v1m0 10v1m0 5v1m1-170v1m0 2v1m0 4v1m0 8v1m0 9v1m0 13v2m0 7v1m0 1v1m0 1v2m0 8v1m0 2v1m0 5v1m0 7v1m0 20v1m0 1v1m0 1v1m0 3v1m0 2v1m0 5v1m0 2v1m0 12v1m0 10v1m0 4v1m0 5v1m0 2v1m0 3v1m0 6v1m0 32v1m1-239v1m0 8v1m0 6v1m0 10v1m0 5v1m0 4v1m0 5v1m0 8v1m0 7v1m0 21v1m0 7v1m0 1v3m0 3v1m0 1v3m0 2v1m0 1v1m0 4v1m0 2v1m0 34v2m0 4v1m0 2v1m0 2v2m0 1v1m0 3v2m0 14v1m0 2v1m0 3v2m0 6v1m0 3v1m0 1v1m0 9v1m0 1v1m0 1v1m0 1v1m0 38v2m1-263v1m0 11v1m0 4v1m0 11v1m0 3v1m0 3v1m0 6v1m0 5v1m0 2v1m0 31v1m0 15v1m0 8v1m0 5v1m0 2v1m0 9v1m0 15v1m0 2v2m0 14v1m0 21v2m0 13v1m0 25v2m0 5v1m0 5v1m0 7v1m0 7v1m0 3v1m0 3v1m0 12v1m1-248v1m0 15v1m0 1v1m0 9v1m0 3v1m0 5v1m0 2v1m0 8v1m0 1v1m0 2v1m0 7v1m0 5v1m0 3v1m0 3v1m0 2v2m0 10v1m0 8v1m0 1v1m0 2v1m0 2v1m0 1v1m0 4v1m0 14v1m0 10v1m0 16v1m0 18v2m0 5v1m0 5v1m0 33v1m1-260v1m0 18v1m0 26v2m0 29v1m0 2v2m0 5v2m0 6v1m0 5v2m0 7v1m0 34v1m0 10v1m0 3v1m0 17v1m0 6v1m0 24v1m0 12v1m1-243v1m0 23v1m0 50v1m0 1v1m0 11v1m0 1v1m0 17v1m0 11v4m0 4v1m0 2v1m0 5v1m0 1v1m0 10v1m0 4v1m0 3v1m0 6v1m0 6v1m0 2v1m0 7v1m0 12v1m0 24v1m0 8v1m0 21v1m0 15v1m0 3v1m0 35v1m1-281v1m0 55v1m0 1v1m0 17v2m0 4v2m0 3v1m0 28v1m0 18v1m0 1v1m0 1v1m0 7v2m0 1v1m0 9v1m0 4v1m0 4v1m0 3v1m0 47v1m0 8v1m0 21v1m1-229v1m0 18v1m0 32v2m0 1v5m0 2v1m0 2v2m0 16v1m0 1v1m0 9v1m0 3v3m0 3v1m0 3v1m0 1v2m0 6v2m0 4v1m0 7v1m0 1v1m0 5v1m1-145v1m0 30v1m0 3v1m0 3v1m0 11v1m0 11v2m0 6v1m0 3v1m0 2v1m0 27v1m0 3v1m0 1v1m0 1v2m0 5v1m0 5v1m0 2v1m0 22v1m0 5v1m0 15v1m0 8v1m1-172v1m0 24v1m0 22v1m0 16v1m0 2v1m0 17v1m0 75v1m1-189v1m0 5v1m0 17v1m0 9v2m0 6v1m0 12v1m0 6v1m0 10v1m0 28v1m0 3v1m0 7v1m0 25v1m0 1v1m0 18v1m0 11v1m0 32v1m0 30v1m1-261v1m0 38v1m0 11v1m0 9v1m0 2v1m0 5v1m0 43v1m0 1v1m0 23v1m0 1v1m0 1v1m0 5v1m0 26v1m0 1v1m0 11v1m0 11v1m0 8v1m0 18v1m1-223v1m0 35v1m0 6v1m0 3v1m0 7v1m0 20v1m0 21v1m0 3v1m0 20v1m0 19v1m0 7v1m0 3v1m0 7v1m0 4v2m0 3v1m0 15v1m0 24v1m1-171v1m0 3v1m0 3v1m0 17v1m0 29v1m0 10v1m0 3v1m0 10v1m0 2v1m0 29v1m0 23v1m0 9v1m0 1v1m0 8v1m0 2v1m0 28v1m1-239v1m0 30v1m0 21v1m0 2v1m0 2v1m0 8v1m0 5v1m0 6v1m0 5v2m0 1v1m0 4v1m0 2v1m0 2v2m0 15v1m0 2v1m0 10v1m0 16v1m0 1v1m0 11v1m0 9v1m0 24v1m0 19v1m1-199v1m0 20v1m0 4v1m0 20v2m0 14v1m0 15v1m0 11v1m0 17v2m0 38v1m0 16v1m0 14v1m0 5v1m0 53v1m1-241v1m0 56v1m0 14v1m0 135v1"/>
<path stroke="#6da7ce" d="M103 188v1m0 35v1m0 2v1m0 5v2m0 34v1m0 27v1m1-100v1m0 13v1m0 3v1m0 5v1m0 4v1m0 2v1m0 14v1m0 4v2m0 1v1m0 10v1m0 4v1m0 9v1m0 2v1m0 7v1m0 34v1m0 24v1m1-126v1m0 4v1m0 3v1m0 15v1m0 3v1m0 3v1m0 6v1m0 14v1m0 81v1m1-258v1m0 3v1m0 9v1m0 5v1m0 14v1m0 7v1m0 1v1m0 9v1m0 7v1m0 3v1m0 15v1m0 1v1m0 8v1m0 1v1m0 2v1m0 2v1m0 1v2m0 3v2m0 2v2m0 1v1m0 2v1m0 13v1m0 4v1m0 20v1m0 3v1m0 1v1m0 2v1m0 4v1m0 1v1m0 5v2m0 12v1m0 3v1m0 14v1m0 9v1m0 2v1m0 37v1m1-250v1m0 49v1m0 11v1m0 25v1m0 5v1m0 2v1m0 1v1m0 3v1m0 6v1m0 7v1m0 70v1m0 53v1m0 13v1m1-181v1m0 8v1m0 11v1m0 5v1m0 6v1m0 5v1m0 7v1m0 2v1m0 1v1m0 5v2m0 10v1m1-165v1m0 93v1m0 5v1m0 5v1m0 17v1m0 2v2m0 22v1m0 2v1m0 1v1m0 2v1m0 12v1m0 4v1m0 7v1m0 6v1m0 6v1m0 17v1m0 8v1m0 45v1m1-189v1m0 7v1m0 8v1m0 7v1m0 9v1m0 6v1m0 29v2m0 1v2m0 3v1m0 8v1m0 13v1m0 8v1m0 68v1m1-190v1m0 25v1m0 60v1m0 2v1m0 18v1m0 13v1m0 31v1m1-245v1m0 7v1m0 38v1m0 30v1m0 6v1m0 8v1m0 28v1m0 1v1m0 3v1m0 3v1m0 1v1m0 35v1m0 4v1m0 7v1m0 1v1m0 17v1m0 6v1m0 1v1m0 5v1m0 6v1m0 16v1m0 7v1m0 8v1m0 4v1m0 20v1m1-299v1m0 16v1m0 1v1m0 13v1m0 6v1m0 8v1m0 24v1m0 1v1m0 9v1m0 13v1m0 3v1m0 3v1m0 15v1m0 2v1m0 1v1m0 6v1m0 6v1m0 9v1m0 5v1m0 1v1m0 1v1m0 24v1m0 2v1m0 7v1m0 4v1m0 2v1m0 8v1m0 9v1m0 1v1m0 5v1m0 2v1m0 8v1m0 14v1m0 24v1m0 38v1m0 2v1m1-259v1m0 48v1m0 8v1m0 4v1m0 7v1m0 28v2m0 5v1m1-90v1m0 35v1m0 8v1m0 3v1m0 2v1m0 2v1m0 15v1m0 3v1m0 4v1m0 6v1m0 2v1m0 7v1m0 2v1m0 12v1m0 15v1m0 19v1m0 11v1m0 12v1m0 29v1m1-165v1m0 19v1m0 28v1m0 9v1m0 95v1m1-153v1m0 44v1m0 25v1m0 19v1m1-126v1m0 14v1m0 34v1m0 8v1m0 6v1m0 2v1m0 2v1m0 19v1m0 3v1m0 4v1m0 54v1m1-245v1m0 25v1m0 29v1m0 27v1m0 5v1m0 3v1m0 5v1m0 10v1m0 3v1m0 3v1m0 12v1m0 7v1m0 9v1m0 7v1m0 2v1m0 6v1m0 1v2m0 3v1m0 2v1m0 2v1m0 2v1m0 3v1m0 19v1m0 11v1m0 1v1m0 4v1m0 3v1m0 4v1m0 44v1m1-227v1m0 6v1m0 14v1m0 11v1m0 6v1m0 8v1m0 10v1m0 2v1m0 1v1m0 1v1m0 7v1m0 2v1m0 8v1m0 3v1m0 1v1m0 31v1m0 13v1m0 20v1m0 35v1m0 21v1m0 17v1m1-285v1m0 22v1m0 6v1m0 40v1m0 2v1m0 3v1m0 3v1m0 3v1m0 7v1m0 1v1m0 3v1m0 1v1m0 11v1m0 1v1m0 2v1m0 18v1m0 10v2m0 4v1m0 15v1m0 1v1m0 12v1m0 6v1m0 3v1m0 3v1m0 2v1m0 1v1m0 16v1m0 15v1m0 1v1m0 38v1m0 28v1m1-334v1m0 7v1m0 2v1m0 21v1m0 30v1m0 11v1m0 8v1m0 11v1m0 3v1m0 1v1m0 13v1m0 5v1m0 1v1m0 2v1m0 5v1m0 2v1m0 1v2m0 24v1m0 24v1m0 7v1m0 2v1m0 9v1m0 3v1m0 10v1m0 12v1m0 13v2m0 11v1m0 28v1m0 3v1m0 5v1m0 10v1m1-315v1m0 7v1m0 19v1m0 5v1m0 21v1m0 2v1m0 7v1m0 50v1m0 40v1m0 12v1m0 4v1m0 16v1m0 33v1m0 11v1m0 58v1m1-250v1m0 33v1m0 12v1m0 2v1m0 3v1m0 4v1m0 5v3m0 14v1m0 3v1m0 14v1m0 1v1m0 4v2m0 5v2m0 5v1m0 3v1m0 1v1m0 4v1m0 19v1m0 6v1m0 7v1m0 5v1m0 17v1m0 8v1m0 17v1m0 1v1m0 4v1m0 48v1m0 1v1m1-294v1m0 28v1m0 10v1m0 1v1m0 11v1m0 3v1m0 33v1m0 8v1m0 8v1m0 2v1m0 9v1m0 18v1m0 5v1m0 7v1m0 8v1m0 6v1m0 2v1m0 2v1m0 3v1m0 3v1m0 14v1m0 13v1m0 10v1m0 16v1m0 8v1m0 30v1m1-291v1m0 42v1m0 10v1m0 19v1m0 2v1m0 1v2m0 2v1m0 6v1m0 2v1m0 4v1m0 3v1m0 8v1m0 15v1m0 1v1m0 1v1m0 2v1m0 15v1m0 4v1m0 3v1m0 16v1m0 2v1m0 4v2m0 4v1m0 11v1m0 12v1m0 7v1m0 2v1m0 11v1m0 6v1m0 14v1m0 4v1m1-257v1m0 16v1m0 24v1m0 4v1m0 1v1m0 5v1m0 34v1m0 3v2m0 11v1m0 16v1m0 4v1m0 2v1m0 13v1m0 2v1m0 11v1m0 22v1m0 2v1m0 6v1m0 14v1m0 6v1m0 14v1m0 11v1m0 16v1m0 16v1m1-257v1m0 4v1m0 9v1m0 23v1m0 9v1m0 2v1m0 2v1m0 2v1m0 2v1m0 5v1m0 6v1m0 8v1m0 4v1m0 5v1m0 11v1m0 3v1m0 12v1m0 8v1m0 10v1m0 16v1m0 3v1m0 2v1m0 8v1m0 5v1m0 14v1m0 13v1m1-172v1m0 28v1m0 9v1m0 7v1m0 21v1m0 14v1m0 4v1m0 3v1m0 4v1m0 10v1m0 5v1m0 46v1m0 15v1m0 18v1m0 23v1m1-217v1m0 29v1m0 12v1m0 8v1m0 29v1m0 7v1m0 78v1m0 19v1m30-146v1m0 3v1m0 1v1m0 1v1m0 2v1m0 23v1m0 2v1m0 1v1m0 3v1m0 41v1m1-147v1m0 3v1m0 20v1m0 4v1m0 19v1m0 4v1m0 3v1m0 2v2m0 1v1m0 4v1m0 17v1m0 1v1m0 4v1m0 2v1m0 41v1m0 102v1m1-260v1m0 55v1m0 1v1m0 14v1m0 7v1m0 26v2m0 8v1m0 2v1m0 4v1m0 3v1m0 7v1m0 2v2m0 2v1m0 9v1m0 6v1m0 6v1m0 8v1m0 4v1m0 8v1m0 2v1m0 17v1m0 3v1m0 14v1m1-272v1m0 80v1m0 1v1m0 2v1m0 15v1m0 1v1m0 5v1m0 1v1m0 7v1m0 50v1m0 16v1m0 3v1m0 4v1m0 2v2m0 4v1m0 41v1m0 21v1m0 1v1m0 3v1m1-298v1m0 64v1m0 8v1m0 18v1m0 4v1m0 4v1m0 8v1m0 3v1m0 1v1m0 2v1m0 1v1m0 2v1m0 3v2m0 10v1m0 1v1m0 2v1m0 2v1m0 1v1m0 3v1m0 9v1m0 19v1m0 2v1m0 15v1m0 1v1m0 6v1m0 22v1m0 3v1m0 1v1m0 1v1m0 11v1m0 7v1m0 6v1m0 33v1m0 9v1m1-321v1m0 45v1m0 25v1m0 8v1m0 6v1m0 2v1m0 4v1m0 11v1m0 1v1m0 6v1m0 12v1m0 4v2m0 13v1m0 4v1m0 2v1m0 26v1m0 1v1m0 15v1m0 10v1m0 1v1m0 2v1m0 2v1m0 1v1m0 19v1m0 48v1m1-255v1m0 72v1m0 2v1m0 4v1m0 42v1m1-40v1m0 6v1m0 48v1m0 14v1m0 8v1m1-98v1m0 2v1m0 25v1m0 11v1m0 39v1m0 5v1m1-63v1m0 45v1m0 5v1m0 19v1m0 10v1m0 12v1m0 54v1m1-216v1m0 7v1m0 46v1m0 4v1m0 1v1m0 6v1m0 1v1m0 3v1m0 2v1m0 1v1m0 18v1m0 1v1m0 2v1m0 1v1m0 8v1m0 1v1m0 7v1m0 3v1m0 41v1m0 8v1m1-162v1m0 12v1m0 16v1m0 13v1m0 26v1m0 1v2m0 1v1m0 4v1m0 9v1m0 4v1m0 7v1m0 14v1m0 5v1m0 10v1m0 5v1m0 28v1m0 9v1m0 3v1m1-168v1m0 28v1m0 7v1m0 3v1m0 3v1m0 1v1m0 7v1m0 2v1m0 13v1m0 6v1m0 1v1m0 18v1m0 59v1m0 43v1m1-237v1m0 36v1m0 8v1m0 1v1m0 26v1m0 1v1m0 17v1m0 2v1m0 7v1m0 15v1m0 49v1m1-235v1m0 11v1m0 2v1m0 19v1m0 10v2m0 17v1m0 9v1m0 1v1m0 6v1m0 2v1m0 3v1m0 8v1m0 3v1m0 1v1m0 3v1m0 2v1m0 3v2m0 7v1m0 39v1m0 2v1m0 32v1m0 3v1m0 6v1m0 2v1m0 3v1m0 1v1m0 2v1m0 1v1m0 44v1m1-171v1m0 28v1m0 2v1m0 1v1m0 24v1m0 2v1m0 8v1m0 6v1m0 27v1m0 34v1m0 3v1m0 12v1m0 5v1m1-201v1m0 14v1m0 9v1m0 39v1m0 1v1m0 5v1m0 3v1m0 3v1m0 3v1m0 6v1m0 10v1m1-145v1m0 28v1m0 31v1m0 1v1m0 4v1m0 1v1m0 5v1m0 5v1m0 3v1m0 2v1m0 3v1m0 1v2m0 1v1m0 1v1m0 7v1m0 7v1m0 3v1m0 3v1m0 5v1m0 7v1m0 4v1m0 1v1m0 4v1m0 2v1m0 18v1m0 31v1m0 12v1m0 1v1m0 23v1m1-211v1m0 18v1m0 5v1m0 15v1m0 3v1m0 22v1m0 1v1m0 2v1m0 15v1m0 2v1m0 16v1m0 3v1m0 1v1m0 4v1m0 20v1m0 26v1m0 23v1m0 5v1m0 1v1m1-188v1m0 37v1m0 21v1m0 11v1m0 67v1m0 18v1m1-119v1m0 15v1m0 19v1m0 5v1m0 1v1m0 93v1m1-247v1m0 2v1m0 17v1m0 30v1m0 1v1m0 6v1m0 2v1m0 4v1m0 14v1m0 13v1m0 1v1m0 3v1m0 2v2m0 2v1m0 3v1m0 5v1m0 2v1m0 7v1m0 2v1m0 1v1m0 2v2m0 15v1m0 16v1m0 6v2m0 5v1m0 1v1m0 17v1m0 1v1m0 1v1m0 4v1m0 8v1m0 2v1m0 13v1m0 12v1m0 6v1m0 8v1m0 13v1m0 15v1m0 1v1m1-279v1m0 23v1m0 7v1m0 10v1m0 13v1m0 10v1m0 8v1m0 1v1m0 2v1m0 2v1m0 1v2m0 9v1m0 12v2m0 8v1m0 2v1m0 2v1m0 2v1m0 9v1m0 9v1m0 6v1m0 3v1m0 1v1m0 1v1m0 4v1m0 7v1m0 2v1m0 53v1m0 3v1m0 9v1m0 1v1m0 13v1m0 14v1m1-288v1m0 1v1m0 25v1m0 21v1m0 4v1m0 5v1m0 28v1m0 3v1m0 3v1m0 2v1m0 7v1m0 1v1m0 3v1m0 5v1m0 13v1m0 3v1m0 6v2m0 8v1m0 6v1m0 3v1m0 19v1m1-197v1m0 16v1m0 70v1m0 11v1m0 2v1m0 4v1m0 7v1m0 6v1m0 11v1m0 4v1m0 12v1m0 6v1m0 3v1m0 31v1m0 4v1m0 18v1m0 11v1m0 16v1m0 33v1m0 4v1m1-211v1m0 3v1m0 1v1m0 9v1m0 11v1m0 17v1m0 27v1m0 3v1m0 32v1m49-165v1m0 9v1m0 3v1m0 13v1m0 5v1m0 74v1m0 3v1m0 1v1m0 3v1m0 2v1m0 4v1m0 9v1m4-141v1m0 36v1m0 1v1m0 6v1m0 9v1m0 52v1m0 1v1m0 2v1m0 3v1m0 1v1m35-59v1m0 2v1m0 3v1m0 55v1m0 6v1m0 2v1m0 10v1m12-106v1m0 1v1m0 5v1m0 2v1m0 1v1m0 1v1m0 1v1m0 12v1m0 2v1m0 1v1m0 4v1m0 22v1m0 2v1m0 1v1m0 3v1m0 3v1m0 1v1m0 1v3m0 6v1m0 2v2m0 5v1m55-63v1m0 3v1m0 2v1m0 34v1m0 5v1m0 3v1m31-149v1m0 105v1m0 2v1m0 14v2m0 2v1m0 7v1m0 6v2m1-92v1m0 53v1m0 4v1m0 9v1m0 3v1m0 1v1m0 3v1m0 2v1m0 3v1m0 5v1m0 4v1m0 16v1m1-71v1m0 15v1m0 1v1m0 8v1m0 4v1m0 16v1m0 24v1m0 19v1m1-96v1m0 13v1m0 4v1m0 33v1m0 32v1m0 38v1m1-118v1m0 15v1m0 11v1m0 1v1m0 3v2m0 2v2m0 4v1m1-153v1m0 17v1m0 47v1m0 18v1m0 8v1m0 1v1m0 5v1m0 1v1m0 4v2m0 13v2m0 3v1m0 2v1m0 1v2m0 7v2m0 1v1m0 2v1m0 1v2m0 6v1m0 32v1m0 8v1m1-175v1m0 5v1m0 2v1m0 2v1m0 3v1m0 26v1m0 4v1m0 7v1m0 5v1m0 8v1m0 1v1m0 1v1m0 4v1m0 2v2m0 1v2m0 1v1m0 10v1m0 26v1m0 12v1m0 66v1m0 28v1m1-151v1m0 11v1m0 19v1m0 1v1m0 4v1m0 59v1m1-93v1m0 2v1m0 5v1m0 5v1m0 21v1m1-185v1m0 62v1m0 22v1m0 23v1m0 7v1m0 1v1m0 9v1m0 3v1m0 4v1m0 1v2m0 5v1m0 13v1m0 13v1m0 14v1m0 1v1m0 9v1m0 8v1m0 2v1m0 17v1m0 34v1m1-258v1m0 41v1m0 7v1m0 17v1m0 4v1m0 8v1m0 17v1m0 17v1m0 2v1m0 7v1m0 10v1m0 11v1m0 1v1m0 12v1m0 4v1m0 41v1m0 2v1m0 3v1m0 12v1m0 26v1m0 12v1m1-167v1m0 8v1m0 5v1m0 10v1m0 2v1m0 1v1m0 4v1m0 12v1m0 2v2m1-168v1m0 30v1m0 8v1m0 17v1m0 16v1m0 32v1m0 4v1m0 1v1m0 1v1m0 3v1m0 6v1m0 3v1m0 18v2m0 1v1m0 4v1m0 1v2m0 19v1m0 6v1m0 5v1m0 4v1m0 11v1m0 8v1m0 27v1m0 21v1m0 28v1m1-175v1m0 23v1m0 3v1m0 3v2m0 4v1m0 81v1m1-222v1m0 51v1m0 20v2m0 2v1m0 4v1m0 19v1m0 1v1m0 9v1m0 6v1m0 2v2m0 9v1m0 6v1m0 4v1m0 7v1m0 7v1m0 6v1m0 8v1m0 5v1m0 16v1m0 40v1m1-166v1m0 5v1m0 7v1m0 7v1m0 9v1m0 12v1m0 1v1m0 13v2m0 4v1m0 13v1m0 1v1m1-72v1m0 3v1m0 12v1m0 8v1m0 5v1m0 20v2m0 1v1m0 5v1m1-132v1m0 48v1m0 17v1m0 20v1m0 1v1m0 2v1m0 3v1m0 2v1m0 3v1m0 5v1m0 8v1m0 23v1m0 19v1m0 8v1m0 62v1m1-288v1m0 114v1m0 24v1m0 39v1m0 1v1m0 52v1m0 56v1m1-135v1m0 7v1m0 1v1m0 17v1m1-65v1m0 35v1m0 3v1m0 16v1m0 10v1m1-129v1m0 67v1m0 6v1m0 16v1m0 2v1m0 14v1m0 16v1m0 12v1m1-159v1m0 27v1m0 47v1m0 27v1m0 2v1m0 9v1m1-24v1m0 6v1m0 2v1m0 31v1m0 41v1m29-7v1m0 5v1m0 4v1m0 12v1m1-39v1m0 8v1m0 6v1m0 2v1m0 5v1m0 1v1m1-234v1m0 1v1m0 2v1m0 5v1m0 1v1m0 1v1m0 3v1m0 12v1m0 15v1m0 9v1m0 20v1m0 1v1m0 25v1m0 5v1m0 12v1m0 2v1m0 1v1m0 8v1m0 52v1m0 23v1m0 15v1m0 4v1m0 6v1m0 3v1m0 1v1m0 27v1m0 2v2m0 22v1m0 4v1m1-286v1m0 4v1m0 11v1m0 22v1m0 24v1m0 11v1m0 20v2m0 9v1m0 7v1m0 3v1m0 1v1m0 31v1m0 2v1m0 6v1m0 1v1m0 11v1m0 5v1m0 17v2m0 20v1m0 8v1m0 8v1m0 7v1m0 16v1m0 2v1m0 2v1m0 7v3m0 6v1m0 1v1m1-319v1m0 10v1m0 16v1m0 5v1m0 13v1m0 1v1m0 17v1m0 6v1m0 7v1m0 17v1m0 3v1m0 4v1m0 2v1m0 3v1m0 2v1m0 4v1m0 2v1m0 4v1m0 3v1m0 7v1m0 1v1m0 3v1m0 13v1m0 1v1m0 21v1m0 4v1m0 5v1m0 2v1m0 4v2m0 2v1m0 3v1m0 18v1m0 14v1m0 8v1m0 1v1m0 4v1m0 20v1m0 13v1m0 9v1m0 8v1m0 2v1m1-325v1m0 1v1m0 6v1m0 6v1m0 1v1m0 15v1m0 5v1m0 8v1m0 5v1m0 2v1m0 5v1m0 8v1m0 23v1m0 2v1m0 6v2m0 10v1m0 1v1m0 2v1m0 4v1m0 25v1m0 38v1m0 13v1m0 2v1m0 6v1m0 3v1m0 10v1m0 2v1m0 3v1m0 15v1m0 12v1m0 1v1m0 1v1m0 6v1m0 10v5m0 3v1m0 6v1m0 14v1m0 3v1m1-306v1m0 33v1m0 9v2m0 47v1m0 14v1m0 1v1m0 11v1m0 6v1m0 1v1m0 42v1m0 2v1m0 1v1m0 5v1m0 3v1m0 10v1m0 3v1m0 10v1m0 21v1m0 4v1m0 3v1m0 4v1m0 7v1m0 7v1m0 2v1m0 5v2m0 5v1m0 4v1m0 7v1m0 4v1m0 11v1m1-327v1m0 4v1m0 4v1m0 1v1m0 9v1m0 8v1m0 10v1m0 2v1m0 3v1m0 5v1m0 5v1m0 5v2m0 1v1m0 4v1m0 8v1m0 1v1m0 5v1m0 5v1m0 5v1m0 5v2m0 1v1m0 10v1m0 1v1m0 1v1m0 4v2m0 3v1m0 13v1m0 12v2m0 2v1m0 2v1m0 7v1m0 2v1m0 13v1m0 4v1m0 21v1m0 8v1m0 15v1m0 1v1m0 14v1m0 2v1m0 11v1m0 4v1m0 4v1m0 1v1m0 3v1m0 2v1m0 1v2m0 1v1m0 12v1m0 1v1m0 3v1m1-324v1m0 18v1m0 6v1m0 8v1m0 4v1m0 1v1m0 17v1m0 13v1m0 2v1m0 8v1m0 1v1m0 1v1m0 2v1m0 27v1m0 1v1m0 1v1m0 2v1m0 1v1m0 20v1m0 8v1m0 10v1m0 6v1m0 1v1m0 2v1m0 6v1m0 2v1m0 4v1m0 4v1m0 5v1m0 11v1m0 6v1m0 8v1m0 6v1m0 3v1m0 3v1m0 9v1m0 7v1m0 4v1m0 21v1m0 2v1m0 23v1m1-307v1m0 11v1m0 1v1m0 1v1m0 27v1m0 6v1m0 7v2m0 36v1m0 2v1m0 3v2m0 2v1m0 2v1m0 5v1m0 2v1m0 8v1m0 18v1m0 8v2m0 1v1m0 2v1m0 1v3m0 1v1m0 2v1m0 5v2m0 1v1m0 28v1m0 3v1m0 8v3m0 6v1m0 3v1m0 6v1m0 11v1m0 12v1m0 1v1m0 26v1m0 9v1m0 1v1m1-321v1m0 12v1m0 13v1m0 9v1m0 8v1m0 5v1m0 15v2m0 25v1m0 20v2m0 9v2m0 10v1m0 1v1m0 20v1m0 17v2m0 1v1m0 1v1m0 2v1m0 7v3m0 2v1m0 12v1m0 11v1m0 11v1m0 1v2m0 13v1m0 2v1m0 2v1m0 5v1m0 4v1m0 16v1m0 3v1m0 7v1m0 15v1m1-315v1m0 13v1m0 13v1m0 1v1m0 5v1m0 1v1m0 23v2m0 11v2m0 11v1m0 1v1m0 14v1m0 8v2m0 6v1m0 1v1m0 39v1m0 8v1m0 3v1m0 1v1m0 2v2m0 5v1m0 1v2m0 1v1m0 4v1m0 14v1m0 4v1m0 1v1m0 1v1m0 15v1m0 3v1m0 2v1m0 14v1m0 3v1m0 2v1m0 25v1m1-297v1m0 6v1m0 4v1m0 63v1m0 3v1m0 6v1m0 13v1m0 7v1m0 11v1m0 2v1m0 10v1m0 19v1m0 13v2m0 3v3m0 3v1m0 2v1m0 9v1m0 3v2m0 3v1m0 12v1m0 13v2m0 1v1m0 9v1m0 6v1m0 1v1m0 10v2m0 27v1m0 21v1m1-320v1m0 3v1m0 3v1m0 25v1m0 21v1m0 2v1m0 6v1m0 5v1m0 8v1m0 8v1m0 1v1m0 2v1m0 7v1m0 13v2m0 4v1m0 1v1m0 4v3m0 1v1m0 1v1m0 1v1m0 2v1m0 44v1m0 4v2m0 3v1m0 1v1m0 5v1m0 2v1m0 2v1m0 10v1m0 7v1m0 1v1m0 1v1m0 4v1m0 9v2m0 6v1m0 2v1m0 2v1m0 3v1m0 5v1m0 5v1m0 8v1m0 12v1m0 1v1m0 9v1m1-311v1m0 14v1m0 25v1m0 3v1m0 3v1m0 1v1m0 4v1m0 3v1m0 3v1m0 10v1m0 25v1m0 6v1m0 4v1m0 10v1m0 1v1m0 4v2m0 5v1m0 29v1m0 4v1m0 6v1m0 2v1m0 6v1m0 15v1m0 1v1m0 2v1m0 5v1m0 34v1m0 9v1m0 2v1m0 13v1m0 24v1m1-304v1m0 18v1m0 14v1m0 1v1m0 9v2m0 4v2m0 4v1m0 5v1m0 3v1m0 16v1m0 2v1m0 6v1m0 6v1m0 11v1m0 2v1m0 7v1m0 9v1m0 22v1m0 14v1m0 9v1m0 7v1m0 14v1m0 4v2m0 7v2m0 6v1m0 7v1m0 4v1m0 19v1m0 15v1m0 5v1m0 9v1m0 6v1m1-288v1m0 4v1m0 19v1m0 1v1m0 1v1m0 9v1m0 3v1m0 4v1m0 4v1m0 1v1m0 1v1m0 2v2m0 28v1m0 1v1m0 6v1m0 1v1m0 34v1m0 23v1m0 2v4m0 1v1m0 4v1m0 9v1m0 3v2m0 12v1m0 14v2m0 2v1m0 11v1m0 15v1m0 43v1m0 11v1m1-317v1m0 6v1m0 4v1m0 10v1m0 4v1m0 1v1m0 2v1m0 1v1m0 2v1m0 3v1m0 3v1m0 5v2m0 12v1m0 1v1m0 21v1m0 32v1m0 6v1m0 7v1m0 8v1m0 8v1m0 13v1m0 7v1m0 29v1m0 14v1m0 23v1m0 2v1m0 24v1m0 4v1m0 3v1m1-300v1m0 12v1m0 54v1m0 1v1m0 7v1m0 2v1m0 8v1m0 21v1m0 11v1m0 1v2m0 9v1m0 6v1m0 40v1m0 21v1m0 31v1m0 3v1m0 8v1m0 29v1m0 31v1m1-312v1m0 4v1m0 1v1m0 1v1m0 7v2m0 4v1m0 4v1m0 1v1m0 1v1m0 2v1m0 5v1m0 3v2m0 10v1m0 16v1m0 11v1m0 5v1m0 2v2m0 10v1m0 6v2m0 3v1m0 2v1m0 7v1m0 3v1m0 7v1m0 32v1m0 8v1m0 4v1m0 6v2m0 11v1m0 32v1m0 3v1m0 17v1m0 2v1m0 6v1m0 3v1m0 2v1m0 3v1m0 2v1m0 11v1m0 3v1m1-302v1m0 14v1m0 12v1m0 1v1m0 3v1m0 16v1m0 2v1m0 11v1m0 1v1m0 5v1m0 8v1m0 6v1m0 2v1m0 2v1m0 4v1m0 16v1m0 8v1m0 4v1m0 2v1m0 3v1m0 33v1m0 12v1m0 1v1m0 2v1m0 2v2m0 5v2m0 25v1m0 2v1m0 4v1m0 1v1m0 3v2m0 15v1m0 6v1m0 1v1m0 21v1m0 3v1m0 5v1m0 1v1m0 1v1m0 16v1m1-326v1m0 13v1m0 2v1m0 5v1m0 9v1m0 2v1m0 4v1m0 16v1m0 11v1m0 11v1m0 16v1m0 10v2m0 4v1m0 8v1m0 1v1m0 3v2m0 4v1m0 5v1m0 1v1m0 2v1m0 10v1m0 7v1m0 13v1m0 15v1m0 2v1m0 19v1m0 4v1m0 10v1m0 8v1m0 1v2m0 7v1m0 11v1m0 22v1m0 36v1m0 1v1m1-333v1m0 19v1m0 5v1m0 7v1m0 9v1m0 2v1m0 5v1m0 6v1m0 1v1m0 5v1m0 3v2m0 8v1m0 7v1m0 6v1m0 5v1m0 11v1m0 13v2m0 8v1m0 42v1m0 9v1m0 2v1m0 3v1m0 1v1m0 1v1m0 13v1m0 4v1m0 13v1m0 23v1m0 9v1m0 5v1m0 8v1m0 26v1m1-306v1m0 3v1m0 3v1m0 17v1m0 12v2m0 10v1m0 3v2m0 1v1m0 11v1m0 1v1m0 8v1m0 34v1m0 4v1m0 13v1m0 5v1m0 25v1m0 19v2m0 11v1m0 16v1m0 2v1m0 21v1m0 14v1m0 6v1m0 6v1m0 2v1m0 7v1m0 3v1m0 3v1m1-281v1m0 3v1m0 5v1m0 4v1m0 12v1m0 5v2m0 3v2m0 1v2m0 7v1m0 137v1m0 24v1m0 17v1m0 4v1m0 7v1m0 9v1m0 27v1m0 2v1m0 18v1m27-309v1m0 50v1m0 2v1m0 4v1m0 6v1m0 3v2m0 21v1m0 6v3m0 6v1m0 12v1m0 5v1m0 6v1m0 12v1m0 1v2m0 9v2m0 9v1m0 44v1m0 3v1m0 4v1m0 4v1m0 13v1m0 13v1m0 4v1m0 11v1m0 13v1m1-260v1m0 17v1m0 6v1m0 1v1m0 10v1m0 4v1m0 2v1m0 1v1m0 4v1m0 4v1m0 5v1m0 26v1m0 14v1m0 18v1m0 1v1m0 20v1m0 23v1m0 6v1m0 4v1m0 1v1m0 2v1m0 6v3m0 2v1m0 2v1m0 4v2m0 6v1m0 7v1m0 10v1m0 11v1m0 38v1m1-290v1m0 18v1m0 10v1m0 3v1m0 8v1m0 1v1m0 5v1m0 1v1m0 13v1m0 17v1m0 5v1m0 12v1m0 1v1m0 2v1m0 3v1m0 8v1m0 18v1m0 11v1m0 20v1m0 1v1m0 8v1m0 8v1m0 8v3m0 24v1m0 21v1m1-278v1m0 10v1m0 2v1m0 6v1m0 28v1m0 9v1m0 7v1m0 1v1m0 1v1m0 4v1m0 26v1m0 21v1m0 3v1m0 58v1m0 14v1m0 6v1m0 11v1m0 15v1m0 7v1m0 16v1m0 1v1m0 11v1m1-270v1m0 15v1m0 32v1m0 2v1m0 7v1m0 23v1m0 3v2m0 4v1m0 4v1m0 5v1m0 9v1m0 2v1m0 24v1m0 5v1m0 3v1m0 8v1m0 29v1m0 17v2m0 2v1m0 3v1m0 1v1m0 7v1m0 13v1m0 1v1m0 1v1m0 2v1m0 27v1m0 3v1m0 21v1m1-307v1m0 9v1m0 21v1m0 7v2m0 28v1m0 5v1m0 6v1m0 23v1m0 9v1m0 59v1m0 6v1m0 9v1m0 5v1m0 5v1m0 10v1m0 6v1m0 13v1m0 21v1m0 11v1m1-279v1m0 13v1m0 1v1m0 19v1m0 8v1m0 17v2m0 1v1m0 31v1m0 5v2m0 2v1m0 5v1m0 2v1m0 3v1m0 2v2m0 8v1m0 3v1m0 9v1m0 6v1m0 12v1m0 10v1m0 3v1m0 3v2m0 5v1m0 9v1m0 1v1m0 8v1m0 2v1m0 3v1m0 5v1m0 5v1m0 1v1m0 2v1m0 5v1m0 9v1m0 8v2m0 7v1m0 25v1m0 17v1m1-326v1m0 3v1m0 10v1m0 4v1m0 5v1m0 12v1m0 1v1m0 5v1m0 4v1m0 7v1m0 6v1m0 7v1m0 3v1m0 2v1m0 4v1m0 15v1m0 7v2m0 4v1m0 1v1m0 1v1m0 3v1m0 13v1m0 1v1m0 6v1m0 5v1m0 2v1m0 14v3m0 3v1m0 3v1m0 2v2m0 3v1m0 8v1m0 4v1m0 61v1m0 4v1m0 1v1m0 4v1m0 25v1m1-288v1m0 42v1m0 4v1m0 20v1m0 2v1m0 3v2m0 4v1m0 1v2m0 2v2m0 11v1m0 1v2m0 2v1m0 4v1m0 7v1m0 16v1m0 11v1m0 2v1m0 5v1m0 2v1m0 1v1m0 6v1m0 3v2m0 4v3m0 15v1m0 20v1m0 1v2m0 9v1m0 6v1m0 1v1m0 16v1m0 3v1m0 13v1m0 9v1m1-295v1m0 24v1m0 1v1m0 2v1m0 10v1m0 1v1m0 1v1m0 15v1m0 3v1m0 9v1m0 23v1m0 3v1m0 8v2m0 9v2m0 9v1m0 9v1m0 33v1m0 4v1m0 1v1m0 1v1m0 5v1m0 1v4m0 3v1m0 4v1m0 8v1m0 26v1m0 1v2m0 24v1m0 3v1m0 1v1m0 1v1m0 17v1m0 4v1m1-270v1m0 2v1m0 11v1m0 5v1m0 5v1m0 2v1m0 12v2m0 2v2m0 1v1m0 2v1m0 2v2m0 10v1m0 2v1m0 1v1m0 13v1m0 3v1m0 13v1m0 3v1m0 14v1m0 16v1m0 2v1m0 8v2m0 1v1m0 3v1m0 5v1m0 3v1m0 6v1m0 1v1m0 27v2m0 1v1m0 1v1m0 3v2m0 5v1m0 1v1m0 4v1m0 1v1m0 2v1m0 7v1m0 4v1m0 14v1m0 1v1m0 1v1m0 2v1m0 12v1m1-335v1m0 1v1m0 1v1m0 3v1m0 2v1m0 1v1m0 3v2m0 6v1m0 13v1m0 2v1m0 3v1m0 6v1m0 1v1m0 15v1m0 28v1m0 4v1m0 6v1m0 3v1m0 8v1m0 6v1m0 2v1m0 6v1m0 2v1m0 5v1m0 17v1m0 4v1m0 5v1m0 3v1m0 3v1m0 2v2m0 6v1m0 1v1m0 32v1m0 14v1m0 17v1m0 6v1m0 4v1m0 2v1m0 12v1m0 11v1m0 14v1m1-299v1m0 2v1m0 21v1m0 17v1m0 24v1m0 14v1m0 15v1m0 5v1m0 4v2m0 1v1m0 2v1m0 2v2m0 29v1m0 17v1m0 2v1m0 3v2m0 2v1m0 7v1m0 24v1m0 1v1m0 4v1m0 7v1m0 1v1m0 16v1m0 18v1m1-290v1m0 5v1m0 33v1m0 2v1m0 3v1m0 2v1m0 23v1m0 2v1m0 2v1m0 9v1m0 8v1m0 5v1m0 14v1m0 1v1m0 2v1m0 1v3m0 2v2m0 1v1m0 1v1m0 13v1m0 4v1m0 9v1m0 7v1m0 9v1m0 8v1m0 9v1m0 1v1m0 6v1m0 10v1m0 7v1m0 4v2m0 4v1m0 3v1m0 8v1m0 5v3m0 3v1m0 2v2m0 1v1m0 4v1m0 13v1m0 13v1m0 19v1m1-320v1m0 21v1m0 3v1m0 27v1m0 6v2m0 7v1m0 4v2m0 5v1m0 1v1m0 4v1m0 6v1m0 5v1m0 1v2m0 1v2m0 3v1m0 2v1m0 5v2m0 1v1m0 4v1m0 1v1m0 3v1m0 42v1m0 4v1m0 3v1m0 1v1m0 9v1m0 1v1m0 1v1m0 3v1m0 8v2m0 13v1m0 4v1m0 1v2m0 4v1m0 12v1m0 6v1m0 10v1m0 13v1m0 1v1m1-291v1m0 1v1m0 1v1m0 3v1m0 4v1m0 2v1m0 5v1m0 4v1m0 1v1m0 5v1m0 3v1m0 2v2m0 2v3m0 16v1m0 28v1m0 10v1m0 1v1m0 4v1m0 4v1m0 20v1m0 2v1m0 6v1m0 2v1m0 3v1m0 4v1m0 2v1m0 5v1m0 8v1m0 5v1m0 5v1m0 6v1m0 1v1m0 37v1m0 1v1m0 6v2m0 5v1m0 4v1m0 6v1m0 1v1m0 9v1m0 10v1m0 2v1m0 2v1m0 12v1m0 5v1m0 3v1m1-322v1m0 12v1m0 63v1m0 7v1m0 2v1m0 3v1m0 13v1m0 22v1m0 1v2m0 3v1m0 3v1m0 31v1m0 13v2m0 12v1m0 4v1m0 7v1m0 6v1m0 5v1m0 5v2m0 4v1m0 4v1m0 5v1m0 9v1m0 1v1m0 4v1m0 19v1m0 14v1m0 4v1m0 11v1m0 3v1m1-321v1m0 3v1m0 11v1m0 4v1m0 7v1m0 12v1m0 2v1m0 2v1m0 12v1m0 3v1m0 1v1m0 1v1m0 22v1m0 9v1m0 5v1m0 6v1m0 6v1m0 1v1m0 7v1m0 2v1m0 7v1m0 2v1m0 2v1m0 5v1m0 3v1m0 13v1m0 5v1m0 5v1m0 4v2m0 11v1m0 4v1m0 26v1m0 1v1m0 1v2m0 3v1m0 5v1m0 7v1m0 4v1m0 3v1m0 8v1m0 5v1m0 2v1m1-272v1m0 39v1m0 8v1m0 12v1m0 4v1m0 1v1m0 4v3m0 5v1m0 5v1m0 1v1m0 20v1m0 5v1m0 21v1m0 2v1m0 2v1m0 7v1m0 14v1m0 4v1m0 7v1m0 2v1m0 4v3m0 9v1m0 4v1m0 1v1m0 4v1m0 4v1m0 6v2m0 21v1m0 4v1m0 5v1m0 4v1m0 3v1m0 10v1m0 4v2m0 19v1m1-327v1m0 16v1m0 9v1m0 4v1m0 10v1m0 16v1m0 1v1m0 18v1m0 4v1m0 21v2m0 3v1m0 9v1m0 4v1m0 1v1m0 2v1m0 6v1m0 6v1m0 22v1m0 20v1m0 1v1m0 12v1m0 2v3m0 12v1m0 12v1m0 7v1m0 12v1m0 6v1m0 1v2m0 8v1m0 4v1m0 3v1m0 1v1m0 3v1m0 8v1m0 1v1m0 15v1m1-309v1m0 4v1m0 2v1m0 3v1m0 1v1m0 3v1m0 5v1m0 7v1m0 4v1m0 1v1m0 1v1m0 11v1m0 32v1m0 26v1m0 26v1m0 1v1m0 12v1m0 16v1m0 26v1m0 18v1m0 4v1m0 2v1m0 2v1m0 2v1m0 10v1m0 2v1m0 2v1m0 4v1m0 7v1m0 2v1m0 1v1m0 6v1m0 8v2m0 4v1m0 6v1m0 1v1m0 4v1m0 20v1m1-296v1m0 78v1m0 1v1m0 23v1m0 1v1m0 4v1m0 22v1m0 5v1m0 5v1m0 23v1m0 13v1m0 4v1m0 11v1m0 17v1m0 9v1m0 9v1m0 9v1m0 12v1m1-292v1m0 8v1m0 30v1m0 7v1m0 2v1m0 8v1m0 3v1m0 2v1m0 1v1m0 1v1m0 1v1m0 2v1m0 13v1m0 3v1m0 5v1m0 1v1m0 6v2m0 5v1m0 4v1m0 34v1m0 9v1m0 14v2m0 5v1m0 11v1m0 5v1m0 8v2m0 15v1m0 7v1m0 3v1m0 5v1m0 2v1m0 5v1m0 6v1m0 9v1m0 4v1m1-289v1m0 49v1m0 13v1m0 9v1m0 4v1m0 2v1m0 2v1m0 2v1m0 4v1m0 10v2m0 12v1m0 7v1m0 33v1m0 20v1m0 1v1m0 22v1m0 11v1m0 2v1m0 19v1m0 3v1m0 15v1m0 14v1m0 12v1m1-234v1m0 4v1m0 15v1m0 25v2m0 3v1m0 1v1m0 4v1m0 13v2m0 2v3m0 5v1m0 26v1m0 1v1m0 12v1m0 6v1m0 8v1m0 2v1m0 1v1m0 2v1m0 11v1m0 6v1m0 5v1m0 26v1m0 13v1m0 57v1m1-309v1m0 49v1m0 2v1m0 1v1m0 3v1m0 4v1m0 4v1m0 5v2m0 26v1m0 4v1m0 7v1m0 1v1m0 21v1m0 14v1m0 19v1m0 3v1m0 1v1m0 3v2m0 14v1m0 4v1m0 5v1m0 7v1m0 11v1m0 30v1m0 8v1m0 3v1m0 21v1m1-317v1m0 34v1m0 4v1m0 22v1m0 23v1m0 1v1m0 4v1m0 3v1m0 2v1m0 15v1m0 2v1m0 4v1m0 8v1m0 8v1m0 10v1m0 2v1m0 2v2m0 1v2m0 1v2m0 9v1m0 2v1m0 12v1m0 8v1m0 9v1m0 3v1m0 19v1m0 16v1m0 1v1m0 28v1m0 4v1m1-288v1m0 42v1m0 18v1m0 16v1m0 6v1m0 17v1m0 1v1m0 4v1m0 3v1m0 7v1m0 1v1m0 5v1m0 12v1m0 1v1m0 12v1m0 9v1m0 9v1m0 1v1m0 3v1m0 4v1m0 11v1m0 5v1m0 1v1m0 4v1m0 10v1m0 10v1m0 11v1m0 4v1m0 13v1m0 3v1m0 30v1m27-313v1m0 4v1m0 18v1m0 2v1m0 4v1m0 130v1m0 59v1m0 14v1m0 18v1m0 1v1m0 11v1m0 1v1m0 2v1m0 5v1m0 20v1m0 4v1m4-281v1m0 7v1m0 4v1m0 11v1m0 14v1m0 7v1m0 8v1m0 11v1m0 11v1m0 11v1m0 16v1m0 10v1m0 4v1m0 2v1m0 15v1m0 6v1m0 5v1m0 1v1m0 8v1m0 9v2m0 10v1m0 2v1m0 37v1m0 8v1m0 3v1m0 6v1m0 3v1m0 33v2m0 7v1m0 4v1m1-323v1m0 21v1m0 7v1m0 3v1m0 2v1m0 1v1m0 4v1m0 9v1m0 3v1m0 6v1m0 22v1m0 1v2m0 27v1m0 16v1m0 27v2m0 20v1m0 6v1m0 27v1m0 3v2m0 5v1m0 1v1m0 18v1m0 4v1m0 6v2m0 20v1m0 6v1m1-300v1m0 1v1m0 9v1m0 11v1m0 1v1m0 7v1m0 3v1m0 8v1m0 7v1m0 18v1m0 9v1m0 6v1m0 9v1m0 7v1m0 2v1m0 4v1m0 1v1m0 10v1m0 5v1m0 12v2m0 8v1m0 9v1m0 15v2m0 6v1m0 1v1m0 37v1m0 4v1m0 6v1m0 3v1m0 5v1m0 1v1m0 1v1m0 1v1m0 5v1m0 5v2m0 15v1m0 1v1m0 5v1m1-238v1m0 8v1m0 8v1m0 11v1m0 5v1m0 8v1m0 9v1m0 10v2m0 7v1m0 16v1m0 4v1m0 7v1m0 12v1m0 35v1m0 5v1m0 5v1m0 3v1m0 2v1m0 5v1m0 1v2m0 20v1m0 23v1m0 31v1m1-325v1m0 41v1m0 28v1m0 1v1m0 5v1m0 6v1m0 4v1m0 4v1m0 7v1m0 12v1m0 6v1m0 6v1m0 1v3m0 6v1m0 1v1m0 2v3m0 10v1m0 26v1m0 13v1m0 4v1m0 10v1m0 4v1m0 3v1m0 8v1m0 3v1m0 1v1m0 1v1m0 4v1m0 4v1m0 4v2m0 4v1m0 5v1m0 28v1m0 5v1m0 6v1m1-285v1m0 11v1m0 4v1m0 8v1m0 4v1m0 6v1m0 5v1m0 1v1m0 2v1m0 6v1m0 1v1m0 9v1m0 1v1m0 7v1m0 7v1m0 3v1m0 13v1m0 6v1m0 57v1m0 3v1m0 4v1m0 1v1m0 3v1m0 11v1m0 11v1m0 5v1m0 22v1m0 38v1m1-305v1m0 17v1m0 42v1m0 3v1m0 2v1m0 2v1m0 1v1m0 3v1m0 18v1m0 2v1m0 13v1m0 9v2m0 7v1m0 2v1m0 60v1m0 9v2m0 5v1m0 2v1m0 8v1m0 24v1m0 9v1m0 31v1m0 17v1m1-294v1m0 2v2m0 10v1m0 1v1m0 1v1m0 4v1m0 2v1m0 3v1m0 18v1m0 10v1m0 2v2m0 17v1m0 1v1m0 24v1m0 3v1m0 45v1m0 10v2m0 2v1m0 2v1m0 4v1m0 6v1m0 3v1m0 4v1m0 1v2m0 9v1m0 2v1m0 5v1m0 9v1m0 15v1m0 10v1m0 3v1m0 4v2m0 1v1m0 4v2m0 8v1m0 3v1m0 18v1m1-326v1m0 22v1m0 14v1m0 32v1m0 7v1m0 2v1m0 16v1m0 6v1m0 23v1m0 3v2m0 1v3m0 2v1m0 3v1m0 2v1m0 1v1m0 3v1m0 11v1m0 25v1m0 4v1m0 21v1m0 3v1m0 1v1m0 11v1m0 2v1m0 7v1m0 6v2m0 8v1m0 46v1m1-317v1m0 16v1m0 40v1m0 4v1m0 10v1m0 4v2m0 7v1m0 4v1m0 5v1m0 6v1m0 5v1m0 2v1m0 11v1m0 5v1m0 4v1m0 1v1m0 1v1m0 1v1m0 1v1m0 1v1m0 35v1m0 14v1m0 3v1m0 1v1m0 4v1m0 12v1m0 18v1m0 5v1m0 8v1m0 22v1m0 5v1m0 3v1m0 1v2m0 25v1m0 4v1m0 10v1m1-331v1m0 13v1m0 2v1m0 1v1m0 10v2m0 2v1m0 5v1m0 17v1m0 2v1m0 1v1m0 2v1m0 7v1m0 4v1m0 14v1m0 16v1m0 7v1m0 9v2m0 52v1m0 1v1m0 5v1m0 3v1m0 3v1m0 3v1m0 2v2m0 20v1m0 4v1m0 3v1m0 16v1m0 9v1m0 8v1m0 2v1m0 5v1m0 18v1m0 2v1m0 1v1m0 1v1m0 4v1m0 3v1m0 9v1m1-304v1m0 9v1m0 5v1m0 5v1m0 4v1m0 4v1m0 2v1m0 20v2m0 3v1m0 19v1m0 14v1m0 10v1m0 2v2m0 1v1m0 5v1m0 5v1m0 1v1m0 1v1m0 13v1m0 18v1m0 2v1m0 4v1m0 2v1m0 12v2m0 10v2m0 8v1m0 19v1m0 3v1m0 8v1m0 1v2m0 15v1m0 5v1m0 12v1m0 2v1m0 1v1m0 9v2m0 4v1m0 5v1m1-327v1m0 4v1m0 10v1m0 5v1m0 2v1m0 1v1m0 17v1m0 6v1m0 10v1m0 4v1m0 1v1m0 14v1m0 8v1m0 11v1m0 10v1m0 7v1m0 9v1m0 3v1m0 7v1m0 24v1m0 20v1m0 1v1m0 2v1m0 22v1m0 7v1m0 4v1m0 27v2m0 8v1m0 6v1m0 1v1m0 2v1m0 2v1m0 25v1m0 2v1m1-314v1m0 23v1m0 1v1m0 7v1m0 7v1m0 5v1m0 2v1m0 1v1m0 11v1m0 10v1m0 11v1m0 1v2m0 21v1m0 21v1m0 43v1m0 1v1m0 2v1m0 3v1m0 9v1m0 3v1m0 11v1m0 8v1m0 24v1m0 34v1m0 4v1m0 2v1m0 23v1m1-323v1m0 31v1m0 9v1m0 6v1m0 2v1m0 14v1m0 19v1m0 1v1m0 7v1m0 9v1m0 11v1m0 5v1m0 4v1m0 8v1m0 31v1m0 6v1m0 4v1m0 3v2m0 9v1m0 3v2m0 3v1m0 7v1m0 2v1m0 1v1m0 3v1m0 3v1m0 3v1m0 6v1m0 22v1m0 4v1m0 6v1m0 6v1m0 26v1m0 6v1m1-308v1m0 14v1m0 12v1m0 4v1m0 28v1m0 5v1m0 1v1m0 5v1m0 5v1m0 2v1m0 10v1m0 23v1m0 11v1m0 15v1m0 17v1m0 3v1m0 3v1m0 14v1m0 24v1m0 17v1m0 9v1m0 4v1m0 5v1m0 5v1m0 7v1m0 9v1m0 2v1m0 10v1m0 19v1m0 9v1m1-316v1m0 3v1m0 27v1m0 1v1m0 10v1m0 5v1m0 2v1m0 1v1m0 7v1m0 5v1m0 3v1m0 4v1m0 14v1m0 5v1m0 3v1m0 6v1m0 11v1m0 2v1m0 6v1m0 9v1m0 2v1m0 1v1m0 23v1m0 1v1m0 7v1m0 14v1m0 9v1m0 1v1m0 1v1m0 7v1m0 5v1m0 1v1m0 3v1m0 23v1m0 1v1m0 4v1m0 1v1m0 1v1m0 2v1m0 2v1m1-284v1m0 15v1m0 11v1m0 3v2m0 1v1m0 3v1m0 1v1m0 7v1m0 4v1m0 6v1m0 2v1m0 8v1m0 19v1m0 16v1m0 12v1m0 29v1m0 8v1m0 2v1m0 1v1m0 16v1m0 1v1m0 3v1m0 7v1m0 2v1m0 19v1m0 5v1m0 1v1m0 15v1m0 1v3m0 22v1m0 24v1m0 12v1m0 16v1m1-335v1m0 31v1m0 1v1m0 16v1m0 1v1m0 4v1m0 10v1m0 18v1m0 11v1m0 10v1m0 17v1m0 2v1m0 3v1m0 16v2m0 9v1m0 12v1m0 1v1m0 2v1m0 3v1m0 24v1m0 15v1m0 5v1m0 6v1m0 2v1m0 5v1m0 12v1m0 4v1m0 2v1m0 1v1m0 7v1m0 4v1m0 1v1m0 7v1m0 11v1m1-268v1m0 7v1m0 1v2m0 2v1m0 11v2m0 3v1m0 10v1m0 3v1m0 10v1m0 29v1m0 2v1m0 39v1m0 8v1m0 4v1m0 2v1m0 10v1m0 6v1m0 3v1m0 3v1m0 2v1m0 4v1m0 7v1m0 1v1m0 11v1m0 3v1m0 1v1m0 2v1m0 9v1m1-253v1m0 26v1m0 8v1m0 12v1m0 4v1m0 14v1m0 4v1m0 2v1m0 2v1m0 3v1m0 10v1m0 9v1m0 1v1m0 21v1m0 11v1m0 1v1m0 8v1m0 7v1m0 3v1m0 7v1m0 1v2m0 4v1m0 30v1m0 4v1m0 18v1m0 2v1m0 22v1m0 31v1m0 1v1m0 3v1m0 10v1m0 4v1m1-321v1m0 5v1m0 11v1m0 22v1m0 7v1m0 3v1m0 3v1m0 7v1m0 11v1m0 4v1m0 1v2m0 12v1m0 12v1m0 1v1m0 15v1m0 1v1m0 2v2m0 17v1m0 7v1m0 1v1m0 9v1m0 5v1m0 2v1m0 4v1m0 20v1m0 24v1m0 2v1m0 17v1m0 2v1m0 2v1m0 3v1m0 2v1m0 5v1m0 10v1m0 28v1m0 3v1m0 10v1m1-315v1m0 2v1m0 11v1m0 3v1m0 10v1m0 11v1m0 10v1m0 5v1m0 2v2m0 7v1m0 78v1m0 16v1m0 36v1m0 18v1m0 6v1m0 5v1m0 8v1m0 3v1m0 8v1m0 1v1m0 1v1m0 5v1m0 3v1m0 6v1m0 33v1m1-278v1m0 63v1m0 182v1"/>
<path stroke="#66a2cc" d="M104 224v1m0 6v1m0 2v1m0 2v1m0 2v1m0 8v1m0 9v1m0 10v1m1-59v1m0 9v1m0 12v1m0 19v1m0 1v1m0 3v1m1-95v1m0 12v1m0 10v1m0 8v1m0 22v1m0 5v1m0 2v1m0 1v1m0 12v1m0 1v1m0 3v2m0 2v1m1-50v1m0 17v1m0 20v3m0 4v1m0 11v2m0 4v1m0 6v1m0 6v1m0 17v1m1-108v1m0 26v1m0 11v1m0 10v2m0 61v1m1-104v1m0 2v1m0 8v1m0 31v1m0 27v1m0 50v1m1-126v1m0 38v1m0 32v1m1-89v1m1 39v1m0 24v1m0 3v1m0 13v1m0 1v1m0 8v1m1-156v1m0 83v1m0 2v1m0 3v1m0 9v1m0 8v1m0 16v1m0 13v1m0 5v1m0 27v1m0 61v1m1-134v2m0 21v1m0 6v1m0 8v1m0 24v1m1-89v1m0 5v1m0 23v1m0 1v1m0 5v1m0 3v1m0 14v1m1-43v1m0 4v1m0 10v1m1-12v1m0 13v1m0 7v1m0 2v1m0 4v1m1-28v1m0 2v1m0 6v1m1-28v1m0 20v1m0 2v2m0 2v1m0 19v1m0 7v1m0 4v1m1-125v1m0 22v1m0 26v1m0 14v1m0 2v1m0 9v1m0 6v1m0 24v1m0 3v1m0 1v1m0 30v1m1-126v1m0 12v1m0 22v1m0 1v1m0 4v1m0 6v1m0 3v1m0 4v1m0 1v1m0 4v1m0 2v1m1-65v1m0 40v1m0 2v1m0 17v2m0 5v1m0 6v1m0 12v2m0 9v1m0 5v1m0 2v1m0 7v1m0 41v1m1-143v1m0 15v1m0 1v1m0 10v1m0 12v1m0 3v1m0 5v1m0 2v1m0 7v3m0 3v1m0 15v1m0 1v1m0 4v1m0 25v1m1-210v1m0 114v1m0 2v1m0 2v1m0 6v1m0 4v1m0 6v1m0 13v1m0 5v1m0 1v1m0 52v1m0 31v1m1-189v1m0 27v1m0 16v1m0 3v2m0 4v1m0 19v1m0 4v1m0 34v1m1-101v1m0 5v1m0 7v1m0 11v1m0 8v1m0 3v1m0 3v1m0 22v1m0 1v1m0 3v1m0 5v1m0 20v1m0 7v1m1-128v1m0 9v1m0 14v1m0 2v1m0 10v1m0 7v1m0 3v1m0 2v1m0 1v1m0 3v1m0 3v1m0 5v1m0 11v1m0 8v1m0 12v1m0 8v1m1-94v1m0 5v1m0 1v1m0 6v1m0 4v1m0 2v1m0 6v1m0 4v1m0 6v1m0 15v1m0 4v1m0 7v1m0 1v3m0 5v2m0 20v1m1-105v1m0 4v1m0 6v1m0 10v1m0 2v1m0 1v1m0 3v1m0 9v1m0 23v1m0 14v1m1-10v1m0 5v1m0 3v1m0 2v1m30-13v1m0 1v1m1-27v1m0 2v1m0 21v1m0 6v2m1-98v1m0 51v1m0 3v1m0 11v1m0 21v1m0 21v1m1-81v1m0 18v1m0 9v1m0 6v1m0 7v1m0 2v2m0 2v1m0 4v1m0 6v1m0 7v1m0 43v1m0 7v1m1-138v1m0 39v1m0 1v1m0 16v1m0 1v1m0 34v1m0 8v1m0 9v1m0 11v1m1-117v1m0 6v1m0 5v1m0 3v1m0 18v1m0 15v1m0 14v1m0 15v1m0 1v1m0 9v1m0 6v1m0 6v1m1-89v1m0 2v1m0 4v1m0 37v1m0 1v1m0 6v1m1-37v1m0 28v1m3-26v1m0 7v1m1-19v1m0 18v1m0 16v1m0 14v1m1-50v1m0 2v1m0 5v1m0 13v1m0 10v2m0 2v1m0 45v1m1-87v1m0 5v1m0 1v1m0 2v1m0 1v1m0 5v1m0 10v1m0 4v1m1-120v1m0 13v1m0 44v1m0 3v1m0 11v1m0 22v1m0 3v1m0 16v1m0 6v1m0 9v1m0 1v1m1-82v1m0 12v1m0 23v1m1-1v1m0 10v1m0 9v1m0 9v1m1-83v1m0 4v1m0 27v1m0 6v1m0 2v1m0 21v1m0 1v1m0 2v2m1-61v1m0 2v1m0 1v1m0 6v1m0 4v1m0 4v1m0 14v1m0 4v1m0 1v1m0 4v1m0 2v1m0 20v1m0 8v1m0 57v1m1-130v1m0 18v1m0 5v2m0 9v1m0 1v2m0 4v1m0 8v1m0 11v1m1-22v1m1-134v1m0 76v1m0 44v1m0 6v1m0 3v1m0 6v1m0 16v1m0 15v1m0 22v1m1-122v1m0 8v1m0 23v1m0 26v1m0 3v1m0 15v1m0 5v1m0 15v1m0 7v1m0 21v1m0 58v1m1-219v1m0 4v1m0 17v1m0 19v1m0 9v1m0 3v1m0 3v1m0 5v2m0 5v1m0 10v1m0 17v1m0 8v1m0 10v1m0 2v1m0 32v1m1-116v1m0 16v1m0 8v1m0 2v1m0 16v1m0 46v1m1-80v1m0 5v1m0 26v1m49-13v1m0 8v1m39-64v1m0 6v1m0 64v1m12-92v1m0 7v1m0 6v1m0 2v1m0 1v1m0 1v1m0 3v1m0 1v1m0 45v1m0 3v1m0 14v1m86-40v1m0 20v1m1-17v1m0 3v1m0 6v1m0 3v1m0 7v1m0 1v1m0 6v1m1-35v1m0 8v1m0 10v1m0 1v1m1-27v1m0 9v1m0 1v1m2-17v1m0 1v1m0 12v1m0 1v1m0 10v1m0 3v1m0 1v1m1-45v1m0 8v1m0 23v1m0 16v1m0 38v1m1-69v1m0 2v1m0 20v1m1-36v1m0 1v1m0 5v1m0 10v1m0 7v1m0 7v1m0 3v1m1-47v1m0 25v1m0 1v1m0 1v2m0 1v1m0 5v1m0 5v1m0 1v1m0 3v1m0 4v1m1-127v1m0 30v1m0 15v1m0 27v2m0 17v1m0 1v1m0 9v1m0 9v1m0 6v1m0 1v1m0 2v1m0 32v1m0 6v1m1-79v1m0 2v1m0 12v1m0 3v1m1-60v1m0 19v1m0 5v1m0 2v1m0 1v1m0 6v1m0 35v1m0 29v1m1-66v1m0 16v1m0 8v2m0 24v1m1-104v1m0 59v1m0 7v1m1-27v1m0 1v1m0 2v1m0 17v1m0 3v1m1-5v1m0 1v1m1-24v1m0 7v1m0 2v1m0 1v1m0 15v1m1-36v1m0 13v1m0 9v1m0 2v1m0 8v1m0 3v1m1-22v1m0 1v1m0 11v1m0 2v2m0 1v1m1-25v1m0 13v1m0 15v1m1-32v1m0 17v1m0 8v1m1-33v1m0 12v1m0 3v1m1-21v1m0 4v1m0 7v1m0 20v1m29 35v1m2-133v1m0 18v1m0 8v1m0 3v1m0 1v1m0 1v1m0 7v1m0 1v1m0 62v1m0 4v1m0 5v1m0 3v1m0 4v1m0 1v1m0 14v1m0 8v1m1-240v1m0 5v1m0 7v1m0 1v1m0 1v1m0 8v2m0 6v1m0 7v1m0 8v1m0 5v1m0 4v1m0 13v2m0 32v1m0 2v1m0 2v1m0 7v1m0 3v1m0 2v1m0 57v1m0 1v1m0 10v2m0 2v2m0 1v1m0 3v1m0 1v1m0 23v2m0 31v1m0 14v1m1-272v1m0 30v1m0 1v1m0 5v1m0 1v1m0 9v1m0 1v1m0 10v1m0 3v3m0 30v2m0 2v1m0 4v1m0 65v1m0 1v1m0 10v2m0 14v1m0 21v1m0 25v1m1-264v1m0 12v1m0 10v1m0 1v1m0 2v1m0 8v1m0 6v1m0 24v1m0 1v2m0 2v1m0 10v1m0 17v1m0 8v2m0 6v1m0 66v1m0 4v1m0 3v1m0 16v2m0 6v1m0 5v1m0 3v1m0 8v1m0 6v1m0 40v1m1-273v1m0 3v1m0 1v1m0 9v1m0 9v1m0 9v2m0 2v1m0 3v1m0 4v1m0 2v1m0 9v1m0 12v1m0 14v1m0 5v1m0 6v1m0 9v2m0 9v1m0 37v1m0 10v1m0 11v1m0 11v1m0 3v1m0 1v1m0 5v1m0 2v1m0 2v1m0 2v1m0 4v1m0 15v1m0 7v1m0 2v1m0 10v1m0 7v1m0 22v1m0 1v1m1-279v1m0 24v1m0 9v1m0 3v1m0 3v1m0 2v1m0 2v1m0 4v1m0 8v2m0 15v1m0 5v1m0 9v1m0 34v1m0 13v1m0 2v3m0 1v1m0 1v1m0 10v2m0 7v1m0 8v1m0 4v1m0 7v1m0 10v1m0 5v1m0 11v1m0 9v1m0 14v1m0 9v1m1-295v1m0 68v1m0 2v1m0 3v1m0 21v1m0 8v1m0 4v1m0 1v1m0 63v1m0 4v2m0 2v1m0 5v1m0 6v1m0 28v1m0 4v1m0 1v1m0 2v1m0 3v1m0 12v1m0 16v1m0 7v1m0 16v1m1-288v1m0 3v1m0 28v1m0 10v1m0 4v1m0 5v1m0 1v3m0 6v2m0 1v1m0 18v1m0 3v2m0 5v1m0 1v2m0 6v1m0 2v1m0 5v1m0 2v1m0 36v1m0 8v1m0 3v1m0 4v1m0 1v1m0 15v1m0 11v1m0 4v1m0 8v1m0 9v1m0 35v1m1-255v1m0 7v1m0 42v1m0 15v1m0 18v2m0 3v1m0 12v2m0 48v1m0 4v1m0 10v1m0 16v1m0 1v1m0 15v1m0 1v1m0 4v1m0 2v1m0 3v1m0 5v1m0 17v1m0 10v1m0 4v1m1-262v1m0 18v1m0 22v1m0 9v1m0 14v1m0 12v1m0 5v3m0 8v2m0 6v1m0 2v1m0 52v1m0 4v1m0 2v1m0 1v1m0 9v2m0 6v3m0 1v1m0 15v1m0 10v1m0 22v1m0 27v1m1-245v1m0 1v1m0 8v1m0 9v1m0 20v1m0 17v1m0 8v1m0 1v1m0 1v1m0 1v1m0 7v1m0 1v1m0 10v1m0 10v1m0 32v1m0 1v2m0 1v1m0 1v1m0 4v1m0 31v1m0 10v1m0 6v2m0 6v1m1-210v1m0 9v1m0 1v1m0 4v1m0 1v1m0 6v1m0 13v1m0 5v1m0 9v1m0 2v1m0 5v1m0 4v1m0 4v1m0 2v1m0 39v1m0 8v1m0 2v1m0 6v1m0 1v1m0 2v1m0 9v1m0 10v1m0 2v1m0 4v2m0 1v1m0 9v1m0 10v1m0 14v1m0 6v1m0 6v1m0 3v1m1-221v1m0 5v1m0 6v1m0 15v1m0 16v1m0 2v1m0 5v1m0 10v1m0 3v1m0 1v1m0 4v1m0 51v1m0 14v1m0 8v1m0 8v1m0 7v1m0 10v1m0 1v1m0 13v1m0 15v1m1-222v1m0 1v1m0 5v1m0 2v1m0 3v1m0 3v1m0 6v1m0 12v1m0 13v1m0 9v1m0 15v1m0 38v1m0 8v1m0 6v1m0 2v1m0 3v1m0 14v1m0 3v1m0 8v1m0 4v1m0 11v1m1-184v1m0 1v1m0 17v1m0 13v1m0 12v1m0 2v1m0 7v1m0 3v1m0 5v1m0 4v1m0 50v1m0 6v1m0 5v1m0 17v1m0 43v1m0 8v1m0 33v1m1-262v1m0 4v1m0 8v1m0 23v1m0 2v1m0 5v1m0 1v1m0 30v1m0 2v1m0 1v1m0 9v1m0 15v1m0 2v1m0 7v1m0 11v1m0 3v1m0 44v2m0 30v1m0 9v1m0 3v1m1-247v1m0 59v1m0 8v1m0 18v1m0 14v1m0 47v1m0 37v1m0 6v1m0 3v1m0 20v1m0 64v1m1-279v1m0 3v1m0 14v1m0 34v1m0 2v1m0 5v1m0 8v1m0 4v1m0 5v1m0 5v1m0 3v1m0 7v1m0 9v1m0 58v1m0 2v2m0 1v1m0 17v1m0 3v1m0 22v1m0 3v1m0 8v1m1-260v1m0 9v1m0 18v1m0 4v1m0 14v1m0 5v2m0 6v1m0 5v1m0 4v1m0 1v1m0 5v1m0 5v2m0 14v1m0 10v1m0 6v1m0 53v1m0 10v1m0 10v2m0 9v1m0 4v1m0 2v1m0 28v2m0 4v1m0 2v1m0 9v1m0 6v1m0 16v1m1-299v1m0 36v1m0 8v1m0 12v1m0 11v1m0 12v1m0 22v1m0 6v1m0 2v1m0 49v2m0 16v1m0 5v2m0 12v1m0 2v1m0 7v1m0 11v1m0 8v1m0 3v1m0 11v2m0 3v1m0 5v1m0 8v1m0 38v1m1-297v1m0 28v1m0 5v1m0 3v1m0 4v1m0 27v1m0 1v1m0 2v1m0 21v1m0 3v2m0 16v1m0 57v1m0 5v1m0 2v1m0 3v2m0 1v1m0 5v1m0 6v2m0 3v1m0 2v1m0 7v1m0 8v1m0 6v1m0 12v1m0 29v1m0 1v1m0 10v1m1-297v1m0 8v1m0 1v1m0 18v1m0 7v1m0 1v1m0 4v1m0 2v1m0 1v1m0 14v1m0 2v1m0 3v1m0 4v1m0 3v1m0 3v1m0 9v1m0 1v1m0 7v1m0 4v1m0 1v2m0 49v1m0 3v1m0 12v1m0 9v1m0 3v1m0 6v1m0 15v1m0 1v1m0 13v1m0 13v1m0 8v1m0 22v1m1-264v1m0 4v2m0 4v1m0 3v1m0 4v1m0 5v2m0 6v1m0 1v3m0 1v1m0 3v1m0 2v1m0 13v1m0 13v1m0 16v1m0 1v1m0 40v1m0 8v1m0 23v1m0 21v1m0 15v1m0 3v1m0 4v1m0 4v1m0 22v1m27-213v1m0 2v1m0 11v1m0 59v1m0 31v2m0 13v1m0 10v1m0 44v1m0 3v1m0 13v1m0 5v1m1-191v1m0 5v1m0 28v1m0 1v1m0 16v1m0 4v1m0 5v1m0 6v1m0 3v1m0 5v1m0 8v1m0 21v1m0 9v1m0 21v1m0 11v1m0 17v1m0 26v1m1-207v1m0 9v1m0 4v1m0 8v1m0 17v1m0 6v2m0 2v1m0 10v1m0 2v1m0 4v1m0 3v1m0 8v1m0 1v1m0 9v1m0 4v1m0 4v1m0 38v1m1-183v1m0 31v1m0 14v1m0 18v2m0 32v1m0 1v1m0 13v1m0 30v1m0 12v1m0 14v1m0 3v1m0 7v1m0 7v1m0 2v1m0 6v2m0 16v1m0 21v1m1-213v1m0 23v1m0 2v1m0 5v1m0 5v1m0 14v1m0 5v1m0 8v1m0 19v1m0 7v1m0 5v1m0 7v3m0 3v1m0 5v1m0 4v1m0 4v2m0 7v1m0 15v1m0 2v1m0 6v1m0 20v1m0 11v1m1-186v1m0 26v1m0 4v1m0 7v1m0 52v1m0 30v2m0 1v1m0 10v2m0 18v1m1-213v1m0 30v1m0 26v1m0 25v1m0 6v1m0 4v1m0 30v1m0 34v1m0 3v2m0 2v1m0 5v1m0 15v1m0 18v1m0 19v1m0 25v1m1-262v1m0 5v1m0 8v1m0 19v1m0 13v1m0 12v1m0 34v1m0 6v1m0 7v1m0 39v1m0 8v1m0 3v1m0 2v2m0 5v1m0 6v1m0 5v1m0 8v1m0 14v1m0 1v1m0 4v1m0 35v1m1-275v1m0 3v1m0 39v1m0 23v1m0 5v1m0 10v1m0 9v1m0 19v1m0 10v1m0 4v1m0 38v1m0 22v2m0 6v1m0 2v1m0 1v1m0 1v1m0 7v1m0 17v1m0 6v1m0 4v1m0 6v1m1-237v1m0 19v1m0 2v1m0 8v1m0 13v1m0 12v1m0 5v1m0 7v1m0 2v1m0 3v1m0 17v1m0 1v2m0 57v1m0 13v1m0 12v1m0 15v2m0 7v1m0 29v1m0 16v1m1-183v1m0 3v1m0 13v1m0 4v2m0 7v2m0 35v1m0 14v1m0 6v1m0 18v1m0 3v1m0 1v1m0 8v1m0 27v1m0 4v1m0 1v1m0 1v1m0 68v1m1-322v1m0 2v1m0 14v1m0 16v1m0 10v1m0 8v1m0 8v1m0 1v1m0 55v1m0 1v3m0 43v1m0 2v1m0 7v1m0 3v2m0 1v1m0 1v1m0 4v1m0 2v1m0 8v1m0 5v1m0 6v1m0 10v1m0 8v1m0 4v2m0 7v1m0 6v1m0 14v1m0 5v1m0 4v1m1-282v1m0 12v1m0 21v1m0 24v1m0 6v1m0 8v2m0 16v1m0 1v1m0 4v1m0 1v1m0 5v1m0 8v1m0 11v1m0 41v1m0 3v1m0 1v1m0 1v1m0 6v2m0 3v1m0 11v1m0 12v1m0 1v1m0 16v1m0 24v1m1-225v1m0 7v1m0 3v1m0 1v1m0 1v1m0 4v1m0 8v1m0 11v1m0 25v1m0 67v1m0 17v3m0 1v1m0 29v1m0 10v1m0 5v1m0 16v1m1-179v1m0 10v1m0 5v1m0 4v1m0 19v1m0 35v1m0 6v1m0 3v1m0 10v1m0 2v1m0 2v1m0 10v1m0 11v1m0 20v1m0 7v1m0 4v1m1-256v1m0 10v1m0 1v1m0 25v1m0 10v1m0 1v1m0 50v1m0 6v1m0 14v1m0 1v1m0 50v1m0 3v1m0 1v1m0 3v2m0 9v1m0 10v1m0 6v1m0 1v2m0 1v1m0 1v2m0 3v1m0 1v1m0 12v1m0 4v2m0 13v1m0 25v1m0 3v1m1-272v1m0 29v1m0 2v1m0 2v1m0 1v1m0 3v1m0 15v1m0 27v1m0 1v1m0 18v1m0 1v1m0 24v1m0 1v2m0 20v1m0 4v1m0 8v2m0 15v1m0 14v1m0 4v2m0 13v1m0 12v2m1-241v1m0 59v1m0 1v1m0 10v1m0 1v1m0 19v1m0 1v1m0 1v1m0 3v1m0 1v2m0 4v1m0 7v1m0 41v1m0 17v1m0 4v1m0 4v1m0 2v1m0 4v2m0 6v1m0 1v1m1-188v1m0 32v1m0 1v1m0 35v1m0 5v1m0 2v1m0 7v1m0 1v2m0 1v1m0 1v1m0 50v1m0 11v1m0 6v1m0 8v1m0 1v1m0 42v1m0 4v1m0 30v1m1-246v1m0 35v1m0 10v1m0 7v1m0 20v2m0 6v1m0 2v1m0 32v1m0 7v1m0 17v1m0 7v1m0 1v1m0 4v2m0 9v1m0 14v1m0 2v1m0 11v1m0 14v1m0 3v1m0 8v1m1-263v1m0 34v1m0 2v1m0 4v1m0 9v1m0 3v1m0 2v1m0 71v1m0 2v1m0 9v1m0 3v1m0 5v1m0 15v1m0 1v1m0 15v1m0 2v1m0 44v1m0 10v1m0 6v1m0 8v1m0 1v1m0 3v1m0 15v1m1-234v1m0 1v1m0 2v1m0 9v1m0 2v1m0 21v1m0 8v1m0 5v1m0 4v1m0 12v1m0 2v2m0 1v1m0 5v1m0 3v1m0 4v1m0 13v1m0 2v1m0 4v1m0 16v1m0 3v1m0 3v1m0 2v1m0 2v1m0 8v1m0 4v1m0 15v1m0 8v1m0 6v1m0 9v1m0 1v1m1-246v1m0 39v1m0 5v1m0 17v1m0 25v1m0 6v1m0 8v1m0 8v1m0 20v1m0 5v1m0 2v1m0 36v1m0 17v1m0 13v1m0 3v1m1-187v1m0 8v1m0 18v1m0 1v1m0 3v1m0 7v1m0 13v1m0 5v1m0 2v1m0 8v1m0 8v1m0 42v2m0 17v1m0 1v1m0 4v1m0 5v1m0 10v1m0 2v1m0 2v1m0 4v1m0 7v1m0 12v1m0 21v1m1-239v1m0 1v1m0 19v1m0 13v1m0 13v1m0 4v1m0 14v1m0 21v1m0 13v1m0 3v1m0 2v2m0 5v1m0 11v1m0 20v1m0 24v1m0 41v1m1-187v1m0 3v2m0 12v1m0 2v1m0 1v1m0 15v1m0 10v1m0 5v1m0 51v1m0 28v1m0 6v1m0 6v1m0 6v1m0 5v1m1-158v1m0 11v1m0 14v1m0 3v1m0 2v1m0 3v1m0 5v1m0 3v1m0 2v1m0 15v1m0 2v1m0 3v1m0 2v1m0 3v1m0 8v1m0 7v1m0 2v1m0 5v2m0 4v1m0 3v1m0 1v1m0 12v1m0 13v1m0 23v1m1-170v1m0 4v1m0 6v1m0 14v1m0 2v1m0 6v1m0 1v1m0 5v1m0 35v1m0 1v1m0 9v1m0 12v1m0 24v1m0 10v1m0 2v1m0 1v1m0 1v1m0 14v1m0 30v1m27-284v1m0 9v1m0 2v1m0 1v1m0 30v1m0 48v1m0 86v1m0 9v1m0 17v1m0 33v1m0 5v1m0 2v1m4-182v1m0 1v1m0 15v1m0 6v1m0 1v1m0 3v1m0 2v2m0 4v1m0 3v1m0 14v1m0 6v1m0 19v1m0 1v1m0 21v1m0 21v1m0 31v1m0 13v1m1-223v1m0 13v1m0 16v1m0 38v1m0 16v1m0 14v2m0 2v1m0 1v1m0 13v1m0 14v1m0 9v1m0 9v1m0 8v1m0 9v1m0 12v1m0 4v1m0 6v1m0 5v1m0 9v1m0 15v2m0 6v1m0 27v1m0 12v1m1-262v2m0 12v1m0 8v2m0 18v1m0 7v1m0 1v1m0 1v1m0 20v1m0 22v1m0 12v1m0 7v1m0 9v1m0 8v1m0 9v1m0 1v2m0 2v1m0 7v1m0 5v1m0 3v1m0 5v1m0 7v1m0 4v1m0 17v1m0 12v1m0 17v1m1-247v1m0 7v1m0 8v3m0 7v1m0 1v1m0 3v1m0 6v1m0 16v1m0 7v1m0 7v1m0 13v1m0 32v1m0 18v2m0 3v2m0 15v2m0 7v1m0 1v1m0 17v1m0 1v1m1-184v1m0 2v1m0 8v1m0 2v1m0 7v1m0 6v1m0 9v1m0 10v1m0 6v1m0 1v1m0 6v1m0 10v1m0 52v1m0 5v1m0 10v2m0 9v1m0 5v1m0 7v1m0 8v1m0 11v1m0 7v1m0 8v2m0 19v1m1-222v1m0 32v1m0 3v1m0 17v1m0 1v2m0 1v1m0 78v1m0 3v1m0 23v1m0 4v2m0 31v1m1-249v1m0 31v1m0 25v1m0 10v1m0 4v1m0 7v1m0 3v2m0 6v1m0 2v1m0 1v1m0 73v2m0 16v1m0 17v1m0 3v1m0 2v1m1-223v1m0 17v1m0 8v1m0 7v1m0 1v1m0 10v1m0 14v1m0 29v1m0 1v1m0 2v2m0 1v2m0 9v1m0 19v1m0 42v1m0 19v1m0 7v1m0 7v2m0 4v1m0 38v1m0 2v1m1-226v1m0 4v1m0 5v1m0 1v1m0 19v1m0 23v1m0 1v1m0 2v1m0 3v1m0 2v2m0 4v2m0 3v1m0 46v1m0 1v1m0 4v1m0 5v1m0 2v1m0 1v1m0 6v2m0 17v1m0 5v2m0 49v1m0 2v1m0 5v1m0 6v1m0 1v1m0 3v1m0 12v1m0 1v1m0 1v1m1-242v1m0 1v1m0 21v1m0 6v1m0 12v1m0 33v1m0 31v1m0 12v2m0 1v4m0 2v1m0 3v1m0 2v1m0 1v1m0 2v1m0 20v1m0 34v1m0 14v1m0 1v1m0 7v1m0 12v1m1-290v1m0 6v1m0 16v1m0 3v1m0 2v1m0 8v1m0 3v1m0 15v1m0 2v1m0 9v1m0 1v1m0 8v1m0 9v1m0 63v1m0 10v1m0 2v2m0 1v1m0 8v1m0 4v1m0 1v1m0 3v1m0 1v1m0 4v1m0 6v1m0 3v1m0 2v1m0 2v1m0 1v1m0 23v1m1-258v1m0 12v1m0 10v1m0 1v1m0 29v1m0 14v1m0 32v1m0 3v1m0 3v1m0 6v1m0 9v1m0 49v1m0 2v1m0 2v1m0 1v1m0 4v1m0 7v1m0 6v1m0 18v1m0 20v1m0 13v1m0 20v1m0 7v1m0 7v1m0 1v1m0 9v1m1-294v1m0 1v2m0 13v1m0 5v1m0 18v1m0 1v1m0 13v1m0 9v1m0 4v1m0 14v1m0 5v1m0 3v1m0 1v1m0 47v1m0 3v1m0 3v1m0 2v2m0 6v1m0 2v2m0 10v1m0 11v1m0 21v3m0 25v1m0 1v1m0 1v1m0 6v1m0 3v1m0 25v1m0 8v1m1-303v1m0 39v1m0 7v1m0 3v1m0 7v1m0 1v1m0 4v1m0 2v1m0 22v1m0 17v1m0 56v1m0 1v2m0 1v1m0 11v1m0 15v1m0 8v1m0 12v1m0 8v2m0 1v1m0 4v1m0 2v1m0 1v1m0 3v1m0 25v1m1-271v1m0 39v1m0 39v1m0 4v1m0 7v1m0 10v1m0 45v1m0 12v2m0 5v1m0 8v1m0 19v1m0 13v1m0 8v1m0 1v1m1-225v1m0 17v1m0 2v1m0 16v1m0 15v1m0 3v1m0 4v1m0 8v1m0 3v1m0 12v1m0 14v1m0 7v2m0 16v1m0 9v1m0 14v1m0 1v1m0 7v1m0 14v1m0 12v1m0 1v2m0 2v1m0 1v1m0 1v1m0 1v1m0 14v1m0 14v1m1-209v1m0 7v1m0 34v1m0 2v2m0 3v1m0 3v1m0 6v2m0 11v1m0 2v1m0 4v1m0 4v1m0 3v1m0 3v1m0 17v1m0 4v1m0 1v2m0 8v1m0 3v1m0 1v1m0 12v1m0 5v1m0 13v1m0 26v1m0 39v1m1-263v1m0 3v1m0 8v1m0 11v1m0 11v1m0 7v1m0 5v1m0 7v1m0 1v1m0 2v1m0 8v1m0 8v2m0 3v1m0 2v1m0 15v1m0 13v1m0 1v1m0 43v2m0 4v1m0 8v1m0 1v1m0 2v1m0 25v1m0 48v1m1-258v1m0 14v1m0 2v1m0 7v1m0 8v1m0 1v1m0 10v1m0 5v1m0 30v1m0 4v1m0 5v1m0 3v1m0 5v1m0 8v1m0 2v1m0 8v1m0 5v1m0 12v1m0 16v1m0 55v1m0 7v1m0 15v1m0 11v1m0 7v1m1-256v1m0 15v1m0 12v1m0 4v1m0 1v1m0 3v1m0 22v1m0 6v1m0 11v1m0 6v1m0 6v1m0 8v2m0 11v1m0 1v1m0 2v1m0 4v2m0 1v1m0 14v1m0 5v1m0 16v2m0 8v1m0 17v1m0 1v1m0 20v1m1-226v1m0 21v1m0 11v1m0 4v1m0 7v1m0 4v1m0 25v2m0 10v1m0 14v1m0 5v1m0 1v1m0 6v1m0 7v2m0 1v1m0 2v2m0 9v1m0 9v1m0 9v2m0 5v1m0 11v1m0 18v1m0 14v1m0 16v2m0 23v1m1-236v1m0 6v1m0 2v1m0 5v1m0 11v1m0 2v1m0 6v1m0 7v1m0 3v1m0 17v1m0 9v1m0 4v1m0 1v1m0 7v1m0 1v2m0 3v1m0 3v1m0 3v1m0 3v1m0 16v1m0 29v2m0 24v1m0 8v1m0 19v1m0 23v1m1-275v1m0 5v1m0 6v1m0 20v1m0 3v1m0 14v1m0 6v1m0 3v1m0 26v1m0 30v1m0 20v1m0 44v1m0 8v1m0 9v1m0 2v1m0 29v1m0 1v1m0 6v1m0 23v1m0 20v1m1-250v1m0 3v1m0 30v1m0 20v1m0 3v1m0 9v1m0 49v1m0 24v1m0 18v1m0 89v1"/>
<path stroke="#5f9ec9" d="M104 252v1m1-21v1m0 19v1m1-25v1m0 4v1m0 3v1m0 17v1m0 5v1m1-45v1m0 16v2m0 15v1m0 4v2m0 12v1m1-38v1m0 1v1m1-5v1m0 26v1m1-2v1m1-3v1m1 1v1m0 1v1m1-50v1m0 24v1m0 6v1m0 4v1m0 3v1m1 1v1m0 2v1m1-39v1m0 16v1m0 1v1m0 9v1m1 2v1m2-24v1m0 7v1m0 2v1m0 9v1m1-24v1m0 2v1m0 26v1m1-21v1m0 5v1m0 6v1m0 1v1m0 6v1m1-51v1m0 22v1m0 15v1m0 11v1m1-77v1m0 17v1m0 32v1m0 8v1m0 3v1m0 4v1m0 4v1m0 1v1m1-52v1m0 2v1m0 22v1m0 11v1m0 3v1m0 5v1m1-7v2m0 29v1m1-56v1m0 15v1m0 11v1m0 7v1m1-47v1m0 11v1m0 1v1m0 33v1m0 1v1m1-33v1m0 17v1m0 2v1m1-66v1m0 20v1m0 26v1m0 8v1m0 25v1m1-58v1m0 12v1m0 3v1m0 2v1m0 2v1m0 1v2m0 4v1m0 9v1m1-26v1m0 2v1m0 12v1m0 2v1m32 7v1m0 14v1m1-49v1m0 3v1m0 6v1m0 10v1m0 3v1m0 1v2m0 29v1m0 56v1m1-123v1m0 1v1m0 12v2m0 15v1m0 6v1m0 24v1m1-69v1m0 4v1m0 14v1m0 15v1m0 1v1m0 8v2m1 0v1m1-35v1m0 3v1m2-11v1m1 7v1m0 3v1m0 10v1m0 4v1m1-19v2m1-3v1m0 15v1m1-16v1m1-21v1m0 12v1m0 1v1m0 5v1m0 1v1m0 3v1m0 5v1m0 3v1m0 4v1m0 1v1m0 2v1m1-36v1m0 25v1m1-22v1m1-1v1m0 1v1m1-11v1m0 17v1m0 11v1m0 1v1m1-26v1m0 7v1m0 14v2m1-23v1m0 6v1m0 14v1m1-40v1m0 6v1m0 35v2m0 9v1m1-67v1m0 18v1m0 13v1m0 31v1m0 6v1m0 9v1m0 21v1m1-110v1m0 25v1m0 10v1m0 12v1m0 5v1m0 9v1m1-53v1m0 15v1m0 7v2m0 2v1m0 2v2m0 3v1m0 1v1m0 1v1m0 3v1m1-23v1m0 18v1m0 4v1m186-25v1m0 5v1m1 8v1m1-16v1m0 18v1m1-14v2m0 9v1m2-19v1m1-7v1m0 2v1m0 20v1m1-1v1m0 6v1m1-27v2m0 22v1m1-24v1m0 3v2m0 1v1m0 7v1m1-26v1m0 28v1m1-19v1m0 23v1m1-51v1m0 9v1m0 2v1m0 12v1m0 3v1m0 13v2m2-22v1m3-3v1m0 1v2m0 19v1m0 4v1m1-35v1m0 3v1m0 7v1m0 1v1m0 6v2m0 4v1m1-10v1m0 3v1m1 4v1m1-2v1m1-14v1m0 9v1m0 1v1m0 4v1m1-20v1m0 7v1m31-89v1m0 14v1m0 2v1m0 6v1m0 3v1m0 31v1m0 63v1m0 2v1m1-137v1m0 34v1m0 4v1m0 4v2m0 73v1m0 1v1m0 8v1m0 3v1m0 6v1m0 2v1m0 25v1m0 5v2m0 11v2m1-186v1m0 1v1m0 22v1m0 1v1m0 4v1m0 1v2m0 5v1m0 5v1m0 2v1m0 7v1m0 68v1m0 8v1m0 7v1m0 6v1m0 7v2m0 7v1m0 14v1m1-191v1m0 14v1m0 15v1m0 7v1m0 1v2m0 2v1m0 1v1m0 1v1m0 76v2m0 8v1m0 5v1m0 11v1m0 5v1m0 7v1m1-185v1m0 40v1m0 6v1m0 3v1m0 3v1m0 12v2m0 5v1m0 7v1m0 61v1m0 9v4m0 1v1m0 2v1m0 3v1m0 6v1m0 21v1m1-155v1m0 9v1m0 19v1m0 64v1m0 3v1m0 23v1m0 6v1m0 25v1m1-206v1m0 37v1m0 3v1m0 10v1m0 14v1m0 2v1m0 18v1m0 5v1m0 56v3m0 8v1m0 6v1m0 4v1m0 4v1m0 1v1m0 31v1m1-157v1m0 9v1m0 8v2m0 11v1m0 8v1m0 38v1m0 8v1m0 5v1m0 5v1m0 3v1m0 1v1m0 4v1m0 3v1m0 17v1m0 18v1m0 23v1m1-217v1m0 18v1m0 6v1m0 17v1m0 9v3m0 8v1m0 72v2m0 6v1m0 4v1m0 11v2m1-162v1m0 28v1m0 14v1m0 86v1m0 1v1m0 2v1m0 19v1m0 4v1m1-146v1m0 5v1m0 5v1m0 4v1m0 3v1m0 2v1m0 2v1m0 6v1m0 1v1m0 2v1m0 61v1m0 4v1m0 2v2m0 9v1m0 7v1m0 6v1m0 2v1m0 12v1m1-148v1m0 13v1m0 1v1m0 5v1m0 10v1m0 11v1m0 33v1m0 21v1m0 13v1m0 2v2m0 6v1m0 18v1m0 4v1m0 18v1m1-170v1m0 9v1m0 27v1m0 2v1m0 6v1m0 56v1m0 1v1m0 1v1m0 1v1m0 4v1m0 7v1m0 19v1m0 6v1m0 3v2m1-121v1m0 3v1m0 16v1m0 40v1m0 1v1m0 1v1m0 8v1m0 4v1m0 2v1m0 4v1m0 3v1m0 17v1m0 7v1m1-143v1m0 1v1m0 2v1m0 86v1m0 8v2m0 10v1m0 2v1m0 14v1m0 8v1m1-176v1m0 18v1m0 26v1m0 2v1m0 13v1m0 9v1m0 8v1m0 10v1m0 5v1m0 4v3m0 10v1m0 11v1m0 19v1m0 11v1m0 2v1m0 15v2m0 3v1m1-177v1m0 17v1m0 6v2m0 2v1m0 67v1m0 10v1m0 11v1m1-155v1m0 35v1m0 1v1m0 3v1m0 15v1m0 4v1m0 3v1m0 2v2m0 4v1m0 2v1m0 77v1m0 1v1m0 3v1m0 16v1m0 4v1m0 5v1m1-142v1m0 12v1m0 3v1m0 6v1m0 78v1m0 5v1m0 4v1m0 8v1m0 8v1m0 79v1m1-272v1m0 9v1m0 16v1m0 19v1m0 5v1m0 1v1m0 4v1m0 6v2m0 35v1m0 16v1m0 32v1m0 14v1m0 1v1m0 10v1m0 10v1m0 9v1m0 3v1m0 22v1m1-188v1m0 22v1m0 2v1m0 2v1m0 3v1m0 80v1m0 11v2m0 3v1m0 5v1m0 13v2m0 17v1m1-177v1m0 7v1m0 8v1m0 3v1m0 12v1m0 4v1m0 12v1m0 9v1m0 9v1m0 51v1m0 3v1m0 1v2m0 7v1m0 6v1m0 1v1m0 15v1m0 4v1m0 2v1m0 4v1m0 3v1m1-179v1m0 24v1m0 6v1m0 6v1m0 32v1m0 6v1m0 43v1m0 33v1m0 9v1m0 17v1m0 2v1m27-132v1m0 5v1m0 16v1m0 3v1m0 11v1m0 38v1m1-92v1m0 5v1m0 22v1m0 3v1m0 5v1m0 4v1m0 6v1m0 7v1m0 5v1m0 3v1m0 5v1m0 10v1m0 11v2m1-98v1m0 14v1m0 15v1m0 8v1m0 19v1m0 7v1m1-90v1m0 37v1m0 1v1m0 1v1m0 3v1m0 2v1m0 5v1m0 12v1m0 10v1m0 1v1m0 5v2m0 11v1m0 4v1m1-107v1m0 11v1m0 5v1m0 1v1m0 13v1m0 14v1m0 3v1m0 1v1m0 3v1m0 5v1m0 5v1m0 6v1m0 18v1m0 4v1m0 7v1m0 4v1m0 24v1m1-35v1m0 3v1m0 12v1m1-123v1m0 1v1m0 1v1m0 4v1m0 8v1m0 1v1m0 9v1m0 1v1m0 53v1m0 10v1m0 11v2m0 2v1m0 26v1m1-167v1m0 23v1m0 8v1m0 1v1m0 4v1m0 4v1m0 22v1m0 4v1m0 4v1m0 3v1m0 41v1m0 8v1m0 1v1m0 4v2m0 5v1m0 6v1m0 4v1m0 1v1m0 5v1m0 1v1m0 1v1m0 5v1m1-192v1m0 27v1m0 7v1m0 2v1m0 1v1m0 15v1m0 2v1m0 2v1m0 52v1m0 5v1m0 10v1m0 15v1m0 1v2m0 9v1m0 4v1m0 1v1m0 11v2m1-181v1m0 6v1m0 37v1m0 2v1m0 3v1m0 3v1m0 4v1m0 1v1m0 2v1m0 5v1m0 1v1m0 2v1m0 51v1m0 25v1m0 3v2m0 3v2m0 7v2m0 8v1m0 13v1m1-167v1m0 16v2m0 5v1m0 13v1m0 5v1m0 62v2m0 1v1m0 2v1m0 12v2m0 5v1m0 10v2m0 5v1m0 5v1m1-219v1m0 5v1m0 26v1m0 38v1m0 6v1m0 2v2m0 10v1m0 13v1m0 70v1m0 3v1m0 2v1m0 3v1m0 1v1m0 40v1m1-202v1m0 39v1m0 3v1m0 2v1m0 1v1m0 12v1m0 3v2m0 65v1m0 6v1m0 4v1m0 19v1m0 4v1m1-144v1m0 22v1m0 2v1m0 8v1m0 12v1m0 64v1m0 15v3m0 9v1m0 6v1m0 1v1m1-148v1m0 7v1m0 20v1m0 3v1m0 5v1m0 59v1m0 13v1m0 9v1m1-157v1m0 30v1m0 2v1m0 1v1m0 5v1m0 1v1m0 12v1m0 3v1m0 5v1m0 1v2m0 11v1m0 1v1m0 15v1m0 38v1m0 2v2m0 5v1m0 1v1m0 9v1m0 2v1m0 7v1m0 3v1m0 10v1m1-162v1m0 2v1m0 11v1m0 18v1m0 3v3m0 1v1m0 2v1m0 50v1m0 1v1m0 12v1m0 1v1m0 10v2m0 14v1m0 17v2m1-168v1m0 30v1m0 2v1m0 1v1m0 6v1m0 12v1m0 67v1m0 9v1m0 7v1m0 20v1m0 1v1m0 2v1m1-156v1m0 16v1m0 3v2m0 5v2m0 22v1m0 6v1m0 28v1m0 11v1m0 14v1m0 21v1m0 19v1m0 1v1m0 1v1m1-163v1m0 19v1m0 7v2m0 4v1m0 2v1m0 4v1m0 7v1m0 8v1m0 13v1m0 38v1m0 2v1m0 8v1m0 5v1m0 3v1m0 6v1m0 6v1m0 3v1m0 10v1m1-222v1m0 43v1m0 4v1m0 10v1m0 18v1m0 5v1m0 12v1m0 9v1m0 3v1m0 1v1m0 6v3m0 12v1m0 2v1m0 6v1m0 13v1m0 44v1m0 26v1m0 3v1m1-180v1m0 14v2m0 5v1m0 10v1m0 16v1m0 7v1m0 13v1m0 16v1m0 2v1m0 1v1m0 9v1m0 2v1m0 4v1m0 2v1m0 2v1m0 12v1m0 5v1m1-140v1m0 9v1m0 11v1m0 4v1m0 9v1m0 4v1m0 17v1m0 6v1m0 15v1m0 15v1m0 1v2m0 4v1m0 7v1m0 3v1m0 6v1m1-121v1m0 24v1m0 18v1m0 4v1m0 22v1m0 7v1m0 1v1m0 4v1m0 4v1m0 1v2m0 2v1m0 1v1m0 1v1m1-56v1m0 12v1m0 6v1m0 6v1m0 4v1m0 3v2m0 1v1m0 3v1m0 22v1m0 9v1m1-102v1m0 5v1m0 1v1m0 19v1m0 3v1m0 34v1m0 10v1m0 1v1m0 2v1m0 7v1m0 1v1m0 1v1m0 3v1m0 3v1m1-69v1m0 3v1m0 5v1m0 17v1m0 13v1m0 7v1m1-95v1m0 13v1m0 8v1m0 7v1m0 12v1m0 23v1m0 24v1m0 19v1m27-177v1m0 13v1m0 31v1m0 8v1m0 131v1m0 15v1m4-160v1m0 32v1m0 27v1m0 2v1m0 4v1m0 13v1m0 2v1m0 3v1m0 12v1m0 4v1m0 10v1m0 5v1m0 20v2m1-132v1m0 2v1m0 6v1m0 3v1m0 10v1m0 2v1m0 4v1m0 13v2m0 9v1m0 4v1m0 5v1m0 4v1m0 12v1m0 15v1m0 28v1m1-197v1m0 66v1m0 3v1m0 6v1m0 1v1m0 9v1m0 3v1m0 3v1m0 1v1m0 8v1m0 10v4m0 18v1m0 1v2m0 10v1m0 7v1m1-103v1m0 34v1m0 53v1m0 10v2m0 5v3m0 1v1m0 3v1m1-113v1m0 18v1m0 8v1m0 64v1m0 7v1m0 1v1m0 1v1m0 7v1m0 12v1m0 2v1m1-132v1m0 9v1m0 5v1m0 2v1m0 3v1m0 74v1m0 12v1m0 9v1m0 12v1m1-129v1m0 4v2m0 6v1m0 18v1m0 61v1m0 4v1m0 2v1m0 5v2m0 4v1m0 11v1m0 13v1m1-194v1m0 54v1m0 3v1m0 1v1m0 7v1m0 3v1m0 71v1m0 10v1m0 4v1m1-162v2m0 22v1m0 7v1m0 6v1m0 1v2m0 7v1m0 8v1m0 1v1m0 2v1m0 3v1m0 7v1m0 11v1m0 61v1m0 2v1m0 4v1m0 3v1m0 2v1m0 27v1m0 8v1m1-184v1m0 24v1m0 2v1m0 26v1m0 36v1m0 38v1m0 12v2m0 4v1m0 6v1m0 3v1m0 29v1m0 10v1m0 29v1m1-232v1m0 15v1m0 2v2m0 7v1m0 9v2m0 1v1m0 13v1m0 81v1m0 3v1m0 1v1m0 4v1m0 3v1m0 1v1m0 8v1m0 11v1m0 16v1m0 36v1m1-226v1m0 27v2m0 14v1m0 2v1m0 9v1m0 15v1m0 6v1m0 28v1m0 6v1m0 1v1m0 13v1m0 11v1m0 18v1m0 8v1m0 5v1m0 3v1m0 25v1m0 5v1m1-207v1m0 1v1m0 13v2m0 7v1m0 2v1m0 3v1m0 1v2m0 1v1m0 6v1m0 60v1m0 3v1m0 17v1m0 9v1m0 9v1m0 23v1m0 22v1m0 25v1m0 12v1m1-252v1m0 23v1m0 12v1m0 10v5m0 26v1m0 57v1m0 9v1m0 3v1m0 7v1m0 4v1m0 7v1m1-153v1m0 7v1m0 5v1m0 2v2m0 6v1m0 12v1m0 4v1m0 2v1m0 11v1m0 42v1m0 2v2m0 1v1m0 12v2m1-119v1m0 10v1m0 13v1m0 13v1m0 5v1m0 8v1m0 3v1m0 2v1m0 3v1m0 9v1m0 1v1m0 2v1m0 1v1m0 8v1m0 10v1m0 8v1m0 12v1m0 4v1m0 2v1m0 16v1m1-151v1m0 10v1m0 4v1m0 19v1m0 14v1m0 3v1m0 9v1m0 12v1m0 1v1m0 2v1m0 2v1m0 8v1m0 1v1m0 15v1m0 3v1m0 39v1m1-135v1m0 26v2m0 4v3m0 6v1m0 4v1m0 15v1m0 5v1m0 1v1m0 8v2m0 3v2m0 6v1m0 17v1m0 5v1m0 10v1m1-131v1m0 14v1m0 6v2m0 2v1m0 5v1m0 1v1m0 3v3m0 2v1m0 27v1m0 10v1m0 2v1m0 16v1m0 13v1m0 15v1m1-153v1m0 3v1m0 16v1m0 7v1m0 6v1m0 10v1m0 2v1m0 5v1m0 1v2m0 4v1m0 3v2m0 4v1m0 8v1m0 6v2m0 4v1m0 8v1m0 2v1m0 9v1m0 26v2m1-150v1m0 31v1m0 14v3m0 3v1m0 9v1m0 5v2m0 23v1m0 2v1m0 10v2m0 2v4m0 2v1m0 12v1m0 8v1m1-132v1m0 5v1m0 3v1m0 11v1m0 9v2m0 9v1m0 3v1m0 7v1m0 5v1m0 12v1m0 9v2m0 5v1m0 13v1m0 1v1m0 9v1m0 4v1m0 18v1m0 18v1m1-167v1m0 7v1m0 26v1m0 29v1m0 9v1m0 28v1m0 1v1m0 28v1m1-124v1m0 3v1m0 11v1m0 14v1m0 26v1m0 2v1m0 4v1m0 12v1m0 9v1m0 45v1"/>
<path stroke="#5899c7" d="M104 232v1m0 24v1m0 3v1m2-11v1m0 4v1m1-12v1m0 7v1m0 1v1m1-19v1m0 16v1m1-1v1m1-15v1m0 5v1m0 3v1m3-25v1m0 19v1m0 1v1m0 11v1m1-27v1m1-8v1m0 21v1m1-16v1m0 2v1m0 8v1m0 1v1m1-1v1m1-23v1m0 13v1m0 5v1m0 2v1m0 3v1m0 1v1m1-23v1m0 2v1m0 7v4m0 2v1m0 6v1m1-27v1m0 15v1m0 6v1m1-31v1m0 3v1m0 4v1m0 3v1m0 11v1m0 1v1m0 3v1m1-28v1m0 1v1m0 3v1m0 2v1m0 6v1m0 10v1m0 3v1m1-51v1m1 11v1m0 6v1m0 11v1m0 5v1m0 10v1m1-32v1m0 5v1m0 1v2m0 3v1m0 14v1m1-29v1m0 11v1m0 6v1m0 1v2m0 5v1m0 9v1m1-34v1m0 11v1m0 6v1m0 16v1m1-40v1m0 5v1m0 15v1m0 3v1m0 13v1m1-33v1m0 2v1m0 4v2m0 5v1m0 3v1m1-20v1m0 4v1m30 11v1m2-4v1m0 32v1m1-50v1m0 17v1m1-4v1m0 3v1m0 3v1m0 22v1m1-57v1m0 3v1m0 1v1m0 18v1m0 2v1m1-22v1m0 1v1m0 7v1m0 7v2m0 3v1m1-22v1m0 9v1m0 7v1m3-19v2m1-5v1m0 1v1m0 13v1m0 7v1m0 7v1m1-32v1m0 20v2m1-25v1m0 16v1m0 4v1m1-7v1m0 34v1m1-53v1m1 10v1m0 8v1m0 3v1m0 5v1m1-31v1m0 24v1m0 4v1m0 1v1m1-16v1m0 5v1m1-6v1m0 1v2m1-14v1m0 14v1m1-28v1m0 8v1m0 7v3m0 3v3m0 2v1m2-24v2m0 22v1m1-21v1m0 11v2m0 2v1m1-17v1m0 9v1m0 5v1m0 2v1m187-24v1m0 5v1m0 16v1m1-20v1m0 12v1m1-14v1m0 5v1m0 2v1m0 14v1m1-22v1m1-16v1m0 8v1m1 22v3m2-19v1m0 2v1m0 2v1m0 7v1m0 1v1m1-19v1m0 15v1m0 5v1m1-20v1m0 1v1m2-8v1m1 21v1m1-20v1m0 11v1m1-18v1m0 22v1m1-22v1m1 17v2m0 4v1m1-27v2m0 6v2m0 2v1m0 5v1m0 2v1m0 2v1m1-29v1m0 21v1m1-3v1m2-14v2m0 14v1m1-18v1m0 11v1m0 6v1m30 38v1m0 6v1m1-169v1m0 58v2m0 4v1m0 95v1m0 5v1m0 1v1m0 6v1m1-153v1m0 8v1m0 1v1m0 15v1m0 8v1m0 4v1m0 2v1m0 9v1m0 52v1m0 9v1m0 4v1m0 24v1m0 4v1m0 6v1m0 15v1m0 2v1m0 1v1m0 5v1m1-189v1m0 18v1m0 1v1m0 10v1m0 7v1m0 84v1m0 12v1m0 2v1m0 1v1m0 3v1m0 8v1m1-125v1m0 12v2m0 4v1m0 80v1m0 4v1m0 2v1m0 1v1m0 4v1m0 1v1m1-133v1m0 14v2m0 95v1m0 10v1m0 4v1m0 20v1m0 2v1m0 18v1m1-188v1m0 33v1m0 11v1m0 81v1m0 6v1m0 2v1m0 1v1m0 4v2m0 7v1m0 6v1m0 6v1m0 15v1m0 3v1m1-189v1m0 24v1m0 5v1m0 6v1m0 1v1m0 13v1m0 74v1m0 1v2m0 3v1m0 1v1m0 5v1m0 1v1m0 3v1m0 2v1m1-197v1m0 30v1m0 26v2m0 4v1m0 1v1m0 8v1m0 112v1m0 9v1m0 4v1m1-147v1m0 11v1m0 2v1m0 4v1m0 2v1m0 4v1m0 7v1m0 85v1m0 2v2m0 9v1m0 1v1m0 6v1m1-142v1m0 13v2m0 2v1m0 9v1m0 1v1m0 84v1m1-151v1m0 56v1m0 2v1m0 1v1m0 77v1m0 2v1m0 1v1m0 4v1m0 12v2m0 4v1m0 6v1m1-128v1m0 5v1m0 1v1m0 3v3m0 7v1m0 72v1m0 3v1m0 2v1m0 27v1m1-134v1m0 4v1m0 13v1m0 5v1m0 74v1m0 3v1m0 22v1m1-128v1m0 5v1m0 4v1m0 1v1m0 1v1m0 2v1m0 88v1m0 8v1m0 5v1m0 34v1m1-157v1m0 84v1m0 3v1m0 9v1m0 10v1m0 4v1m0 7v1m1-157v1m0 17v1m0 1v1m0 3v1m0 6v1m0 16v1m0 14v1m0 11v1m0 3v2m0 2v1m0 1v1m0 3v1m0 11v1m0 4v2m0 43v1m0 9v1m2-153v2m0 5v1m0 14v1m0 15v1m0 81v1m0 10v1m0 5v1m1-165v1m0 5v1m0 19v1m0 8v1m0 17v1m0 2v1m0 3v1m0 97v2m0 1v1m0 15v1m1-167v1m0 22v1m0 1v1m0 16v1m0 2v3m0 6v2m0 1v1m0 1v1m0 68v1m0 11v2m0 5v2m0 2v1m0 2v1m0 1v2m0 27v1m0 20v1m1-219v1m0 22v1m0 25v1m0 4v1m0 1v2m0 94v1m0 3v1m0 4v1m0 25v1m1-169v1m0 8v1m0 7v1m0 4v1m0 6v2m0 1v1m0 2v1m0 8v1m0 1v1m0 3v1m0 75v1m0 5v1m0 5v1m0 1v1m0 1v1m0 9v1m0 5v2m0 7v1m0 2v1m1-161v1m0 12v1m0 23v1m0 10v1m0 5v1m0 12v1m0 13v1m0 7v1m0 1v1m27-61v1m0 8v1m0 21v1m0 35v2m0 26v1m1-78v1m0 22v1m0 9v1m0 8v1m0 2v1m0 1v1m0 5v1m0 13v1m0 1v1m0 11v1m1-92v1m0 5v1m0 3v1m0 4v1m0 4v1m0 2v1m0 30v1m0 11v1m0 9v1m0 1v1m0 2v1m0 1v1m1-58v1m0 12v1m0 9v1m0 1v1m0 14v1m0 4v1m0 33v1m0 1v1m0 27v1m1-138v1m0 14v1m0 4v1m0 4v1m0 14v1m0 39v1m0 17v1m1-83v1m0 36v1m0 1v1m0 30v1m0 9v1m1-130v1m0 18v1m0 2v1m0 2v1m0 2v1m0 1v1m0 7v1m0 79v1m0 6v1m0 26v2m1-178v1m0 21v1m0 7v1m0 7v1m0 7v1m0 1v1m0 3v1m0 6v1m0 6v1m0 11v2m0 55v1m0 5v1m0 4v2m0 7v1m0 1v2m0 10v1m1-151v1m0 24v1m0 16v1m0 12v1m0 58v1m0 15v1m0 5v2m0 1v1m0 10v1m1-147v1m0 5v1m0 2v1m0 6v1m0 3v1m0 3v2m0 93v1m0 22v1m0 13v1m0 8v1m1-154v1m0 4v1m0 8v1m0 12v1m0 80v1m0 5v2m0 7v1m0 16v1m0 11v1m0 18v1m1-202v1m0 11v1m0 11v1m0 11v1m0 3v1m0 7v1m0 1v1m0 73v1m0 21v1m0 3v2m0 1v1m0 3v2m0 4v1m0 7v1m0 48v1m1-189v1m0 3v1m0 3v1m0 4v1m0 2v1m0 1v1m0 25v1m0 39v1m0 21v1m0 5v1m0 1v1m0 2v1m0 4v2m0 14v1m0 6v1m1-146v2m0 2v1m0 3v1m0 1v1m0 5v1m0 61v1m0 8v1m0 11v1m0 15v1m0 1v1m0 9v1m0 5v1m1-111v1m0 9v1m0 73v1m0 8v1m0 10v1m1-168v1m0 4v1m0 19v1m0 21v1m0 11v1m0 5v1m0 71v1m0 2v1m0 36v1m0 19v1m1-182v1m0 19v1m0 4v1m0 9v1m0 3v1m0 83v1m0 21v1m1-113v1m0 7v1m0 4v1m0 59v1m0 10v1m0 4v1m0 7v1m0 1v1m1-100v1m0 12v1m0 7v1m0 2v1m0 10v1m0 49v1m0 17v1m0 2v1m0 7v1m0 1v1m0 27v1m1-161v1m0 8v1m0 4v2m0 5v1m0 1v1m0 11v2m0 4v1m0 70v1m0 5v1m0 4v1m0 3v1m0 10v1m0 1v1m0 10v1m1-176v1m0 20v1m0 15v1m0 1v1m0 2v1m0 7v1m0 5v1m0 5v1m0 25v1m0 20v1m0 2v2m0 3v1m0 5v1m0 6v1m0 1v1m0 16v1m0 1v1m0 7v1m0 9v1m0 4v2m1-147v1m0 6v1m0 14v1m0 24v1m0 2v1m0 3v1m0 15v2m0 3v1m0 13v1m0 1v1m0 1v1m0 10v1m0 6v1m0 22v1m1-111v1m0 15v1m0 12v1m0 11v1m0 25v1m0 20v2m1-91v2m0 15v2m0 6v1m0 3v2m0 4v1m0 8v1m0 2v1m0 7v1m0 5v1m0 18v1m0 15v1m0 13v2m1-106v1m0 1v2m0 10v1m0 3v1m0 3v1m0 6v1m0 20v1m0 5v1m0 4v3m0 3v1m1-45v1m0 3v1m0 1v1m0 2v1m0 11v1m0 2v1m0 2v1m0 9v1m0 5v1m0 14v1m1-73v2m0 10v1m0 9v1m0 4v1m0 2v1m0 13v1m0 2v1m1-28v1m0 2v1m0 11v1m27-128v1m0 3v2m0 10v1m0 5v1m0 4v1m0 11v1m0 25v2m0 9v1m0 5v1m0 25v1m0 1v1m0 9v1m0 4v1m0 10v1m0 7v1m0 22v1m0 1v1m0 6v1m0 27v1m4-131v1m0 6v1m0 8v1m0 5v2m0 6v1m0 2v2m0 12v1m0 12v1m0 3v2m0 7v2m0 22v1m0 8v1m0 1v1m1-120v1m0 2v1m0 32v1m0 3v2m0 35v1m0 12v2m0 9v1m0 1v1m0 10v1m0 2v1m0 4v1m0 3v1m1-113v1m0 1v1m0 6v1m0 11v1m0 10v1m0 11v1m0 12v1m0 5v1m0 1v1m0 5v1m0 2v1m0 3v1m0 18v2m0 2v1m0 6v1m1-120v1m0 3v1m0 5v1m0 89v1m0 8v1m0 8v1m1-115v1m0 5v1m0 96v1m0 4v1m0 8v1m1-136v1m0 25v2m0 4v1m0 67v1m0 34v1m1-111v1m0 91v1m0 11v1m0 5v1m1-147v1m0 6v1m0 7v1m0 5v1m0 109v1m0 8v1m0 1v1m0 28v1m0 24v1m1-191v1m0 7v1m0 21v1m0 12v1m0 76v1m0 1v1m0 1v1m0 1v1m0 2v1m0 16v1m0 6v1m0 1v1m0 1v2m1-170v1m0 28v1m0 29v1m0 60v1m0 25v1m0 1v1m0 3v1m0 24v1m0 34v1m1-212v1m0 37v1m0 112v1m0 11v1m0 2v1m0 6v1m0 10v1m1-173v1m0 1v1m0 7v1m0 1v1m0 5v1m0 1v1m0 4v1m0 2v1m0 4v2m0 8v1m0 64v1m0 9v1m0 3v1m0 7v1m0 5v2m0 1v1m0 7v1m0 39v1m0 38v1m1-230v1m0 7v1m0 1v1m0 16v1m0 74v1m0 10v1m0 14v1m0 30v1m0 1v1m0 9v1m1-174v1m0 8v1m0 4v1m0 3v1m0 1v2m0 4v1m0 6v1m0 5v1m0 76v1m0 30v1m1-141v1m0 1v3m0 15v1m0 1v1m0 2v2m0 1v1m0 5v1m0 72v1m0 9v1m0 1v1m0 31v1m1-120v1m0 14v1m0 10v1m0 1v1m0 13v1m0 10v1m0 5v1m0 1v1m0 5v1m0 10v2m0 3v1m0 2v1m0 27v1m1-159v1m0 21v1m0 23v1m0 7v1m0 9v1m0 4v1m0 24v2m0 11v1m0 2v1m0 12v1m0 3v1m0 1v1m1-110v2m0 7v1m0 8v1m0 2v1m0 2v1m0 7v1m0 9v1m0 3v2m0 1v1m0 9v1m0 3v2m0 1v1m0 10v1m0 5v1m0 1v1m0 2v1m0 8v1m1-95v1m0 10v1m0 21v1m0 7v1m0 11v2m0 3v1m0 1v1m0 1v1m0 6v1m0 3v1m0 3v2m0 3v1m0 2v1m0 2v1m0 4v1m0 22v1m0 10v1m1-127v1m0 7v1m0 1v1m0 10v1m0 3v1m0 2v2m0 3v1m0 21v2m0 3v1m0 24v2m0 1v1m0 2v1m0 4v1m0 9v1m1-104v1m0 13v1m0 5v1m0 13v1m0 10v1m0 4v1m0 3v1m0 53v1m0 20v1m0 15v1m1-161v1m0 2v1m0 10v1m0 14v2m0 6v1m0 8v2m0 4v1m0 21v1m0 14v1m0 7v1m0 2v1m0 19v1m0 2v1m0 5v1m0 9v1m1-142v1m0 12v1m0 2v1m0 24v1m0 35v1m0 5v1m0 16v1m0 12v1m0 5v1m0 17v1m0 1v1m0 1v1m1-103v1m0 38v1m0 1v1"/>
<path stroke="#5095c4" d="M104 235v1m0 18v2m1-28v1m1 7v1m0 15v1m1 18v1m1-41v1m0 18v1m0 4v2m2-29v2m0 3v1m0 4v1m0 13v1m0 1v2m1-4v1m1 3v1m0 4v1m0 8v1m1-60v1m0 16v1m0 3v1m0 1v1m0 1v1m0 12v1m0 12v1m0 1v1m1-35v1m1-1v1m0 1v2m1 8v1m2-11v2m1-16v1m0 7v1m0 2v1m0 7v1m0 14v1m1-15v1m0 12v1m1-17v1m0 9v1m0 11v1m1-31v1m0 1v1m0 1v1m0 3v1m0 21v1m0 2v1m1-40v1m1-2v1m0 5v1m0 28v2m0 5v1m1-48v1m0 29v1m0 1v1m0 7v1m0 3v1m1-37v1m0 9v1m0 1v2m0 14v1m0 7v1m0 6v1m1-38v2m0 6v1m0 1v1m0 13v1m0 1v2m0 32v1m1-35v1m2-19v1m0 6v1m30 6v1m1-22v1m1-2v1m0 27v1m0 1v1m0 9v1m1-49v1m0 4v1m0 5v1m0 22v1m0 4v1m0 1v2m0 12v1m0 10v1m1-59v1m0 30v1m0 2v1m1-50v1m0 10v1m0 7v1m0 20v2m0 9v1m1-29v1m4-7v1m0 21v1m1-5v1m0 3v1m2-28v1m1-12v1m0 15v1m0 1v1m0 2v1m0 7v1m1-12v1m0 21v1m1-3v1m0 5v1m1-48v1m1 15v1m0 23v1m1-12v1m0 1v1m0 7v2m2-37v1m0 6v1m0 7v1m0 8v1m0 15v1m0 5v1m0 3v1m0 25v1m1-70v2m0 6v1m0 33v3m0 8v1m1-43v1m0 14v1m1-18v1m0 1v1m0 6v1m0 9v1m0 1v1m0 4v1m1-21v1m0 7v1m186-17v1m0 2v1m1-6v1m0 15v1m0 2v2m0 5v1m2-23v1m0 5v1m0 6v1m0 3v1m1-16v1m1-6v1m1-2v1m1-7v1m1 21v1m0 1v1m0 3v1m0 1v1m1-19v1m1 0v1m0 12v1m1 5v1m1-36v1m0 2v1m0 5v1m0 2v1m0 19v1m0 2v1m1-18v1m0 8v1m1-14v1m1 19v1m1-23v1m2 5v1m1-4v1m1-7v1m0 2v1m0 20v1m1-22v1m0 28v1m1-23v1m0 2v1m0 6v1m0 2v1m0 1v1m1-4v1m31-117v1m0 22v1m0 11v1m0 120v1m0 26v2m0 11v1m0 10v1m1-197v1m0 10v1m0 18v1m0 4v1m0 8v1m0 11v1m0 61v1m0 10v1m0 4v1m0 1v1m0 9v1m0 1v1m0 1v1m0 4v1m0 2v1m0 5v1m0 1v1m0 3v1m0 3v1m0 36v1m1-182v1m0 106v1m0 11v1m0 5v2m0 4v1m0 13v1m1-179v1m0 2v1m0 18v1m0 5v1m0 5v1m0 4v1m0 23v1m0 81v1m0 2v1m0 14v1m0 1v1m1-135v1m0 7v1m0 8v1m0 3v1m0 3v1m0 12v1m0 103v1m1-178v1m0 2v1m0 19v1m0 14v1m0 4v2m0 11v1m0 10v1m0 84v1m0 6v1m0 4v1m0 27v1m1-211v1m0 20v1m0 33v1m0 5v1m0 15v1m0 96v1m0 7v1m0 12v1m1-196v1m0 28v1m0 13v1m0 6v1m0 1v1m0 134v1m0 2v1m0 10v1m0 13v1m1-170v1m0 4v2m0 1v1m0 8v1m0 5v1m0 14v1m0 79v1m0 16v1m1-160v1m0 54v1m0 11v1m0 81v1m0 2v1m0 5v1m0 3v1m1-141v1m0 3v1m0 4v1m0 12v1m0 1v1m0 96v1m0 4v1m0 5v1m0 18v1m0 20v1m1-165v1m0 17v1m0 99v1m0 12v1m1-139v1m0 32v1m0 7v1m0 2v1m0 90v1m1-147v1m0 26v1m0 10v1m0 5v1m0 2v1m0 78v1m0 1v1m0 5v1m0 49v1m1-168v1m0 8v1m0 6v1m0 7v1m0 3v1m0 3v1m0 71v1m0 9v3m0 2v2m0 7v1m0 1v1m0 43v1m1-200v1m0 17v1m0 11v1m0 11v1m0 8v1m0 10v1m0 5v1m0 47v1m0 6v1m0 1v1m0 4v2m0 3v1m0 8v1m0 1v1m0 3v1m0 1v1m2-179v1m0 25v1m0 5v1m0 1v1m0 12v1m0 25v1m0 107v1m0 6v1m0 5v1m1-164v1m0 7v1m0 4v3m0 10v1m0 6v1m0 9v2m0 3v1m0 87v1m0 16v2m0 4v1m0 3v1m0 25v1m1-219v1m0 18v1m0 3v1m0 1v1m0 2v1m0 3v1m0 4v1m0 2v1m0 1v1m0 7v2m0 5v1m0 2v1m0 94v1m0 10v2m0 46v1m1-221v1m0 44v1m0 10v1m0 98v1m0 25v3m0 3v1m0 8v1m1-186v1m0 24v1m0 7v1m0 10v1m0 1v1m0 1v2m0 16v1m0 85v1m0 5v1m0 3v1m0 23v1m1-152v1m0 16v1m0 20v1m0 9v2m0 12v1m0 5v1m0 3v1m0 3v1m0 7v1m0 13v1m0 18v1m0 2v1m0 11v1m27-16v1m0 12v1m0 2v1m1-97v1m0 14v1m0 1v1m0 1v1m0 17v1m0 15v1m0 19v1m0 4v1m0 1v1m1-89v1m0 8v1m0 9v1m0 2v1m0 20v1m0 9v1m0 2v1m0 6v1m0 6v1m0 10v1m0 1v1m0 3v1m0 9v1m0 9v1m0 6v1m0 2v1m1-143v1m0 7v1m0 1v1m0 5v2m0 21v4m0 17v1m0 5v1m0 11v3m0 6v1m0 6v1m0 5v1m0 9v1m0 25v1m0 6v1m1-137v1m0 57v2m0 8v1m0 39v1m0 18v1m1-124v1m0 1v1m0 110v1m0 26v1m1-152v1m0 44v1m0 53v1m0 26v1m0 2v1m1-120v1m0 2v1m0 3v1m0 7v1m0 5v1m0 6v1m0 114v1m0 4v2m1-160v1m0 8v1m0 6v1m0 5v1m0 4v1m0 2v1m0 9v1m0 63v1m0 20v1m0 9v1m0 8v1m0 17v1m1-170v1m0 16v1m0 31v1m0 31v1m0 58v1m0 14v1m0 9v1m1-165v1m0 1v1m0 9v1m0 5v1m0 12v1m0 92v1m0 12v1m0 1v1m0 4v1m0 35v1m1-181v1m0 1v1m0 1v1m0 8v1m0 3v1m0 4v1m0 16v1m0 79v2m0 7v1m0 12v1m0 2v1m0 1v1m1-115v1m0 6v1m0 90v1m0 5v1m0 4v2m0 3v1m0 10v1m1-132v1m0 9v1m0 8v1m0 85v1m0 7v1m0 13v1m1-131v1m0 9v1m0 92v3m0 5v1m0 14v1m0 13v1m1-183v1m0 19v1m0 4v1m0 1v1m0 4v1m0 2v1m0 6v1m0 3v1m0 11v1m0 13v1m0 79v2m0 33v1m1-175v1m0 26v1m0 2v1m0 9v1m0 2v1m0 18v1m0 66v1m0 6v1m0 6v1m0 8v1m1-151v1m0 22v1m0 1v2m0 1v1m0 6v1m0 1v1m0 80v1m0 16v1m0 6v1m0 3v1m0 12v1m0 12v1m1-149v1m0 1v1m0 22v1m0 18v1m0 48v1m0 13v1m0 6v1m0 20v1m0 7v1m1-143v1m0 14v1m0 118v1m0 1v1m0 27v1m1-199v1m0 8v1m0 2v1m0 5v2m0 6v1m0 4v1m0 3v1m0 16v1m0 3v2m0 10v1m0 2v1m0 13v1m0 10v1m0 5v1m0 2v2m0 12v2m0 12v1m0 2v1m0 1v1m0 3v1m0 19v1m0 9v1m1-146v1m0 14v1m0 12v1m0 1v2m0 7v1m0 2v1m0 3v1m0 7v1m0 3v1m0 3v1m0 10v1m0 4v1m0 5v1m1-61v1m0 9v1m0 1v1m0 11v1m0 2v1m0 7v1m0 2v2m0 1v1m0 1v1m0 3v1m0 2v1m0 9v1m0 1v1m0 11v1m0 6v1m1-77v1m0 15v1m0 2v1m0 3v1m0 13v1m0 5v1m0 1v1m0 1v1m0 6v1m0 7v2m0 8v1m0 5v1m0 21v1m1-99v1m0 22v1m0 1v1m0 1v1m0 2v1m0 20v1m0 7v1m0 5v1m0 23v1m1-84v1m0 13v1m0 9v1m0 9v1m0 13v1m0 2v1m0 26v1m1-21v1m28-167v1m0 8v1m0 37v1m0 3v1m0 13v1m0 3v1m0 10v1m0 9v1m0 11v1m0 1v1m0 4v1m0 1v1m0 21v1m0 6v1m0 6v1m0 4v1m0 5v1m0 24v1m0 33v1m0 5v1m4-144v1m0 20v1m0 2v1m0 1v1m0 3v1m0 6v1m0 12v1m0 1v1m0 1v2m0 2v1m0 28v1m0 12v1m0 3v1m0 2v1m0 7v1m1-151v1m0 18v1m0 22v1m0 1v1m0 1v1m0 7v1m0 2v1m0 2v1m0 9v1m0 10v1m0 1v1m0 13v1m0 3v1m0 7v1m0 1v1m0 4v1m0 3v1m0 2v1m0 4v1m0 18v1m0 19v1m1-124v1m0 9v1m0 3v1m0 10v1m0 3v1m0 4v1m0 17v1m0 21v1m0 7v1m0 3v1m0 12v1m0 13v1m1-146v1m0 5v1m0 4v1m0 8v1m0 11v2m0 124v1m1-159v1m0 14v1m0 11v2m0 14v1m0 73v1m0 4v1m0 6v1m0 20v1m1-139v1m0 4v1m0 24v1m0 80v1m0 1v1m0 9v1m0 5v1m0 2v1m0 8v1m1-151v1m0 47v1m0 84v1m0 7v1m0 45v1m1-197v1m0 24v1m0 16v1m0 9v1m0 74v1m0 18v1m0 22v1m0 23v1m0 2v1m1-221v1m0 47v1m0 7v2m0 13v2m0 69v1m0 7v1m0 2v1m0 11v1m0 3v3m0 7v1m0 3v1m0 26v1m0 2v1m0 56v1m1-230v1m0 1v1m0 19v1m0 2v1m0 1v1m0 122v2m0 20v1m0 13v1m1-206v1m0 28v1m0 1v1m0 101v1m0 33v1m0 16v1m0 18v1m0 1v1m0 21v1m1-217v1m0 12v1m0 16v2m0 1v1m0 13v1m0 84v1m0 2v1m0 6v1m0 8v1m0 4v2m0 7v2m0 12v1m0 23v1m0 24v1m1-246v1m0 10v1m0 6v1m0 5v1m0 10v1m0 3v1m0 100v2m0 1v1m0 1v2m0 6v1m0 7v1m0 8v1m0 4v1m0 1v1m1-143v1m0 6v1m0 12v1m0 5v1m0 82v1m0 6v1m1-120v1m0 14v1m0 1v1m0 80v1m0 11v1m0 17v1m0 6v2m1-139v1m0 3v1m0 1v1m0 12v1m0 5v1m0 3v2m0 3v1m0 1v1m0 1v1m0 2v1m0 20v3m0 3v1m0 2v1m0 5v1m0 2v1m0 7v1m0 2v1m0 1v1m0 11v1m0 2v1m0 8v1m0 2v1m0 26v1m1-144v1m0 5v1m0 20v1m0 4v1m0 6v1m0 28v1m0 9v1m0 4v1m0 17v2m1-123v1m0 49v1m0 5v1m0 4v1m0 44v1m0 7v1m0 15v1m0 9v1m0 7v1m0 6v2m1-164v1m0 36v1m0 27v1m0 14v2m0 7v1m0 11v1m0 9v1m0 4v1m0 2v1m0 2v1m0 17v1m0 11v1m0 39v1m1-191v1m0 10v1m0 3v1m0 20v1m0 4v1m0 1v1m0 20v1m0 9v1m0 31v2m0 2v1m0 27v1m0 5v1m0 11v1m0 31v1m0 9v1m1-179v1m0 9v2m0 5v1m0 3v1m0 20v1m0 8v1m0 17v1m0 19v1m0 3v1m0 13v1m0 5v1m0 1v1m0 2v1m0 12v1m0 27v1m1-165v1m0 10v1m0 3v1m0 13v1m0 3v1m0 7v1m0 2v1m0 10v1m0 5v1m0 7v1m0 12v1m0 24v1m0 2v1m0 3v2m0 8v1m0 4v2m0 28v1m1-155v1m0 6v1m0 6v1m0 7v1m0 9v1m0 9v2m0 9v1m0 9v1m0 19v1m0 8v2m0 8v1m0 6v1m0 10v1m0 9v1m0 4v1m1-96v1m0 35v1m0 2v1"/>
<path stroke="#4990c2" d="M104 229v1m2-37v1m0 37v1m0 18v1m0 9v1m0 5v1m0 12v1m1-64v1m0 15v1m3 1v1m2-12v1m1 1v1m0 4v1m0 9v1m0 12v1m0 7v1m1-44v1m0 4v1m4 6v1m0 23v1m0 6v1m1-31v1m0 17v1m0 4v1m1-28v1m0 2v1m0 1v1m0 20v1m0 15v1m1-88v1m0 21v1m0 45v1m0 17v1m1-86v1m0 40v2m0 22v1m0 22v1m0 8v1m1-53v1m0 37v1m1-6v1m0 19v1m1-78v1m0 22v1m0 1v1m0 1v1m0 17v1m0 13v1m1-44v1m0 4v1m0 5v1m0 25v1m1-58v1m0 23v1m0 9v1m1-26v1m0 23v1m0 23v1m1-11v1m1-13v1m0 9v1m30 13v1m1-4v1m1-37v1m0 2v1m0 39v1m0 53v1m1-90v1m0 2v1m0 16v1m0 31v1m0 4v2m0 55v1m1-88v1m0 23v1m1-71v2m0 5v1m0 14v1m0 18v1m0 5v1m0 16v1m1-40v1m0 4v1m0 3v1m0 8v1m1-7v1m1-23v1m3 6v1m0 5v1m0 10v1m0 6v2m0 20v1m2-24v1m0 1v1m0 1v1m1-61v1m0 14v1m0 9v1m0 2v1m0 5v1m0 5v1m0 10v2m1-19v1m1-4v1m0 20v1m0 4v1m1-31v1m0 6v1m0 26v1m0 17v1m1-56v1m0 6v1m0 1v1m0 2v1m0 1v1m0 20v1m1-30v1m0 8v1m2-13v1m0 4v1m0 4v1m0 17v1m0 1v1m0 9v1m0 6v1m1-85v1m0 37v2m0 2v1m0 1v1m0 28v1m0 46v1m0 16v1m2-97v1m0 1v1m1 7v1m0 5v1m187-8v1m2-8v1m0 12v1m0 3v1m0 7v1m0 1v1m2-4v1m1-25v1m0 24v1m2-23v2m0 5v1m1 8v1m1 2v1m0 3v1m1-1v1m1-49v1m0 20v1m0 4v1m0 14v1m0 9v1m1-30v1m0 2v1m0 5v1m0 13v1m0 2v1m1-3v1m1-31v1m0 2v1m0 3v1m0 1v1m1 17v1m1-24v1m0 24v1m1-32v1m0 5v1m0 12v1m0 10v1m0 3v1m2-31v1m0 1v1m1 0v1m0 1v1m0 20v1m1-23v2m1 13v1m0 4v1m31-100v1m0 34v1m0 5v1m1-80v1m0 19v1m0 4v1m0 19v1m0 13v1m0 10v1m0 112v2m0 15v1m0 1v1m0 5v1m0 4v1m0 2v1m0 28v1m0 6v1m1-227v1m0 41v1m0 23v1m0 91v1m0 4v1m0 63v1m1-267v1m0 10v1m0 7v2m0 19v1m0 2v1m0 2v1m0 6v1m0 11v1m0 4v1m0 1v1m0 12v1m0 3v1m0 104v1m0 8v1m0 4v1m0 3v1m0 12v1m0 14v1m1-236v1m0 41v1m0 11v1m0 26v1m0 3v3m0 83v1m0 25v1m0 3v1m0 11v1m0 36v1m1-157v1m0 77v1m0 1v1m0 1v1m0 6v1m0 2v1m0 1v1m0 17v1m0 5v1m0 20v1m0 3v1m0 16v1m1-230v1m0 8v1m0 6v1m0 4v1m0 2v1m0 5v1m0 21v1m0 109v1m0 4v1m0 65v1m1-266v1m0 39v2m0 2v2m0 21v1m0 12v1m0 2v1m0 1v1m0 4v1m0 2v1m0 3v1m0 7v1m0 82v1m0 3v1m0 2v1m0 35v1m0 28v1m1-215v1m0 8v1m0 14v1m0 6v1m0 9v1m0 5v1m0 120v1m1-166v1m0 28v1m0 2v1m0 11v1m0 112v1m0 14v1m0 9v1m1-183v1m0 16v1m0 8v1m0 8v1m0 1v1m0 3v1m0 102v1m0 11v1m0 13v1m0 12v1m0 15v1m1-208v1m0 27v1m0 4v1m0 20v1m0 9v1m0 86v1m0 2v1m0 2v1m0 11v1m0 51v2m1-222v1m0 36v1m0 5v1m0 4v1m0 7v1m0 5v1m0 75v1m0 5v1m0 8v1m0 17v1m1-164v1m0 8v1m0 19v1m0 123v1m0 25v1m1-166v1m0 119v1m0 36v1m0 3v1m1-222v1m0 52v1m0 5v1m0 19v1m0 12v1m0 22v1m0 1v3m0 1v1m0 7v1m0 13v1m0 8v1m0 10v1m0 8v1m0 9v1m0 14v1m2-176v2m0 15v2m0 5v1m0 8v1m0 5v1m0 5v1m0 14v1m0 108v1m0 3v1m0 32v1m1-160v1m0 107v1m0 13v1m0 4v1m0 2v1m0 31v1m0 54v1m1-271v1m0 184v1m0 5v1m0 15v1m0 2v1m0 12v1m1-210v1m0 16v1m1-42v1m0 4v1m0 33v1m0 5v1m0 14v1m0 19v1m0 1v1m0 9v1m0 94v1m0 34v1m0 3v1m0 11v1m1-183v1m0 6v1m0 13v1m0 29v1m0 1v1m0 12v1m0 1v1m0 5v1m0 7v1m0 7v1m0 2v1m0 6v1m0 1v1m0 2v1m0 4v1m0 10v2m0 2v1m0 48v1m27-188v1m0 46v1m0 5v1m0 5v1m0 5v1m0 1v1m0 15v1m0 4v1m0 3v1m0 10v1m0 11v1m0 14v1m0 38v1m0 13v1m0 5v1m1-158v1m0 10v1m0 2v1m0 8v1m0 5v1m0 1v1m0 10v1m0 2v2m0 4v1m0 4v1m0 17v1m0 5v1m0 5v1m0 15v1m0 7v1m1-116v1m0 27v1m0 24v1m0 4v1m0 2v1m0 5v1m0 2v1m0 1v1m0 7v1m0 6v1m0 36v1m0 6v1m0 6v1m1-141v1m0 6v1m0 26v1m0 7v1m0 3v1m0 3v1m0 3v1m0 1v2m0 1v1m0 15v1m0 2v1m0 2v1m0 8v2m0 8v2m0 5v1m0 20v1m1-96v1m0 2v1m0 29v1m0 2v2m0 3v1m0 8v1m0 13v1m0 8v1m0 1v1m0 8v1m1-14v1m1-100v1m0 114v1m0 6v1m1-186v1m0 10v1m0 17v1m0 1v1m0 2v1m0 14v1m0 5v2m0 1v1m0 2v1m0 4v1m0 7v1m0 85v1m0 19v1m0 2v1m1-166v1m0 18v1m0 137v1m0 8v1m0 9v1m1-171v1m0 2v1m0 2v1m0 12v1m0 17v1m0 3v1m0 1v1m0 10v1m0 9v1m0 77v1m0 30v1m1-167v1m0 15v1m0 20v1m0 37v1m0 62v1m0 17v1m0 1v1m0 5v1m0 1v1m0 15v1m0 30v1m0 1v1m1-258v1m0 3v1m0 18v1m0 18v1m0 25v1m0 136v1m1-176v1m0 7v1m0 25v1m0 2v2m0 1v1m0 5v1m0 12v1m0 78v1m0 10v1m0 5v1m0 1v1m0 7v1m0 1v1m0 24v1m1-149v1m0 5v1m0 92v2m0 6v1m0 13v1m0 11v1m0 16v1m0 6v1m1-173v1m0 27v1m0 101v1m0 8v1m0 29v1m1-199v1m0 1v1m0 2v1m0 3v1m0 23v1m0 19v1m0 2v1m0 9v1m0 6v1m0 77v1m0 5v1m0 2v1m0 4v1m0 5v1m0 5v1m0 2v1m0 16v1m0 7v1m1-154v1m0 90v1m0 13v1m0 5v1m0 2v1m1-148v1m0 11v1m0 10v1m0 11v1m0 2v1m0 5v1m0 78v1m0 22v1m0 1v1m0 3v1m0 3v1m1-136v1m0 12v1m0 1v1m0 3v1m0 4v1m0 67v1m0 20v1m0 43v1m1-169v1m0 21v1m0 8v1m0 102v1m0 4v1m0 6v1m0 22v1m1-230v1m0 35v1m0 18v1m0 7v1m0 5v1m0 9v1m0 2v2m0 1v1m0 1v1m0 2v1m0 3v1m0 3v1m0 3v1m0 11v1m0 23v1m0 16v1m0 2v1m0 11v1m0 1v1m0 1v1m0 5v2m0 68v1m1-173v2m0 1v1m0 7v1m0 2v1m0 18v1m0 21v1m0 26v1m0 10v1m0 11v1m0 2v1m0 34v1m1-160v1m0 21v1m0 2v1m0 2v1m0 15v2m0 1v1m0 10v1m0 15v1m0 9v1m0 9v1m0 5v1m0 5v1m0 5v1m0 9v1m0 5v1m0 7v1m0 28v1m1-165v1m0 15v1m0 3v2m0 12v1m0 2v1m0 9v1m0 16v1m0 17v1m0 5v1m0 11v1m0 5v1m0 2v1m0 2v1m0 1v1m0 2v2m0 27v1m0 31v1m1-153v1m0 18v1m0 5v1m0 20v1m0 3v1m0 3v1m0 6v1m0 14v1m0 6v1m0 49v1m1-162v1m0 16v1m0 21v1m0 18v1m0 1v1m0 12v1m0 7v1m0 5v1m0 4v2m0 4v1m0 24v1m0 12v1m0 37v1m1-131v1m0 42v1m0 39v1m0 19v1m1-135v1m0 13v1m0 8v1m0 1v2m0 13v1m0 3v1m0 8v1m0 2v1m0 36v1m0 8v1m27-198v1m0 20v1m0 6v1m0 13v1m0 1v1m0 13v1m0 17v1m0 13v1m0 12v1m0 1v1m0 7v1m0 15v1m0 6v1m0 25v1m0 4v1m0 14v1m0 3v1m0 1v1m0 7v1m0 20v1m0 1v1m0 4v2m0 1v1m4-108v1m0 5v1m0 1v1m0 6v1m0 17v1m0 4v1m0 3v1m0 3v1m0 20v1m0 1v1m0 1v1m0 19v1m0 4v1m0 4v1m0 4v1m0 21v1m1-220v1m0 19v1m0 22v1m0 4v1m0 5v1m0 16v1m0 22v1m0 1v1m0 24v1m0 2v1m0 22v1m0 20v1m0 4v1m0 1v1m0 38v1m1-184v1m0 12v1m0 8v1m0 1v1m0 8v1m0 10v1m0 31v1m0 27v1m0 2v1m0 27v1m0 6v1m0 1v1m0 2v1m0 25v1m1-113v1m0 87v1m0 10v1m1-165v1m0 34v1m0 5v1m0 6v1m0 10v1m0 88v1m0 48v1m1-165v1m0 13v1m0 82v1m0 18v1m0 8v1m0 4v1m0 49v1m1-198v1m0 7v1m0 18v1m0 96v1m0 18v1m0 4v2m0 9v1m1-161v1m0 13v1m0 17v1m0 1v1m0 16v1m0 89v1m0 9v1m0 9v1m1-191v1m0 40v1m0 5v1m0 3v1m0 3v1m0 21v1m0 111v1m0 24v1m0 23v1m1-209v1m0 41v1m0 101v1m0 5v1m0 3v2m0 2v1m0 2v1m0 6v1m0 6v1m0 6v1m1-175v1m0 1v1m0 4v1m0 13v2m0 101v1m0 5v1m0 10v1m0 2v1m0 1v1m0 2v1m0 13v1m0 15v1m1-229v1m0 46v1m0 2v1m0 1v1m0 11v1m0 9v1m0 94v1m0 24v1m0 1v1m0 8v1m0 27v1m0 5v1m0 21v1m1-220v1m0 14v1m0 1v1m0 6v1m0 5v1m0 107v1m0 6v1m0 15v1m0 8v1m0 6v1m0 12v1m0 5v1m0 18v1m0 7v1m1-203v1m0 3v1m0 5v1m0 1v1m0 9v1m0 90v1m0 29v1m1-158v1m0 17v1m0 109v1m0 7v1m0 13v1m1-136v1m0 9v1m0 4v1m0 1v2m0 3v1m0 5v1m0 24v1m0 17v1m0 2v1m0 4v1m0 11v3m0 3v1m0 10v1m0 5v1m0 7v1m0 5v1m0 12v1m1-149v1m0 29v1m0 3v1m0 14v1m0 9v1m0 2v1m0 4v1m0 2v1m0 1v1m0 18v1m0 8v1m0 3v1m0 18v1m0 4v1m0 15v1m1-176v1m0 18v1m0 31v1m0 10v1m0 2v1m0 4v2m0 16v1m0 8v1m0 11v1m0 7v1m0 11v1m0 13v1m0 19v1m0 2v1m0 4v1m1-147v1m0 3v1m0 12v1m0 11v2m0 49v1m0 33v1m0 17v1m0 12v1m1-133v1m0 8v1m0 17v1m0 7v1m0 16v1m0 1v1m0 11v1m0 20v1m0 33v1m1-139v1m0 23v1m0 14v2m0 19v1m0 5v1m0 32v1m0 25v1m0 1v1m0 7v1m0 10v2m0 19v1m0 11v1m0 13v1m0 1v1m1-152v1m0 24v1m0 9v1m0 3v1m0 14v1m0 4v1m0 2v1m0 2v1m0 1v1m0 27v1m0 6v1m0 2v1m0 5v1m1-153v1m0 13v1m0 3v1m0 22v1m0 6v1m0 3v1m0 1v1m0 3v2m0 22v1m0 6v2m0 1v1m0 1v1m0 3v1m0 3v1m0 21v1m0 6v1m0 13v1m0 10v1m0 80v1"/>
<path stroke="#428cc0" d="M104 223v1m0 4v1m0 27v1m0 1v1m0 1v1m1-2v1m1-68v1m0 33v2m0 34v1m2-33v1m2-1v1m0 4v2m0 10v1m0 8v1m3-37v1m0 1v1m0 4v1m2 0v1m1 3v1m0 5v1m0 2v1m0 2v1m0 2v1m0 1v1m2-14v1m0 14v1m1-33v1m0 14v1m1 23v1m1-51v1m1 36v1m0 3v1m0 3v1m0 7v2m1-62v2m0 62v1m1-33v1m0 17v1m0 1v1m1-40v1m0 6v1m0 14v1m0 13v1m1-29v1m0 19v1m1-33v1m0 9v1m0 24v1m0 13v1m0 6v1m0 1v1m1-34v1m1-5v1m0 5v1m0 12v1m1-11v1m0 2v1m30 10v1m2-22v1m1 22v1m0 1v2m0 4v1m0 18v1m0 56v1m1-109v1m1-7v1m0 2v1m1 0v1m0 5v1m0 16v1m4 3v1m1-7v1m1 4v1m2-61v1m0 20v1m0 3v2m0 17v1m0 11v1m2-23v1m0 3v1m1 22v1m1-25v1m0 1v1m0 14v1m0 3v1m0 4v1m1-26v1m0 5v1m1-13v1m1-72v1m0 56v1m0 4v1m0 7v1m0 33v1m0 6v1m0 8v1m0 5v1m1-33v1m0 7v1m1-32v1m0 23v1m0 8v1m0 14v1m1-38v1m1 0v1m0 7v1m0 1v1m186 1v1m1-17v1m2-9v2m0 20v1m0 1v2m1-21v1m2-2v1m0 25v1m1-31v1m0 1v1m0 25v1m1-28v1m0 18v2m0 4v1m1-2v1m1-26v1m0 4v1m1-2v1m1-4v1m1 2v1m0 19v2m5-24v1m0 2v1m0 14v1m0 1v1m4-18v1m0 2v1m0 2v1m0 3v1m0 1v1m1-5v1m0 5v1m0 1v1m30 44v1m0 6v1m0 3v1m1-148v1m0 6v1m0 12v1m0 6v1m0 5v1m1-93v1m0 61v1m0 9v1m0 2v1m0 4v1m0 6v1m0 16v1m0 113v1m0 15v1m0 24v1m0 6v1m0 4v1m1-176v1m0 100v1m0 12v1m1-236v1m0 68v1m0 34v1m0 1v1m0 98v1m0 37v1m1-143v1m0 1v1m0 5v1m0 5v1m0 14v1m0 2v1m0 88v1m0 3v1m0 11v1m0 51v1m1-187v1m0 10v1m0 8v1m0 86v1m0 14v1m0 18v1m0 18v1m1-189v1m0 13v1m0 21v1m0 1v1m0 1v1m0 118v1m0 8v1m0 9v1m1-149v2m0 99v1m0 34v1m0 5v1m1-170v1m0 30v1m0 111v1m1-151v1m0 20v1m0 6v1m0 12v1m0 105v1m0 1v1m0 10v1m1-165v1m0 4v1m0 33v1m0 113v1m0 6v1m0 8v1m0 4v1m0 5v1m1-154v1m0 1v1m0 24v1m0 103v1m1-118v1m0 8v1m0 1v1m0 22v1m0 69v1m0 1v1m0 2v1m0 15v1m0 1v1m1-151v1m0 18v1m0 7v1m0 96v1m0 8v1m0 18v1m1-17v1m1-152v1m0 19v2m0 4v1m0 6v1m0 5v1m0 1v1m0 4v1m0 9v2m0 3v1m0 2v1m0 13v1m0 4v1m0 15v1m0 8v1m0 14v1m0 1v1m0 7v1m0 9v1m0 10v1m0 6v2m0 2v1m2-170v1m0 2v1m0 11v1m0 18v2m0 2v1m0 7v1m0 109v1m0 28v1m1-170v1m0 154v1m1-175v1m0 1v1m0 12v1m0 13v1m0 1v1m0 1v1m0 2v1m0 1v1m0 4v1m0 14v1m0 89v1m0 22v1m0 27v1m1-200v1m0 2v1m0 1v1m0 19v1m0 10v1m0 118v1m0 6v1m0 23v1m1-179v1m0 16v1m0 20v1m0 2v1m0 103v1m0 13v1m1-130v1m0 3v1m0 6v1m0 3v1m0 1v3m0 17v1m0 5v2m0 41v1m0 5v1m0 27v1m0 4v1m0 23v1m27-63v1m0 30v1m1-129v1m0 19v1m0 4v1m0 28v1m0 1v1m0 24v2m0 8v1m0 2v1m0 10v1m0 17v1m0 9v1m0 6v1m0 5v1m1-119v1m0 23v1m0 6v1m0 2v1m0 40v1m1-124v1m0 39v1m0 5v1m0 1v1m0 3v1m0 21v1m0 58v1m0 8v3m0 4v1m0 12v1m0 24v1m1-164v1m0 44v1m0 8v2m0 2v1m0 20v1m0 16v1m2-80v1m0 112v1m0 1v1m0 2v1m1-184v1m0 10v1m0 35v1m0 20v1m0 21v1m0 80v1m1-103v1m0 88v1m0 26v1m0 3v1m1-151v1m0 16v1m0 11v1m0 102v1m1-98v1m0 126v2m0 1v1m0 14v1m0 31v1m1-254v1m0 23v1m0 20v1m0 6v1m0 10v1m0 99v1m0 8v1m0 37v1m0 37v1m1-239v1m0 13v1m0 6v1m0 19v1m0 19v1m0 85v1m1-102v1m0 6v1m0 6v1m0 118v1m1-154v1m0 143v1m0 11v1m0 15v1m0 1v1m1-241v1m0 20v1m0 1v1m0 35v2m0 5v2m0 2v1m0 2v1m0 5v1m0 9v1m0 2v1m0 3v1m0 123v1m1-132v1m0 7v1m0 112v1m0 18v1m1-116v1m0 94v1m0 11v1m0 44v1m1-191v1m0 8v1m0 11v1m0 117v1m0 3v1m0 1v1m1-160v2m0 20v1m0 137v1m1-192v1m0 18v2m0 13v1m0 23v3m0 9v1m0 3v1m0 4v1m0 13v1m0 2v1m0 6v1m0 3v1m0 8v1m0 1v1m0 20v1m0 10v1m0 1v1m0 18v1m0 1v1m0 11v1m0 30v1m0 28v1m1-189v1m0 59v1m0 24v1m0 10v1m0 17v1m0 21v1m1-136v1m0 9v1m0 3v1m0 9v1m0 5v1m0 9v1m0 15v1m0 11v1m0 3v1m0 2v2m0 15v1m1-72v1m0 9v1m0 19v1m0 37v1m0 56v1m0 7v1m1-143v1m0 1v1m0 23v1m0 6v1m0 63v1m0 14v1m1-98v1m0 5v1m0 3v1m0 7v1m0 5v1m0 1v1m0 1v1m0 3v1m0 1v1m0 2v1m0 8v2m0 2v1m0 6v1m0 4v1m0 6v1m0 21v2m0 2v1m1-69v1m1 1v1m0 4v1m0 23v1m0 19v1m27-146v1m0 1v1m0 3v1m0 1v1m0 9v2m0 16v1m0 5v1m0 13v1m0 6v1m0 8v1m0 5v1m0 1v1m0 4v1m0 1v1m0 6v1m0 13v1m0 4v1m0 9v1m0 7v1m0 5v1m0 6v1m0 7v1m0 16v1m0 3v1m0 3v1m0 2v1m0 3v1m0 3v1m4-167v1m0 60v1m0 35v1m0 3v1m0 1v1m0 21v1m0 6v1m0 17v1m0 8v1m1-196v1m0 36v1m0 3v1m0 34v1m0 26v1m0 36v1m1-113v1m0 24v1m0 32v1m0 4v1m0 35v1m0 31v1m0 23v1m0 5v1m1-161v1m0 15v1m0 7v1m0 3v1m0 12v1m0 3v1m0 80v1m1-127v1m0 37v1m0 1v1m0 97v1m0 12v1m0 8v1m0 15v1m1-44v1m1-148v1m0 26v1m0 120v1m0 10v1m0 13v1m1-182v1m0 19v1m0 23v1m1-48v1m0 10v1m0 21v1m0 25v2m0 113v1m0 2v1m0 8v1m1-140v2m0 90v1m0 22v1m0 54v1m1-215v1m0 52v1m0 115v1m0 14v1m0 15v2m1-204v1m0 43v1m0 4v1m0 12v1m0 4v1m0 8v1m0 86v1m0 14v1m0 6v1m0 10v1m0 7v2m0 7v1m0 41v1m1-218v1m0 114v1m0 25v1m0 2v1m0 1v1m0 18v1m0 7v2m0 1v1m0 6v1m1-165v1m0 99v1m0 20v1m0 4v1m0 66v1m1-193v1m0 103v1m0 6v1m1-111v2m0 1v1m0 1v1m0 21v1m0 1v1m0 16v1m0 1v1m0 23v1m0 13v1m0 4v1m0 13v1m0 3v1m0 2v1m0 6v1m0 15v1m1-149v1m0 19v1m0 12v1m0 1v1m0 16v1m0 67v1m1-126v1m0 7v1m0 8v1m0 18v1m0 12v1m0 21v1m0 4v1m0 3v1m0 10v1m0 19v1m1-108v1m0 8v1m0 4v1m0 14v1m0 10v1m0 41v1m0 9v1m0 13v1m0 2v1m0 10v1m0 15v1m1-125v1m0 11v1m0 10v1m0 14v1m0 40v1m0 16v1m1-113v1m0 80v1m0 48v1m1-115v1m0 9v1m0 2v1m0 26v1m0 54v1m0 14v1m0 18v1m0 20v1m1-215v1m0 20v1m0 8v1m0 30v1m0 5v1m0 5v1m0 8v1m0 3v2m0 1v1m0 7v1m0 9v1m0 5v1m0 3v2m0 8v2m0 2v1m0 9v1m0 1v1m0 12v2m0 11v3m0 13v1m0 8v1m0 3v2m1-98v1m0 32v1"/>
<path stroke="#3a88bd" d="M104 233v1m1 29v1m1-109v1m0 74v1m0 44v1m1-54v1m0 6v1m0 71v1m1-49v1m1-26v1m1-34v1m0 41v1m0 3v2m0 5v1m0 14v1m0 17v1m2 93v1m1-176v1m0 30v1m0 5v1m0 12v1m0 1v1m0 1v1m0 8v1m0 1v1m0 4v1m0 6v1m0 7v1m0 3v1m1-61v1m0 28v1m0 1v1m1-30v1m0 25v1m1-28v1m0 5v1m0 6v1m0 11v1m0 36v1m4-78v1m0 2v1m0 33v1m0 7v1m1-58v1m0 25v1m0 24v1m0 1v1m0 9v1m0 15v1m0 4v1m0 43v1m1-125v1m0 30v1m0 4v1m0 8v1m0 16v1m0 59v1m1-184v1m0 125v1m1-85v1m0 20v1m0 20v1m1 25v1m0 14v1m1-20v1m0 59v1m1-139v1m0 14v1m0 35v1m0 6v1m0 14v1m0 24v1m0 9v1m0 4v1m1-137v1m0 3v1m0 59v1m0 13v1m0 31v1m0 27v1m1-56v1m0 14v1m0 4v1m0 30v1m31-18v1m2-44v1m0 67v1m1-33v1m0 6v2m0 27v1m0 22v1m1-94v1m1-40v1m0 16v1m0 15v1m0 1v1m0 36v1m0 3v1m0 16v1m1-57v1m0 1v1m0 16v1m0 6v1m0 3v1m3-39v1m1 11v1m0 60v1m1-89v1m0 55v1m0 22v1m3-139v1m0 47v1m0 36v1m0 1v1m0 11v1m0 21v1m0 18v1m3-113v1m0 27v1m0 103v1m1-78v1m0 3v1m0 17v1m1-2v1m0 7v1m0 6v1m2-79v1m0 5v1m0 12v1m0 77v1m0 13v1m0 23v1m1-122v1m0 17v1m0 2v1m0 62v1m0 9v1m1-110v1m0 21v1m0 6v1m0 43v1m0 2v1m0 5v1m0 44v1m1-86v1m0 31v1m0 14v1m1-46v1m0 7v3m0 3v2m49-92v1m0 24v1m51 77v1m86-24v1m1 19v1m1 3v1m1-26v1m0 6v1m0 9v1m0 6v1m2-30v1m1 71v1m1-77v1m2 7v1m1-33v1m0 9v1m0 14v1m0 1v1m0 26v1m0 25v1m2-13v1m2-48v1m0 2v1m0 34v1m2 8v1m1-55v1m0 1v1m1 40v1m1-23v1m1 21v1m1-27v1m0 30v1m1-8v1m0 4v1m1-22v1m0 5v1m31-71v1m0 3v1m0 187v1m1-291v1m0 50v1m0 4v1m0 15v1m0 1v1m0 4v1m0 1v1m0 11v2m0 1v1m0 6v1m0 10v1m0 113v1m0 9v1m0 18v1m0 17v1m0 40v1m0 9v1m0 5v1m0 2v1m1-119v1m0 23v1m0 17v1m1-216v1m0 12v1m0 193v1m0 12v1m0 19v1m0 46v1m1-271v1m0 30v1m0 3v1m0 3v1m0 174v1m0 19v1m1-231v1m0 29v1m0 113v1m0 21v1m0 4v1m0 2v1m0 2v1m0 10v1m0 8v1m0 3v1m1-190v1m0 144v1m1-201v1m0 14v1m0 63v1m0 1v1m0 16v1m0 90v1m0 33v1m0 20v1m1-221v1m0 11v1m0 16v1m0 148v1m0 22v1m1-171v1m0 7v1m0 6v1m0 3v1m0 1v1m0 115v1m0 21v1m0 2v1m0 10v1m0 19v1m1-221v1m0 5v1m0 12v1m0 6v1m0 40v1m0 115v1m1-144v1m0 14v1m0 116v1m0 32v1m0 18v1m1-183v1m0 1v1m0 5v1m0 106v1m0 25v1m0 11v1m0 1v1m0 11v1m0 3v1m0 30v1m1-264v1m0 4v1m0 59v1m0 169v1m0 21v1m1-231v1m0 35v1m0 135v1m0 3v1m0 20v1m0 1v1m0 21v1m1-263v1m0 6v1m0 1v1m0 37v1m0 8v1m0 1v1m0 1v1m0 2v1m0 20v1m0 7v1m0 1v1m0 8v1m0 1v1m0 41v1m0 8v1m0 15v1m0 1v1m0 13v2m0 3v1m0 1v2m0 1v1m0 4v1m0 7v1m0 11v1m0 1v1m0 9v1m0 27v1m1-216v1m0 143v1m1-160v1m0 28v1m0 17v1m0 139v1m0 4v1m1-156v1m0 18v1m0 115v1m0 10v1m0 22v1m0 23v1m1-229v1m0 1v1m0 3v1m0 18v1m0 31v1m0 9v1m0 108v1m0 13v1m1-212v1m0 6v1m0 12v1m0 4v1m0 14v1m0 22v1m0 151v1m0 7v1m0 20v1m0 43v1m1-297v1m0 18v1m0 32v1m0 7v1m0 141v1m0 3v1m0 11v1m0 16v1m0 11v1m0 3v1m1-222v1m0 10v1m0 13v1m0 8v1m0 6v1m0 2v1m0 9v1m0 6v1m0 3v1m0 3v1m0 2v1m0 4v1m0 1v2m0 17v2m0 9v1m0 5v1m0 5v1m0 8v1m0 3v1m0 1v1m0 7v2m0 10v3m0 2v2m0 1v1m0 5v1m0 2v1m0 3v1m0 3v1m0 1v2m0 1v1m0 2v1m0 64v1m27-237v1m0 91v1m0 50v1m0 9v1m1-150v1m0 24v1m0 5v1m0 21v1m0 1v1m0 26v1m0 49v1m0 2v1m0 66v1m1-167v1m0 30v1m0 21v1m0 3v1m0 42v1m0 6v1m0 3v1m0 15v1m0 11v1m0 11v1m1-183v1m0 1v1m0 14v1m0 15v1m0 3v1m0 5v1m0 4v1m0 36v1m0 17v1m0 13v1m0 10v1m0 10v1m0 4v1m0 2v1m0 18v1m1-139v1m0 18v1m0 1v1m0 7v1m0 6v1m0 11v1m0 5v1m0 16v1m0 1v1m0 11v1m0 2v1m0 4v1m0 20v1m0 7v1m0 4v1m1-148v1m0 148v1m1-18v1m1-198v1m0 31v1m0 2v1m0 2v1m0 25v1m0 46v1m0 96v1m0 23v1m0 18v1m0 19v1m1-202v1m0 147v1m0 18v1m0 12v1m0 1v1m1-237v1m0 17v1m0 38v1m0 23v1m0 127v1m0 21v1m1-186v1m0 140v1m0 8v1m0 18v1m0 18v1m0 29v1m0 6v1m0 2v1m1-285v1m0 35v1m0 1v1m0 5v1m0 15v1m0 3v2m0 1v1m0 148v1m0 5v1m0 20v1m0 19v1m0 12v1m1-254v1m0 9v1m0 27v1m0 142v1m0 8v1m0 3v1m0 14v1m1-173v1m0 6v1m0 130v1m0 23v1m0 30v1m0 22v1m1-247v1m0 168v1m0 31v1m0 5v1m1-263v1m0 28v1m0 19v1m0 17v1m0 5v1m0 1v1m0 11v1m0 9v1m0 22v1m0 97v1m0 8v1m0 47v1m0 40v1m1-237v1m0 1v1m0 9v1m0 137v1m0 43v1m1-220v1m0 2v1m0 169v1m1-170v1m0 17v1m0 17v1m1-28v1m0 3v1m0 12v1m0 108v1m0 57v1m0 13v1m1-263v1m0 33v1m0 11v1m0 40v1m0 5v1m0 8v1m0 34v1m0 3v1m0 2v1m0 21v1m0 2v1m0 18v1m0 4v1m0 10v1m0 9v1m0 1v1m0 1v1m0 3v1m0 5v1m0 5v1m0 5v1m0 1v1m0 1v1m0 8v1m0 5v1m0 31v1m1-211v1m0 9v1m0 3v1m0 14v1m0 8v1m0 42v1m0 44v1m0 27v1m0 2v1m1-90v1m0 29v1m0 21v1m0 15v1m0 4v1m0 39v1m1-120v1m0 10v1m0 37v1m0 17v1m0 9v1m0 39v1m1-146v1m0 1v1m0 19v1m0 19v1m0 33v1m0 16v1m0 4v1m1-133v1m0 8v1m0 7v1m0 12v1m0 6v1m0 2v1m0 4v1m0 35v1m0 2v1m0 2v1m0 14v1m0 10v1m0 1v1m0 1v1m0 25v1m0 4v1m0 6v1m0 6v1m0 21v1m1-159v1m0 68v1m0 73v1m1-145v1m0 38v1m0 21v1m0 1v1m0 7v1m0 2v1m0 6v1m0 7v1m0 8v1m0 20v1m27-218v1m0 3v1m0 7v1m0 3v1m0 4v1m0 10v1m0 6v1m0 4v1m0 5v1m0 14v1m0 7v2m0 2v1m0 1v1m0 1v1m0 12v1m0 3v1m0 7v1m0 4v1m0 16v1m0 2v1m0 1v1m0 1v1m0 1v2m0 6v1m0 1v2m0 5v1m0 6v1m0 6v1m0 1v1m0 2v1m0 5v1m0 8v1m0 1v2m0 2v2m0 3v1m0 2v3m0 7v1m0 1v1m0 2v1m0 10v1m0 5v1m0 18v1m4-166v1m0 51v1m0 23v1m0 24v1m0 25v1m0 8v1m0 8v1m0 2v1m0 39v1m1-220v1m0 12v1m0 11v1m0 3v1m0 20v1m0 5v1m0 10v1m0 25v1m0 26v1m0 32v1m0 2v1m0 13v1m1-195v1m0 27v1m0 9v1m0 1v1m0 20v1m0 97v1m0 94v1m1-245v1m0 33v1m0 8v1m0 8v1m0 164v1m1-215v1m0 34v1m0 12v1m0 1v1m0 111v1m0 8v1m0 10v1m0 39v1m1-224v1m0 17v1m0 6v1m0 9v1m0 20v1m0 89v1m0 12v1m0 29v1m0 11v1m1-187v1m0 10v1m0 10v1m1-18v1m0 10v1m0 17v1m0 144v1m1-194v1m0 6v1m0 9v1m0 10v1m0 20v1m0 8v1m0 2v1m0 112v1m0 7v1m0 1v1m0 26v1m0 2v1m0 3v1m0 3v1m0 23v1m0 10v1m1-273v1m0 73v1m0 101v1m0 40v1m0 9v1m0 55v1m1-281v1m0 30v1m0 5v1m0 184v1m0 16v1m0 1v1m0 1v1m0 1v1m0 39v1m1-79v1m0 22v1m1-257v1m0 28v1m0 17v1m0 14v1m0 133v1m0 6v1m0 4v1m0 4v1m0 5v1m0 1v1m0 2v1m0 29v1m0 26v1m0 11v1m1-243v1m0 14v1m0 5v1m0 124v1m0 25v1m0 42v1m1-240v1m0 27v1m0 14v1m0 2v1m0 14v1m0 141v1m1-167v1m0 15v1m0 18v1m0 23v1m0 5v1m0 14v1m0 43v1m0 1v1m0 64v1m1-167v1m0 83v1m0 27v1m0 42v1m1-182v1m0 20v1m0 9v1m0 6v1m0 55v1m0 22v1m0 19v1m0 3v1m0 20v1m0 3v1m1-171v1m0 2v1m0 19v1m0 12v1m0 12v1m0 78v1m0 3v1m0 11v1m0 13v1m0 6v1m0 9v1m0 17v1m1-254v1m0 25v1m0 26v1m0 51v1m0 8v1m0 8v1m0 1v1m0 27v1m0 27v1m0 8v1m1-137v1m0 38v1m0 3v1m0 61v1m0 14v1m0 45v2m0 11v1m0 11v1m0 10v1m0 13v1m1-218v1m0 18v1m0 116v1m0 1v1m0 17v1m1-190v1m0 23v1m0 21v1m0 1v1m0 12v1m0 1v1m0 10v2m0 1v1m0 6v1m0 20v1m0 4v1m0 6v2m0 6v1m0 3v1m0 1v1m0 11v1m0 14v1m0 6v1m0 2v1m0 4v1m0 9v1m0 1v1m0 10v1m0 1v1m0 12v2m1-178v1m0 20v1m0 13v1m0 29v1m0 1v1m0 13v1m0 23v1m0 7v1"/>
<path stroke="#3383bb" d="M104 262v1m2-84v1m0 33v1m0 44v1m4-16v1m0 1v1m0 5v1m0 6v1m3-35v1m0 32v1m2-36v1m0 29v1m0 1v1m0 1v1m0 2v1m1-27v1m0 1v1m0 4v1m0 4v1m0 5v1m0 1v1m3 10v1m3-29v1m3-9v1m3 1v1m0 46v1m0 2v1m2-30v1m33 25v1m2-21v1m1-30v1m0 6v1m0 2v1m0 1v1m0 1v1m0 3v1m5 16v1m2-29v1m1-11v1m0 22v1m0 4v1m4 2v1m3 13v1m1-17v1m2-1v1m1-4v1m187-25v1m2-3v1m0 9v1m3-23v1m2 24v1m1-7v1m0 3v1m1 30v1m12-13v1m1-16v1m30 61v1m2-168v1m0 14v1m0 13v1m0 171v1m0 4v1m0 13v1m0 26v1m2-30v1m1-195v1m0 4v1m0 14v1m0 22v1m2 98v1m1-140v1m1-11v1m0 158v1m1-133v1m5 131v1m0 32v1m1-165v1m0 11v1m0 6v1m0 11v1m0 29v1m0 18v1m0 13v1m0 16v1m0 3v1m2 31v1m0 9v1m2-16v1m2-146v1m0 129v1m1-153v1m0 18v1m0 10v1m0 4v1m0 14v1m0 11v1m0 3v1m0 13v1m0 1v1m0 5v1m0 8v1m0 11v1m0 1v1m0 2v1m0 6v1m0 16v1m0 1v1m0 6v1m28-16v1m2-79v1m0 31v1m0 19v1m0 11v1m0 39v1m1-93v1m0 37v1m3-119v1m0 3v1m0 14v1m0 3v1m2 0v1m1 152v1m0 10v1m0 15v1m1-194v1m0 8v1m0 149v1m0 2v1m0 7v1m1-157v1m1-6v1m2-23v1m0 49v1m0 101v1m0 35v1m2-151v1m0 112v1m0 2v1m2-117v1m0 121v1m0 3v1m1-69v1m0 66v1m0 4v1m1-97v1m0 30v1m0 13v1m1-36v1m0 63v1m1-48v1m2-25v1m0 7v1m0 6v1m0 7v1m0 55v1m2-72v1m0 1v1m0 13v1m0 2v1m0 15v1m0 2v1m27-156v1m0 7v1m0 6v1m0 2v1m0 8v1m0 5v1m0 10v1m0 6v1m0 2v1m0 6v1m0 3v1m0 14v1m0 6v1m0 1v1m0 5v1m0 5v1m0 3v1m0 2v1m0 6v1m0 11v1m0 1v1m0 4v1m0 2v1m0 2v1m0 10v1m0 2v1m0 4v1m0 6v1m0 1v1m0 5v1m0 18v2m0 1v1m0 15v1m0 10v1m4-73v1m0 15v1m0 8v1m0 34v1m1-74v1m1-40v1m2-24v1m0 120v1m1-123v1m0 14v1m1-28v1m2 11v1m0 1v1m0 156v1m0 12v1m2-196v1m1 4v1m0 8v1m0 14v1m0 137v1m1-174v1m0 175v1m0 17v1m1-48v1m0 1v1m2-116v1m0 16v1m0 22v1m0 59v1m2-84v1m0 35v1m0 10v1m0 70v1m3-138v1m0 114v1m0 15v1m2-127v1m0 9v1m0 3v1m0 1v1m0 1v1m0 9v1m0 6v1m0 15v1m0 15v1m0 17v1m0 2v1m0 47v1"/>
<path stroke="#2c7fb8" d="M106 289v1m2-63v1m2 4v1m0 6v1m0 9v1m0 3v1m3 5v1m2-34v1m4 53v1m2-55v1m0 46v1m0 3v1m2-62v1m0 1v1m0 12v1m2-32v1m2-6v1m0 68v1m1-39v1m1-3v1m0 28v1m1-16v1m0 3v1m0 3v1m0 1v1m33 17v1m0 4v1m0 1v1m2-61v1m0 5v1m1 12v1m0 15v1m8 32v1m4-69v1m4 43v1m2 4v1m1-31v1m0 11v1m0 2v1m187-16v1m7-2v1m1 15v1m0 7v1m3-29v1m0 28v1m3 0v1m3-23v1m5 2v1m0 5v1m0 3v1m32-129v1m0 186v1m0 15v1m0 4v1m0 10v1m0 6v1m2-197v1m0 1v1m0 5v1m0 9v1m0 182v1m1-156v1m1 125v1m0 1v1m1 16v1m1-40v1m0 3v1m1 2v1m1-128v1m2 3v1m1 114v1m0 1v1m1-212v1m0 92v1m2-9v1m0 11v1m0 14v1m0 11v1m0 55v1m0 9v1m2-167v1m0 30v1m2-42v1m0 37v1m0 15v1m0 158v1m1-6v1m1-149v1m0 151v1m0 3v1m1-164v1m0 4v1m0 13v1m0 4v1m0 14v1m0 3v1m0 6v1m0 2v1m0 2v1m0 7v1m0 4v1m0 3v1m0 7v1m0 4v1m0 4v1m0 3v1m0 4v1m0 14v1m0 3v1m0 2v1m28-14v1m2-102v1m0 36v1m0 81v1m1-23v1m0 60v1m3-169v1m0 14v1m0 8v1m1 124v1m1-152v1m2-7v1m0 5v1m0 2v1m0 15v1m2 4v1m0 164v1m1-164v1m2-14v1m0 3v1m0 151v1m2 2v1m0 5v1m1-9v1m1-194v1m0 15v1m0 15v1m0 42v1m0 2v1m0 1v1m0 28v1m0 40v1m0 35v1m0 10v1m1-163v1m0 15v1m0 50v1m0 49v1m1-119v1m0 39v1m0 70v1m1-83v1m0 111v1m0 4v1m2-118v1m2 35v1m0 12v1m0 2v1m0 50v1m27-203v1m0 19v1m0 1v1m0 8v1m0 8v1m0 5v1m0 3v1m0 4v1m0 1v1m0 7v1m0 11v1m0 3v1m0 1v1m0 2v1m0 7v1m0 7v1m0 5v1m0 3v1m0 7v1m0 13v1m0 18v1m0 4v1m0 11v1m0 8v1m0 11v1m0 8v1m0 12v1m0 4v1m0 6v1m0 27v1m5-154v1m0 50v1m0 44v1m1-112v1m0 116v1m0 11v1m1 23v1m1-39v1m1 12v1m1-123v1m2-68v1m0 210v1m0 5v1m2-210v1m0 49v1m0 160v1m1 0v1m1-200v1m0 161v1m0 21v1m0 11v1m0 28v1m0 5v1m1-89v1m1 20v1m2-14v1m0 18v1m1-145v1m0 5v1m1 26v1m0 78v1m1-104v1m0 1v1m0 130v1m1-34v1m0 31v1m0 18v1m1-151v1m0 15v1m0 43v1m1-79v1m0 12v1m0 1v1m0 38v1m0 15v1m0 2v1m0 11v1m0 18v1m0 7v1m0 6v1m0 8v1m0 8v1m0 7v1m0 29v1m0 1v1"/>
</g>
</g>
<path class="ax" d="M75.64 66.5H80.5M75.64 111.5H80.5M75.64 156.5H80.5M75.64 200.5H80.5M75.64 245.5H80.5M75.64 290.5H80.5M75.64 335.5H80.5M75.64 380.5H80.5M75.64 425.5H80.5M121.5 427.5V432.36M193.5 427.5V432.36M265.5 427.5V432.36M337.5 427.5V432.36M410.5 427.5V432.36M482.5 427.5V432.36M554.5 427.5V432.36"/>
<path class="ax" stroke-linecap="square" d="M80.5 58.5H576.5V427.5H80.5Z"/>
<g style="filter:grayscale(1)">
<text class="t10" text-anchor="end" x="70.28" y="71.03">42</text>
<text class="t10" text-anchor="end" x="70.28" y="115.97">40</text>
<text class="t10" text-anchor="end" x="70.28" y="160.9">38</text>
<text class="t10" text-anchor="end" x="70.28" y="205.84">36</text>
<text class="t10" text-anchor="end" x="70.28" y="250.78">34</text>
<text class="t10" text-anchor="end" x="70.28" y="295.71">32</text>
<text class="t10" text-anchor="end" x="70.28" y="340.65">30</text>
<text class="t10" text-anchor="end" x="70.28" y="385.59">28</text>
<text class="t10" text-anchor="end" x="70.28" y="430.52">26</text>
<text class="t10" style="letter-spacing:-0.04px" text-anchor="middle" x="120.4" y="448.3">2.4540</text>
<text class="t10" style="letter-spacing:-0.04px" text-anchor="middle" x="192.6" y="448.3">2.4545</text>
<text class="t10" style="letter-spacing:-0.04px" text-anchor="middle" x="264.8" y="448.3">2.4550</text>
<text class="t10" style="letter-spacing:-0.04px" text-anchor="middle" x="337.0" y="448.3">2.4555</text>
<text class="t10" style="letter-spacing:-0.04px" text-anchor="middle" x="409.2" y="448.3">2.4560</text>
<text class="t10" style="letter-spacing:-0.04px" text-anchor="middle" x="481.4" y="448.3">2.4565</text>
<text class="t10" style="letter-spacing:-0.04px" text-anchor="middle" x="553.6" y="448.3">2.4570</text>
<text class="t10" text-anchor="middle" x="328" y="467.3">time</text>
<text class="t10" text-anchor="end" x="576" y="465.9">1e6</text>
<text class="t10" text-anchor="middle" transform="translate(43.4 243.2) rotate(-90)">flux</text>
<text class="t12" text-anchor="middle" x="328" y="49.27">1SWASPJ000113.40-332706.8</text>
</g>
</svg>
</body>
</html>
